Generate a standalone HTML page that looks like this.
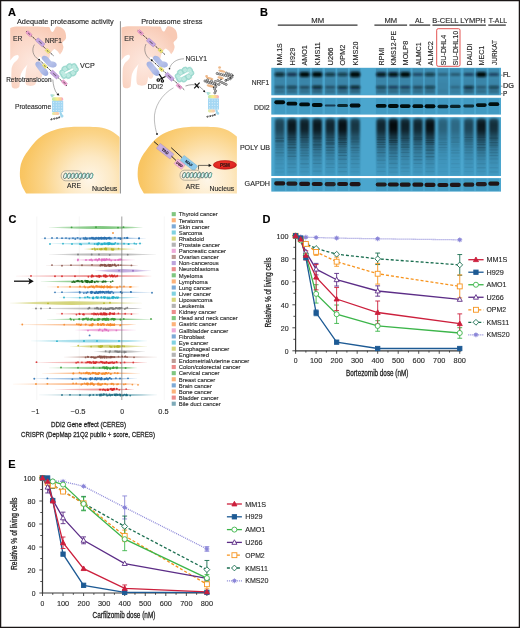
<!DOCTYPE html><html><head><meta charset="utf-8"><style>html,body{margin:0;padding:0;background:#fff;width:520px;height:628px;overflow:hidden}svg{display:block;will-change:transform}text{font-family:"Liberation Sans",sans-serif;stroke:#2a2a2a;stroke-width:0.14px}</style></head><body>
<svg width="520" height="628" viewBox="0 0 520 628">
<rect x="0" y="0" width="520" height="628" fill="#fff"/>
<defs><radialGradient id="erg" cx="0.4" cy="0.6" r="0.65"><stop offset="0" stop-color="#fde8df"/><stop offset="0.6" stop-color="#fbd9ca"/><stop offset="1" stop-color="#f8cab5"/></radialGradient><radialGradient id="nucgl" gradientUnits="userSpaceOnUse" cx="90" cy="180" r="78"><stop offset="0" stop-color="#fef6e8"/><stop offset="0.3" stop-color="#fde9c4"/><stop offset="0.6" stop-color="#fbd488"/><stop offset="0.85" stop-color="#f9c664"/><stop offset="1" stop-color="#f8c15a"/></radialGradient><radialGradient id="nucgr" gradientUnits="userSpaceOnUse" cx="207.8" cy="180" r="78"><stop offset="0" stop-color="#fef6e8"/><stop offset="0.3" stop-color="#fde9c4"/><stop offset="0.6" stop-color="#fbd488"/><stop offset="0.85" stop-color="#f9c664"/><stop offset="1" stop-color="#f8c15a"/></radialGradient><linearGradient id="beang" x1="0" y1="0" x2="1" y2="1"><stop offset="0" stop-color="#a3b2e2"/><stop offset="0.6" stop-color="#b7c2ea"/><stop offset="1" stop-color="#a2b0e0"/></linearGradient><linearGradient id="beang2" x1="0" y1="0" x2="1" y2="1"><stop offset="0" stop-color="#a0afe0"/><stop offset="0.5" stop-color="#b9c4ec"/><stop offset="1" stop-color="#96a6dc"/></linearGradient><linearGradient id="capg" x1="0" y1="0" x2="1" y2="0"><stop offset="0" stop-color="#b8e8a8"/><stop offset="0.45" stop-color="#fbf08a"/><stop offset="0.8" stop-color="#fbc8a0"/><stop offset="1" stop-color="#f6a0c8"/></linearGradient><linearGradient id="botg" x1="0" y1="0" x2="1" y2="0"><stop offset="0" stop-color="#d8f0a0"/><stop offset="0.5" stop-color="#fbd8a8"/><stop offset="1" stop-color="#f8c4b0"/></linearGradient><linearGradient id="flagg" x1="0" y1="0" x2="1" y2="0"><stop offset="0" stop-color="#9ad8f0"/><stop offset="1" stop-color="#c8ecb0"/></linearGradient><radialGradient id="psmg" cx="0.45" cy="0.4" r="0.7"><stop offset="0" stop-color="#ee3a2c"/><stop offset="0.7" stop-color="#de2420"/><stop offset="1" stop-color="#c01616"/></radialGradient><clipPath id="cl"><rect x="1" y="1" width="118.6" height="192.5"/></clipPath><clipPath id="cr"><rect x="121.2" y="1" width="115.7" height="192.5"/></clipPath></defs>
<g clip-path="url(#cl)"><path d="M27.2 195.5 C26.98 195.12 26.73 194.68 25.9 193.2 C25.07 191.72 23.15 188.92 22.2 186.6 C21.25 184.28 20.58 181.75 20.2 179.3 C19.82 176.85 19.8 174.35 19.9 171.9 C20 169.45 20.17 167.03 20.8 164.6 C21.43 162.17 22.37 159.77 23.7 157.3 C25.03 154.83 26.73 152.55 28.8 149.8 C30.87 147.05 33.33 143.47 36.1 140.8 C38.87 138.13 41.93 135.73 45.4 133.8 C48.87 131.87 53.07 130.3 56.9 129.2 C60.73 128.1 64.55 127.62 68.4 127.2 C72.25 126.78 75.43 126.72 80 126.7 C84.57 126.68 91.13 126.63 95.8 127.1 C100.47 127.57 104.13 127.93 108 129.5 C111.87 131.07 115.83 133.75 119 136.5 C122.17 139.25 125.67 144.42 127 146 L126 196Z" fill="url(#nucgl)"/></g>
<g clip-path="url(#cr)"><path d="M145 195.5 C144.78 195.12 144.53 194.68 143.7 193.2 C142.87 191.72 140.95 188.92 140 186.6 C139.05 184.28 138.38 181.75 138 179.3 C137.62 176.85 137.6 174.35 137.7 171.9 C137.8 169.45 137.97 167.03 138.6 164.6 C139.23 162.17 140.17 159.77 141.5 157.3 C142.83 154.83 144.53 152.55 146.6 149.8 C148.67 147.05 151.13 143.47 153.9 140.8 C156.67 138.13 159.73 135.73 163.2 133.8 C166.67 131.87 170.87 130.3 174.7 129.2 C178.53 128.1 182.35 127.62 186.2 127.2 C190.05 126.78 193.23 126.72 197.8 126.7 C202.37 126.68 208.93 126.63 213.6 127.1 C218.27 127.57 221.93 127.93 225.8 129.5 C229.67 131.07 233.63 133.75 236.8 136.5 C239.97 139.25 243.47 144.42 244.8 146 L245 196Z" fill="url(#nucgr)"/></g>
<path d="M121.4 27.6 C124 26.6 127 26.3 130 26.3 C138 26.2 146 26.2 152 26.4 C155 26.5 158 26.6 160.4 26.6 C161.6 28 161.8 31.5 163.6 31.6 C165.4 31.6 166 27.6 167.3 26.5 C169.5 25.6 172.8 27 175 29.2 C176.6 30.8 177.4 34 177.3 37.7 C177 39.6 174.5 40.6 173.5 42.5 C173.3 44 174.8 45.2 174.6 47.2 C174.3 50 172.6 52.5 171.2 54.2 C170 52.4 168.4 49.8 165.8 48.6 C164 49.2 162.4 51.6 161.5 53.8 L160.4 58.5 L156 61 L154.5 62 C153.5 65 153.2 68 153.4 71.3 C153.8 74.5 153.4 78 151.3 78.7 C149.6 79.2 148.6 77.8 148.2 76.5 C147.8 79 147.8 82 146.5 84 C144.5 86 140 86.3 137.5 84.5 C136.2 83 136.3 78 136.7 74 C137 70 137.8 66 138.7 64.1 C136.5 66.5 133.5 70 132 74 C131 78 131.3 84 130.5 86.5 C129.5 88.5 125 89 123.2 87 C122.4 84 122.4 75 122.8 68 C123.6 65 124.5 63.5 125.6 62.3 C127 60.8 129.6 59 129.9 57.2 C130.2 55.8 129.6 54.7 128.6 54.7 C126.8 54.8 125 56 123.8 57.2 C122.9 58.2 122 59.2 121.4 60.2 Z" fill="url(#erg)" transform="translate(-111.2 0.3)"/>
<path d="M121.4 27.6 C124 26.6 127 26.3 130 26.3 C138 26.2 146 26.2 152 26.4 C155 26.5 158 26.6 160.4 26.6 C161.6 28 161.8 31.5 163.6 31.6 C165.4 31.6 166 27.6 167.3 26.5 C169.5 25.6 172.8 27 175 29.2 C176.6 30.8 177.4 34 177.3 37.7 C177 39.6 174.5 40.6 173.5 42.5 C173.3 44 174.8 45.2 174.6 47.2 C174.3 50 172.6 52.5 171.2 54.2 C170 52.4 168.4 49.8 165.8 48.6 C164 49.2 162.4 51.6 161.5 53.8 L160.4 58.5 L156 61 L154.5 62 C153.5 65 153.2 68 153.4 71.3 C153.8 74.5 153.4 78 151.3 78.7 C149.6 79.2 148.6 77.8 148.2 76.5 C147.8 79 147.8 82 146.5 84 C144.5 86 140 86.3 137.5 84.5 C136.2 83 136.3 78 136.7 74 C137 70 137.8 66 138.7 64.1 C136.5 66.5 133.5 70 132 74 C131 78 131.3 84 130.5 86.5 C129.5 88.5 125 89 123.2 87 C122.4 84 122.4 75 122.8 68 C123.6 65 124.5 63.5 125.6 62.3 C127 60.8 129.6 59 129.9 57.2 C130.2 55.8 129.6 54.7 128.6 54.7 C126.8 54.8 125 56 123.8 57.2 C122.9 58.2 122 59.2 121.4 60.2 Z" fill="url(#erg)"/>
<line x1="120.4" y1="21.2" x2="120.4" y2="193.5" stroke="#8c8c8c" stroke-width="1"/>
<text x="16.9" y="23.5" font-size="7.9" fill="#2a2a2a" textLength="96.8" lengthAdjust="spacingAndGlyphs">Adequate proteasome activity</text>
<text x="141.2" y="23.5" font-size="7.9" fill="#2a2a2a" textLength="61.3" lengthAdjust="spacingAndGlyphs">Proteasome stress</text>
<text x="8.1" y="15.8" font-size="11" fill="#000" font-weight="bold" style="stroke:#000;stroke-width:0.15px">A</text>
<text x="13.1" y="40.6" font-size="7" fill="#3a3a3a" textLength="9.4" lengthAdjust="spacingAndGlyphs">ER</text>
<text x="124.3" y="41" font-size="7" fill="#3a3a3a" textLength="9.6" lengthAdjust="spacingAndGlyphs">ER</text>
<text x="45" y="42.5" font-size="7" fill="#2a2a2a" textLength="16.9" lengthAdjust="spacingAndGlyphs">NRF1</text>
<line x1="26.3" y1="31.3" x2="53.4" y2="55.6" stroke="#0a0a0a" stroke-width="0.85" stroke-dasharray="1.4 0.8"/>
<rect x="26.05" y="32.2" width="5.9" height="3" rx="0.6" fill="#f0a4d4" stroke="#c26aa6" stroke-width="0.35" transform="rotate(41.88 29 33.7)"/>
<rect x="27.6" y="33.25" width="2.8" height="0.9" fill="#4a4048" opacity="0.75" transform="rotate(41.88 29 33.7)"/>
<rect x="35.5" y="40.3" width="9.4" height="4" rx="0.6" fill="#c6a6e0" stroke="#9a78b8" stroke-width="0.35" transform="rotate(41.88 40.2 42.3)"/>
<rect x="38.2" y="41.85" width="4" height="0.9" fill="#4a4048" opacity="0.75" transform="rotate(41.88 40.2 42.3)"/>
<rect x="45.45" y="49.5" width="4.5" height="3" rx="0.6" fill="#f6f07c" stroke="#c8c040" stroke-width="0.35" transform="rotate(41.88 47.7 51)"/>
<rect x="46.7" y="50.55" width="2" height="0.9" fill="#4a4048" opacity="0.75" transform="rotate(41.88 47.7 51)"/>
<g transform="translate(-111.2 0)"><line x1="149.8" y1="57.8" x2="163.5" y2="71.8" stroke="#fff" stroke-width="3.4"/><path d="M154.2 56.0 C156 55.2 158 56 159.3 57.5 L162.3 61.2 C165 61.3 167.6 62.2 167.9 64.3 C168.1 66.6 166 67.9 163.4 67.6 C161.4 67.4 159.9 66.5 158.5 65.2 L153.5 59.6 C152.5 58.4 152.8 56.8 154.2 56.0 Z" fill="url(#beang)"/><path d="M147.5 62.0 C149 61 151 61.5 152 62.8 L156.8 68.5 C158.5 70.2 159.9 72 159.5 74 C159.1 75.8 157 76.4 155.2 75.5 C153.5 74.6 152.5 73.5 151.6 72.2 L147.2 66.2 C146.2 64.8 146.3 63 147.5 62.0 Z" fill="url(#beang2)"/></g>
<path d="M34.4 44.6 C31.2 50 33.2 56.2 38.2 59.2" fill="none" stroke="#555" stroke-width="0.5"/>
<line x1="39" y1="59.6" x2="67" y2="86" stroke="#0a0a0a" stroke-width="0.85" stroke-dasharray="1.4 0.8"/>
<rect x="42.55" y="64.5" width="4.5" height="3" rx="0.6" fill="#f6f07c" stroke="#c8c040" stroke-width="0.35" transform="rotate(43.32 44.8 66)"/>
<rect x="43.8" y="65.55" width="2" height="0.9" fill="#4a4048" opacity="0.75" transform="rotate(43.32 44.8 66)"/>
<rect x="49.9" y="72.6" width="9.4" height="4" rx="0.6" fill="#c6a6e0" stroke="#9a78b8" stroke-width="0.35" transform="rotate(43.32 54.6 74.6)"/>
<rect x="52.6" y="74.15" width="4" height="0.9" fill="#4a4048" opacity="0.75" transform="rotate(43.32 54.6 74.6)"/>
<rect x="61.45" y="81.2" width="5.9" height="3" rx="0.6" fill="#f0a4d4" stroke="#c26aa6" stroke-width="0.35" transform="rotate(43.32 64.4 82.7)"/>
<rect x="63" y="82.25" width="2.8" height="0.9" fill="#4a4048" opacity="0.75" transform="rotate(43.32 64.4 82.7)"/>
<circle cx="39" cy="59.6" r="0.9" fill="#111"/>
<g transform="translate(69 71) rotate(-28)">
<ellipse cx="0" cy="0" rx="6.4" ry="3.4" fill="#a4ddd3"/>
<circle cx="6.37" cy="1.49" r="3.2" fill="#a4ddd3" stroke="#88d1c4" stroke-width="0.35"/>
<circle cx="2.64" cy="3.6" r="3.2" fill="#a4ddd3" stroke="#88d1c4" stroke-width="0.35"/>
<circle cx="-2.64" cy="3.6" r="3.2" fill="#a4ddd3" stroke="#88d1c4" stroke-width="0.35"/>
<circle cx="-6.37" cy="1.49" r="3.2" fill="#a4ddd3" stroke="#88d1c4" stroke-width="0.35"/>
<circle cx="-6.37" cy="-1.49" r="3.2" fill="#a4ddd3" stroke="#88d1c4" stroke-width="0.35"/>
<circle cx="-2.64" cy="-3.6" r="3.2" fill="#a4ddd3" stroke="#88d1c4" stroke-width="0.35"/>
<circle cx="2.64" cy="-3.6" r="3.2" fill="#a4ddd3" stroke="#88d1c4" stroke-width="0.35"/>
<circle cx="6.37" cy="-1.49" r="3.2" fill="#a4ddd3" stroke="#88d1c4" stroke-width="0.35"/>
<circle cx="6.37" cy="1.49" r="1.5" fill="#b9e8df" stroke="#d6f3ed" stroke-width="0.4"/>
<circle cx="2.64" cy="3.6" r="1.5" fill="#b9e8df" stroke="#d6f3ed" stroke-width="0.4"/>
<circle cx="-2.64" cy="3.6" r="1.5" fill="#b9e8df" stroke="#d6f3ed" stroke-width="0.4"/>
<circle cx="-6.37" cy="1.49" r="1.5" fill="#b9e8df" stroke="#d6f3ed" stroke-width="0.4"/>
<circle cx="-6.37" cy="-1.49" r="1.5" fill="#b9e8df" stroke="#d6f3ed" stroke-width="0.4"/>
<circle cx="-2.64" cy="-3.6" r="1.5" fill="#b9e8df" stroke="#d6f3ed" stroke-width="0.4"/>
<circle cx="2.64" cy="-3.6" r="1.5" fill="#b9e8df" stroke="#d6f3ed" stroke-width="0.4"/>
<circle cx="6.37" cy="-1.49" r="1.5" fill="#b9e8df" stroke="#d6f3ed" stroke-width="0.4"/>
<circle cx="-3.3" cy="0.2" r="1.2" fill="#b9e8df" stroke="#d6f3ed" stroke-width="0.4"/>
<circle cx="3.3" cy="-0.2" r="1.2" fill="#b9e8df" stroke="#d6f3ed" stroke-width="0.4"/>
<ellipse cx="0" cy="0" rx="5.0" ry="0.9" fill="#fff"/>
</g>
<text x="80" y="68" font-size="7.2" fill="#2a2a2a" textLength="14.7" lengthAdjust="spacingAndGlyphs">VCP</text>
<text x="6.2" y="82.3" font-size="6.9" fill="#2a2a2a" textLength="45.3" lengthAdjust="spacingAndGlyphs">Retrotranslocon</text>
<path d="M52.8 79.5 C53.2 85 54.5 91 57.4 94" fill="none" stroke="#555" stroke-width="0.5"/>
<path d="M59.4 95.6 L56.6 94.9 L58.2 93.0Z" fill="#111"/>
<g transform="translate(52 100.7) scale(1)">
<path d="M-1.8 -6 C-0.5 -6.8 2 -6.6 3.2 -5.6 C2 -5 1.2 -4.4 1 -3.4 L-0.2 -3.2 C-0.6 -4.2 -1.4 -5 -1.8 -6Z" fill="url(#flagg)"/>
<rect x="0" y="-3.4" width="11.2" height="3.6" rx="1.6" fill="url(#capg)"/>
<rect x="0" y="0" width="11.2" height="11.4" fill="#a4d7f3"/>
<circle cx="1.6" cy="1.6" r="0.55" fill="#e4f4fc"/>
<circle cx="1.6" cy="4.35" r="0.55" fill="#e4f4fc"/>
<circle cx="1.6" cy="7.1" r="0.55" fill="#e4f4fc"/>
<circle cx="1.6" cy="9.85" r="0.55" fill="#e4f4fc"/>
<circle cx="4.3" cy="1.6" r="0.55" fill="#e4f4fc"/>
<circle cx="4.3" cy="4.35" r="0.55" fill="#e4f4fc"/>
<circle cx="4.3" cy="7.1" r="0.55" fill="#e4f4fc"/>
<circle cx="4.3" cy="9.85" r="0.55" fill="#e4f4fc"/>
<circle cx="7" cy="1.6" r="0.55" fill="#e4f4fc"/>
<circle cx="7" cy="4.35" r="0.55" fill="#e4f4fc"/>
<circle cx="7" cy="7.1" r="0.55" fill="#e4f4fc"/>
<circle cx="7" cy="9.85" r="0.55" fill="#e4f4fc"/>
<circle cx="9.7" cy="1.6" r="0.55" fill="#e4f4fc"/>
<circle cx="9.7" cy="4.35" r="0.55" fill="#e4f4fc"/>
<circle cx="9.7" cy="7.1" r="0.55" fill="#e4f4fc"/>
<circle cx="9.7" cy="9.85" r="0.55" fill="#e4f4fc"/>
<rect x="0" y="11.2" width="7.2" height="3.2" rx="1.5" fill="url(#botg)"/>
<path d="M7.6 11 C9.5 11 10.2 12 10 13.5 C11.4 14 12 15.5 11 16.5 C9.6 17.2 8.2 16.5 8.4 15 C7.8 14 7.4 12.5 7.6 11Z" fill="#9fd6ec"/>
<path d="M-1.4 18.9 l1.2 -1.3 M-1.1 19.3 l1.6 -0.7" stroke="#111" stroke-width="0.85" fill="none"/>
<path d="M1.4 18.3 l1.2 -1.3 M1.7 18.7 l1.6 -0.7" stroke="#111" stroke-width="0.85" fill="none"/>
<path d="M3.9 17.8 l1.2 -1.3 M4.2 18.2 l1.6 -0.7" stroke="#111" stroke-width="0.85" fill="none"/>
<path d="M6.2 17 l1.2 -1.3 M6.5 17.4 l1.6 -0.7" stroke="#111" stroke-width="0.85" fill="none"/>
</g>
<text x="14.9" y="108.9" font-size="7" fill="#2a2a2a" textLength="36.3" lengthAdjust="spacingAndGlyphs">Proteasome</text>
<rect x="61.2" y="170.8" width="21" height="10" rx="4.5" fill="#fcefd6" stroke="#8a8478" stroke-width="0.6"/>
<ellipse cx="65.2" cy="175.8" rx="1.5" ry="2.9" transform="rotate(18 65.2 175.8)" fill="#e6f6f2" stroke="#2c4644" stroke-width="0.6"/>
<path d="M65.9 178.2 C66.8 176.3 66.8 174.3 66.4 173.2" stroke="#6cc2b2" stroke-width="0.9" fill="none"/>
<ellipse cx="68.92" cy="175.8" rx="1.5" ry="2.9" transform="rotate(18 68.92 175.8)" fill="#e6f6f2" stroke="#2c4644" stroke-width="0.6"/>
<path d="M69.62 178.2 C70.52 176.3 70.52 174.3 70.12 173.2" stroke="#6cc2b2" stroke-width="0.9" fill="none"/>
<ellipse cx="72.64" cy="175.8" rx="1.5" ry="2.9" transform="rotate(18 72.64 175.8)" fill="#e6f6f2" stroke="#2c4644" stroke-width="0.6"/>
<path d="M73.34 178.2 C74.24 176.3 74.24 174.3 73.84 173.2" stroke="#6cc2b2" stroke-width="0.9" fill="none"/>
<ellipse cx="76.36" cy="175.8" rx="1.5" ry="2.9" transform="rotate(18 76.36 175.8)" fill="#e6f6f2" stroke="#2c4644" stroke-width="0.6"/>
<path d="M77.06 178.2 C77.96 176.3 77.96 174.3 77.56 173.2" stroke="#6cc2b2" stroke-width="0.9" fill="none"/>
<ellipse cx="80.08" cy="175.8" rx="1.5" ry="2.9" transform="rotate(18 80.08 175.8)" fill="#e6f6f2" stroke="#2c4644" stroke-width="0.6"/>
<path d="M80.78 178.2 C81.68 176.3 81.68 174.3 81.28 173.2" stroke="#6cc2b2" stroke-width="0.9" fill="none"/>
<ellipse cx="83.8" cy="175.8" rx="1.5" ry="2.9" transform="rotate(18 83.8 175.8)" fill="#e6f6f2" stroke="#2c4644" stroke-width="0.6"/>
<path d="M84.5 178.2 C85.4 176.3 85.4 174.3 85 173.2" stroke="#6cc2b2" stroke-width="0.9" fill="none"/>
<ellipse cx="87.52" cy="175.8" rx="1.5" ry="2.9" transform="rotate(18 87.52 175.8)" fill="#e6f6f2" stroke="#2c4644" stroke-width="0.6"/>
<path d="M88.22 178.2 C89.12 176.3 89.12 174.3 88.72 173.2" stroke="#6cc2b2" stroke-width="0.9" fill="none"/>
<ellipse cx="91.24" cy="175.8" rx="1.5" ry="2.9" transform="rotate(18 91.24 175.8)" fill="#e6f6f2" stroke="#2c4644" stroke-width="0.6"/>
<path d="M91.94 178.2 C92.84 176.3 92.84 174.3 92.44 173.2" stroke="#6cc2b2" stroke-width="0.9" fill="none"/>
<text x="67.1" y="187.9" font-size="7.2" fill="#2a2a2a" textLength="13.9" lengthAdjust="spacingAndGlyphs">ARE</text>
<text x="92" y="190.5" font-size="6.9" fill="#2a2a2a" textLength="25.3" lengthAdjust="spacingAndGlyphs">Nucleus</text>
<line x1="137.8" y1="30.5" x2="165" y2="54.6" stroke="#0a0a0a" stroke-width="0.85" stroke-dasharray="1.4 0.8"/>
<rect x="137.55" y="31" width="5.9" height="3" rx="0.6" fill="#f0a4d4" stroke="#c26aa6" stroke-width="0.35" transform="rotate(41.54 140.5 32.5)"/>
<rect x="139.1" y="32.05" width="2.8" height="0.9" fill="#4a4048" opacity="0.75" transform="rotate(41.54 140.5 32.5)"/>
<rect x="146.4" y="40.5" width="9.4" height="4" rx="0.6" fill="#c6a6e0" stroke="#9a78b8" stroke-width="0.35" transform="rotate(41.54 151.1 42.5)"/>
<rect x="149.1" y="42.05" width="4" height="0.9" fill="#4a4048" opacity="0.75" transform="rotate(41.54 151.1 42.5)"/>
<rect x="158.25" y="49.1" width="4.5" height="3" rx="0.6" fill="#f6f07c" stroke="#c8c040" stroke-width="0.35" transform="rotate(41.54 160.5 50.6)"/>
<rect x="159.5" y="50.15" width="2" height="0.9" fill="#4a4048" opacity="0.75" transform="rotate(41.54 160.5 50.6)"/>
<g transform="translate(0 0)"><line x1="149.8" y1="57.8" x2="163.5" y2="71.8" stroke="#fff" stroke-width="3.4"/><path d="M154.2 56.0 C156 55.2 158 56 159.3 57.5 L162.3 61.2 C165 61.3 167.6 62.2 167.9 64.3 C168.1 66.6 166 67.9 163.4 67.6 C161.4 67.4 159.9 66.5 158.5 65.2 L153.5 59.6 C152.5 58.4 152.8 56.8 154.2 56.0 Z" fill="url(#beang)"/><path d="M147.5 62.0 C149 61 151 61.5 152 62.8 L156.8 68.5 C158.5 70.2 159.9 72 159.5 74 C159.1 75.8 157 76.4 155.2 75.5 C153.5 74.6 152.5 73.5 151.6 72.2 L147.2 66.2 C146.2 64.8 146.3 63 147.5 62.0 Z" fill="url(#beang2)"/></g>
<path d="M146 44 C143.2 50 145.5 56.5 151 60" fill="none" stroke="#555" stroke-width="0.5"/>
<line x1="151.75" y1="60.25" x2="184.5" y2="90" stroke="#0a0a0a" stroke-width="0.85" stroke-dasharray="1.4 0.8"/>
<rect x="159.05" y="67.7" width="4.5" height="3" rx="0.6" fill="#f6f07c" stroke="#c8c040" stroke-width="0.35" transform="rotate(42.25 161.3 69.2)"/>
<rect x="160.3" y="68.75" width="2" height="0.9" fill="#4a4048" opacity="0.75" transform="rotate(42.25 161.3 69.2)"/>
<rect x="164.8" y="74.8" width="9.4" height="4" rx="0.6" fill="#c6a6e0" stroke="#9a78b8" stroke-width="0.35" transform="rotate(42.25 169.5 76.8)"/>
<rect x="167.5" y="76.35" width="4" height="0.9" fill="#4a4048" opacity="0.75" transform="rotate(42.25 169.5 76.8)"/>
<rect x="176.25" y="84.9" width="5.9" height="3" rx="0.6" fill="#f0a4d4" stroke="#c26aa6" stroke-width="0.35" transform="rotate(42.25 179.2 86.4)"/>
<rect x="177.8" y="85.95" width="2.8" height="0.9" fill="#4a4048" opacity="0.75" transform="rotate(42.25 179.2 86.4)"/>
<circle cx="151.75" cy="60.25" r="0.9" fill="#111"/>
<g stroke="#111" stroke-width="1.2" fill="none"><path d="M159.2 74.2 L162.6 79.4 M165.5 76.5 L159.9 79.3"/><circle cx="158.3" cy="80.0" r="1.25"/><circle cx="162.4" cy="80.9" r="1.15"/></g>
<text x="147.4" y="89.4" font-size="7.2" fill="#2a2a2a" textLength="15.6" lengthAdjust="spacingAndGlyphs">DDI2</text>
<g transform="translate(184.5 74.6) rotate(-28)">
<ellipse cx="0" cy="0" rx="6.4" ry="3.4" fill="#a4ddd3"/>
<circle cx="6.37" cy="1.49" r="3.2" fill="#a4ddd3" stroke="#88d1c4" stroke-width="0.35"/>
<circle cx="2.64" cy="3.6" r="3.2" fill="#a4ddd3" stroke="#88d1c4" stroke-width="0.35"/>
<circle cx="-2.64" cy="3.6" r="3.2" fill="#a4ddd3" stroke="#88d1c4" stroke-width="0.35"/>
<circle cx="-6.37" cy="1.49" r="3.2" fill="#a4ddd3" stroke="#88d1c4" stroke-width="0.35"/>
<circle cx="-6.37" cy="-1.49" r="3.2" fill="#a4ddd3" stroke="#88d1c4" stroke-width="0.35"/>
<circle cx="-2.64" cy="-3.6" r="3.2" fill="#a4ddd3" stroke="#88d1c4" stroke-width="0.35"/>
<circle cx="2.64" cy="-3.6" r="3.2" fill="#a4ddd3" stroke="#88d1c4" stroke-width="0.35"/>
<circle cx="6.37" cy="-1.49" r="3.2" fill="#a4ddd3" stroke="#88d1c4" stroke-width="0.35"/>
<circle cx="6.37" cy="1.49" r="1.5" fill="#b9e8df" stroke="#d6f3ed" stroke-width="0.4"/>
<circle cx="2.64" cy="3.6" r="1.5" fill="#b9e8df" stroke="#d6f3ed" stroke-width="0.4"/>
<circle cx="-2.64" cy="3.6" r="1.5" fill="#b9e8df" stroke="#d6f3ed" stroke-width="0.4"/>
<circle cx="-6.37" cy="1.49" r="1.5" fill="#b9e8df" stroke="#d6f3ed" stroke-width="0.4"/>
<circle cx="-6.37" cy="-1.49" r="1.5" fill="#b9e8df" stroke="#d6f3ed" stroke-width="0.4"/>
<circle cx="-2.64" cy="-3.6" r="1.5" fill="#b9e8df" stroke="#d6f3ed" stroke-width="0.4"/>
<circle cx="2.64" cy="-3.6" r="1.5" fill="#b9e8df" stroke="#d6f3ed" stroke-width="0.4"/>
<circle cx="6.37" cy="-1.49" r="1.5" fill="#b9e8df" stroke="#d6f3ed" stroke-width="0.4"/>
<circle cx="-3.3" cy="0.2" r="1.2" fill="#b9e8df" stroke="#d6f3ed" stroke-width="0.4"/>
<circle cx="3.3" cy="-0.2" r="1.2" fill="#b9e8df" stroke="#d6f3ed" stroke-width="0.4"/>
<ellipse cx="0" cy="0" rx="5.0" ry="0.9" fill="#fff"/>
</g>
<text x="185.5" y="61.1" font-size="7" fill="#2a2a2a" textLength="21.6" lengthAdjust="spacingAndGlyphs">NGLY1</text>
<path d="M184 58.8 C177 58.8 171.5 62.5 169.6 68" fill="none" stroke="#666" stroke-width="0.5"/>
<circle cx="169.5" cy="68.8" r="0.8" fill="#111"/>
<path d="M185.5 86 C190 84.4 194 84.2 197.5 85.5 C200 86.5 202.5 89 204.2 91.3" fill="none" stroke="#444" stroke-width="0.5"/>
<path d="M205.4 92.6 L202.9 91.6 L204.6 89.9Z" fill="#111"/>
<path d="M194.2 88.3 L199.6 82.6 M194.8 83.4 L198.8 88.0" stroke="#111" stroke-width="1.2" fill="none"/>
<ellipse cx="206.6" cy="76.2" rx="1.4" ry="1.1" transform="rotate(0 206.6 76.2)" fill="#eeb98a"/>
<ellipse cx="209.6" cy="78.3" rx="3.9" ry="1.2" transform="rotate(15 209.6 78.3)" fill="#eeb98a"/>
<ellipse cx="210.4" cy="85.9" rx="3.9" ry="1.3" transform="rotate(15 210.4 85.9)" fill="#eeb98a"/>
<circle cx="205" cy="81" r="1.1" fill="#d6d6d6" stroke="#3c3c3c" stroke-width="0.6"/>
<circle cx="206.9" cy="81.9" r="1.1" fill="#d6d6d6" stroke="#3c3c3c" stroke-width="0.6"/>
<circle cx="208.8" cy="82.4" r="1.1" fill="#d6d6d6" stroke="#3c3c3c" stroke-width="0.6"/>
<circle cx="210.7" cy="82.9" r="1.1" fill="#d6d6d6" stroke="#3c3c3c" stroke-width="0.6"/>
<circle cx="212.6" cy="83.4" r="1.1" fill="#d6d6d6" stroke="#3c3c3c" stroke-width="0.6"/>
<circle cx="214.5" cy="83.9" r="1.1" fill="#d6d6d6" stroke="#3c3c3c" stroke-width="0.6"/>
<circle cx="216.4" cy="84.3" r="1.1" fill="#d6d6d6" stroke="#3c3c3c" stroke-width="0.6"/>
<circle cx="207.5" cy="80" r="1.1" fill="#d6d6d6" stroke="#3c3c3c" stroke-width="0.6"/>
<circle cx="211.5" cy="81.2" r="1.1" fill="#d6d6d6" stroke="#3c3c3c" stroke-width="0.6"/>
<circle cx="215.2" cy="81.6" r="1.1" fill="#d6d6d6" stroke="#3c3c3c" stroke-width="0.6"/>
<circle cx="215.8" cy="86.8" r="1.05" fill="#d6d6d6" stroke="#3c3c3c" stroke-width="0.6"/>
<circle cx="214.6" cy="88.9" r="1.05" fill="#d6d6d6" stroke="#3c3c3c" stroke-width="0.6"/>
<circle cx="215.6" cy="90.9" r="1.05" fill="#d6d6d6" stroke="#3c3c3c" stroke-width="0.6"/>
<circle cx="214.8" cy="92.9" r="1.05" fill="#d6d6d6" stroke="#3c3c3c" stroke-width="0.6"/>
<ellipse cx="219.6" cy="67.5" rx="1.4" ry="1.3" transform="rotate(0 219.6 67.5)" fill="#eeb98a"/>
<ellipse cx="221.9" cy="71.1" rx="3.7" ry="1.2" transform="rotate(15 221.9 71.1)" fill="#eeb98a"/>
<ellipse cx="220.6" cy="77.8" rx="3.3" ry="1.3" transform="rotate(15 220.6 77.8)" fill="#eeb98a"/>
<circle cx="217.2" cy="73.5" r="1.1" fill="#d6d6d6" stroke="#3c3c3c" stroke-width="0.6"/>
<circle cx="219.3" cy="74" r="1.1" fill="#d6d6d6" stroke="#3c3c3c" stroke-width="0.6"/>
<circle cx="221.4" cy="74.5" r="1.1" fill="#d6d6d6" stroke="#3c3c3c" stroke-width="0.6"/>
<circle cx="223.5" cy="75" r="1.1" fill="#d6d6d6" stroke="#3c3c3c" stroke-width="0.6"/>
<circle cx="225.6" cy="75.5" r="1.1" fill="#d6d6d6" stroke="#3c3c3c" stroke-width="0.6"/>
<circle cx="227.7" cy="76" r="1.1" fill="#d6d6d6" stroke="#3c3c3c" stroke-width="0.6"/>
<circle cx="229.8" cy="76.5" r="1.1" fill="#d6d6d6" stroke="#3c3c3c" stroke-width="0.6"/>
<circle cx="231.9" cy="77.1" r="1.1" fill="#d6d6d6" stroke="#3c3c3c" stroke-width="0.6"/>
<circle cx="226.5" cy="73.2" r="1.1" fill="#d6d6d6" stroke="#3c3c3c" stroke-width="0.6"/>
<circle cx="229" cy="74" r="1.1" fill="#d6d6d6" stroke="#3c3c3c" stroke-width="0.6"/>
<circle cx="231.5" cy="74.8" r="1.1" fill="#d6d6d6" stroke="#3c3c3c" stroke-width="0.6"/>
<circle cx="217.8" cy="80.5" r="1.05" fill="#d6d6d6" stroke="#3c3c3c" stroke-width="0.6"/>
<circle cx="219.9" cy="81.5" r="1.05" fill="#d6d6d6" stroke="#3c3c3c" stroke-width="0.6"/>
<circle cx="222" cy="82.5" r="1.05" fill="#d6d6d6" stroke="#3c3c3c" stroke-width="0.6"/>
<circle cx="224.1" cy="83.5" r="1.05" fill="#d6d6d6" stroke="#3c3c3c" stroke-width="0.6"/>
<circle cx="226.2" cy="84.5" r="1.05" fill="#d6d6d6" stroke="#3c3c3c" stroke-width="0.6"/>
<circle cx="219" cy="84.5" r="1.05" fill="#d6d6d6" stroke="#3c3c3c" stroke-width="0.6"/>
<circle cx="225.8" cy="80.5" r="1.05" fill="#d6d6d6" stroke="#3c3c3c" stroke-width="0.6"/>
<circle cx="228" cy="79.5" r="1.05" fill="#d6d6d6" stroke="#3c3c3c" stroke-width="0.6"/>
<circle cx="230.3" cy="78.8" r="1.05" fill="#d6d6d6" stroke="#3c3c3c" stroke-width="0.6"/>
<circle cx="213.5" cy="87.2" r="0.7" fill="#222"/>
<circle cx="226.2" cy="80" r="0.7" fill="#222"/>
<circle cx="215.2" cy="85" r="0.7" fill="#222"/>
<circle cx="221" cy="79.4" r="0.7" fill="#222"/>
<circle cx="230.5" cy="78" r="0.7" fill="#222"/>
<circle cx="233" cy="75.5" r="0.7" fill="#222"/>
<g transform="translate(208 98.4) scale(0.98)">
<path d="M-1.8 -6 C-0.5 -6.8 2 -6.6 3.2 -5.6 C2 -5 1.2 -4.4 1 -3.4 L-0.2 -3.2 C-0.6 -4.2 -1.4 -5 -1.8 -6Z" fill="url(#flagg)"/>
<rect x="0" y="-3.4" width="11.2" height="3.6" rx="1.6" fill="url(#capg)"/>
<rect x="0" y="0" width="11.2" height="11.4" fill="#a4d7f3"/>
<circle cx="1.6" cy="1.6" r="0.55" fill="#e4f4fc"/>
<circle cx="1.6" cy="4.35" r="0.55" fill="#e4f4fc"/>
<circle cx="1.6" cy="7.1" r="0.55" fill="#e4f4fc"/>
<circle cx="1.6" cy="9.85" r="0.55" fill="#e4f4fc"/>
<circle cx="4.3" cy="1.6" r="0.55" fill="#e4f4fc"/>
<circle cx="4.3" cy="4.35" r="0.55" fill="#e4f4fc"/>
<circle cx="4.3" cy="7.1" r="0.55" fill="#e4f4fc"/>
<circle cx="4.3" cy="9.85" r="0.55" fill="#e4f4fc"/>
<circle cx="7" cy="1.6" r="0.55" fill="#e4f4fc"/>
<circle cx="7" cy="4.35" r="0.55" fill="#e4f4fc"/>
<circle cx="7" cy="7.1" r="0.55" fill="#e4f4fc"/>
<circle cx="7" cy="9.85" r="0.55" fill="#e4f4fc"/>
<circle cx="9.7" cy="1.6" r="0.55" fill="#e4f4fc"/>
<circle cx="9.7" cy="4.35" r="0.55" fill="#e4f4fc"/>
<circle cx="9.7" cy="7.1" r="0.55" fill="#e4f4fc"/>
<circle cx="9.7" cy="9.85" r="0.55" fill="#e4f4fc"/>
<rect x="0" y="11.2" width="7.2" height="3.2" rx="1.5" fill="url(#botg)"/>
<path d="M7.6 11 C9.5 11 10.2 12 10 13.5 C11.4 14 12 15.5 11 16.5 C9.6 17.2 8.2 16.5 8.4 15 C7.8 14 7.4 12.5 7.6 11Z" fill="#9fd6ec"/>
<path d="M-1.4 18.9 l1.2 -1.3 M-1.1 19.3 l1.6 -0.7" stroke="#111" stroke-width="0.85" fill="none"/>
<path d="M1.4 18.3 l1.2 -1.3 M1.7 18.7 l1.6 -0.7" stroke="#111" stroke-width="0.85" fill="none"/>
<path d="M3.9 17.8 l1.2 -1.3 M4.2 18.2 l1.6 -0.7" stroke="#111" stroke-width="0.85" fill="none"/>
<path d="M6.2 17 l1.2 -1.3 M6.5 17.4 l1.6 -0.7" stroke="#111" stroke-width="0.85" fill="none"/>
</g>
<path d="M173.5 87.8 C162 94 153.5 107 154.4 120 C154.8 126 155.8 130.5 156.8 133.4" fill="none" stroke="#7a7a7a" stroke-width="0.5"/>
<circle cx="157" cy="134" r="0.9" fill="#111"/>
<line x1="154" y1="141.6" x2="158.4" y2="145.4" stroke="#111" stroke-width="0.9"/>
<rect x="156.45" y="148.05" width="17.5" height="6.3" rx="0.6" fill="#c8aee0" stroke="#9c80bc" stroke-width="0.35" transform="rotate(38 165.2 151.2)"/>
<text x="165.2" y="152.6" font-size="3.9" fill="#2a1a3a" font-weight="bold" text-anchor="middle" transform="rotate(38 165.2 151.2)">TAD</text>
<line x1="171.5" y1="156.2" x2="176" y2="160.5" stroke="#111" stroke-width="0.9"/>
<rect x="174.85" y="161.2" width="9.5" height="6" rx="0.6" fill="#f4b4dc" stroke="#c884b2" stroke-width="0.35" transform="rotate(38 179.6 164.2)"/>
<text x="179.6" y="165.5" font-size="3.5" fill="#4a1838" font-weight="bold" text-anchor="middle" transform="rotate(38 179.6 164.2)">DBD</text>
<line x1="171.2" y1="147.7" x2="182" y2="157.6" stroke="#111" stroke-width="0.9"/>
<rect x="180.25" y="160.05" width="17.5" height="6.3" rx="0.6" fill="#8ecaec" stroke="#6aa8cc" stroke-width="0.35" transform="rotate(38 189 163.2)"/>
<text x="189" y="164.6" font-size="3.9" fill="#10283e" font-weight="bold" text-anchor="middle" transform="rotate(38 189 163.2)">MAF</text>
<rect x="180" y="170.2" width="21" height="10" rx="4.5" fill="#fcefd6" stroke="#8a8478" stroke-width="0.6"/>
<ellipse cx="184" cy="175.2" rx="1.5" ry="2.9" transform="rotate(18 184 175.2)" fill="#e6f6f2" stroke="#2c4644" stroke-width="0.6"/>
<path d="M184.7 177.6 C185.6 175.7 185.6 173.7 185.2 172.6" stroke="#6cc2b2" stroke-width="0.9" fill="none"/>
<ellipse cx="187.72" cy="175.2" rx="1.5" ry="2.9" transform="rotate(18 187.72 175.2)" fill="#e6f6f2" stroke="#2c4644" stroke-width="0.6"/>
<path d="M188.42 177.6 C189.32 175.7 189.32 173.7 188.92 172.6" stroke="#6cc2b2" stroke-width="0.9" fill="none"/>
<ellipse cx="191.44" cy="175.2" rx="1.5" ry="2.9" transform="rotate(18 191.44 175.2)" fill="#e6f6f2" stroke="#2c4644" stroke-width="0.6"/>
<path d="M192.14 177.6 C193.04 175.7 193.04 173.7 192.64 172.6" stroke="#6cc2b2" stroke-width="0.9" fill="none"/>
<ellipse cx="195.16" cy="175.2" rx="1.5" ry="2.9" transform="rotate(18 195.16 175.2)" fill="#e6f6f2" stroke="#2c4644" stroke-width="0.6"/>
<path d="M195.86 177.6 C196.76 175.7 196.76 173.7 196.36 172.6" stroke="#6cc2b2" stroke-width="0.9" fill="none"/>
<ellipse cx="198.88" cy="175.2" rx="1.5" ry="2.9" transform="rotate(18 198.88 175.2)" fill="#e6f6f2" stroke="#2c4644" stroke-width="0.6"/>
<path d="M199.58 177.6 C200.48 175.7 200.48 173.7 200.08 172.6" stroke="#6cc2b2" stroke-width="0.9" fill="none"/>
<ellipse cx="202.6" cy="175.2" rx="1.5" ry="2.9" transform="rotate(18 202.6 175.2)" fill="#e6f6f2" stroke="#2c4644" stroke-width="0.6"/>
<path d="M203.3 177.6 C204.2 175.7 204.2 173.7 203.8 172.6" stroke="#6cc2b2" stroke-width="0.9" fill="none"/>
<ellipse cx="206.32" cy="175.2" rx="1.5" ry="2.9" transform="rotate(18 206.32 175.2)" fill="#e6f6f2" stroke="#2c4644" stroke-width="0.6"/>
<path d="M207.02 177.6 C207.92 175.7 207.92 173.7 207.52 172.6" stroke="#6cc2b2" stroke-width="0.9" fill="none"/>
<ellipse cx="210.04" cy="175.2" rx="1.5" ry="2.9" transform="rotate(18 210.04 175.2)" fill="#e6f6f2" stroke="#2c4644" stroke-width="0.6"/>
<path d="M210.74 177.6 C211.64 175.7 211.64 173.7 211.24 172.6" stroke="#6cc2b2" stroke-width="0.9" fill="none"/>
<path d="M198.5 169.6 L198.5 165.4 L209.6 165.4" fill="none" stroke="#111" stroke-width="0.6"/>
<path d="M211.6 165.4 L208.6 163.8 L208.6 167.0Z" fill="#111"/>
<ellipse cx="224.9" cy="164.9" rx="11.6" ry="4.3" fill="url(#psmg)" stroke="#b01212" stroke-width="0.6"/>
<text x="224.9" y="166.6" font-size="4.6" fill="#3a0808" font-weight="bold" text-anchor="middle">PSM</text>
<text x="185.8" y="188.5" font-size="7.2" fill="#2a2a2a" textLength="13.9" lengthAdjust="spacingAndGlyphs">ARE</text>
<text x="209.6" y="190.8" font-size="6.9" fill="#2a2a2a" textLength="24.6" lengthAdjust="spacingAndGlyphs">Nucleus</text>
<defs><filter id="bb" x="-30%" y="-100%" width="160%" height="300%"><feGaussianBlur stdDeviation="0.8 0.55"/></filter><filter id="bb2" x="-30%" y="-100%" width="160%" height="300%"><feGaussianBlur stdDeviation="0.9 0.85"/></filter><filter id="bb3" x="-30%" y="-100%" width="160%" height="300%"><feGaussianBlur stdDeviation="0.6 0.4"/></filter><filter id="bs" x="-30%" y="-10%" width="160%" height="120%"><feGaussianBlur stdDeviation="1.1 0.9"/></filter><linearGradient id="ubg" x1="0" y1="0" x2="0" y2="1"><stop offset="0" stop-color="#010507" stop-opacity="0.6"/><stop offset="0.04" stop-color="#010507" stop-opacity="0.85"/><stop offset="0.1" stop-color="#010507" stop-opacity="0.97"/><stop offset="0.2" stop-color="#010507" stop-opacity="0.95"/><stop offset="0.28" stop-color="#010507" stop-opacity="0.78"/><stop offset="0.36" stop-color="#010507" stop-opacity="0.58"/><stop offset="0.46" stop-color="#010507" stop-opacity="0.42"/><stop offset="0.58" stop-color="#010507" stop-opacity="0.28"/><stop offset="0.72" stop-color="#010507" stop-opacity="0.16"/><stop offset="0.86" stop-color="#010507" stop-opacity="0.08"/><stop offset="1" stop-color="#010507" stop-opacity="0.04"/></linearGradient></defs>
<rect x="271.3" y="67.8" width="229.7" height="27.5" fill="#4ba6ce"/>
<rect x="274.4" y="68.4" width="10.6" height="26.3" fill="#3d8bb0"/>
<rect x="286.6" y="68.4" width="10.6" height="26.3" fill="#3d8bb0"/>
<rect x="299.3" y="68.4" width="10.6" height="26.3" fill="#3d8bb0"/>
<rect x="311.9" y="68.4" width="10.6" height="26.3" fill="#3d8bb0"/>
<rect x="324.9" y="68.4" width="10.6" height="26.3" fill="#3d8bb0"/>
<rect x="337.3" y="68.4" width="10.6" height="26.3" fill="#3d8bb0"/>
<rect x="349.8" y="68.4" width="10.6" height="26.3" fill="#3d8bb0"/>
<rect x="375.9" y="68.4" width="10.6" height="26.3" fill="#3d8bb0"/>
<rect x="388" y="68.4" width="10.6" height="26.3" fill="#3d8bb0"/>
<rect x="399.9" y="68.4" width="10.6" height="26.3" fill="#3d8bb0"/>
<rect x="412.6" y="68.4" width="10.6" height="26.3" fill="#3d8bb0"/>
<rect x="424.7" y="68.4" width="10.6" height="26.3" fill="#3d8bb0"/>
<rect x="437.6" y="68.4" width="10.6" height="26.3" fill="#3d8bb0"/>
<rect x="450" y="68.4" width="10.6" height="26.3" fill="#3d8bb0"/>
<rect x="463.5" y="68.4" width="10.6" height="26.3" fill="#3d8bb0"/>
<rect x="476" y="68.4" width="10.6" height="26.3" fill="#3d8bb0"/>
<rect x="488.5" y="68.4" width="10.6" height="26.3" fill="#3d8bb0"/>
<rect x="271.3" y="97.8" width="229.7" height="16.8" fill="#4ba6ce"/>
<rect x="274.4" y="98.4" width="10.6" height="15.6" fill="#419ac2"/>
<rect x="286.6" y="98.4" width="10.6" height="15.6" fill="#419ac2"/>
<rect x="299.3" y="98.4" width="10.6" height="15.6" fill="#419ac2"/>
<rect x="311.9" y="98.4" width="10.6" height="15.6" fill="#419ac2"/>
<rect x="324.9" y="98.4" width="10.6" height="15.6" fill="#419ac2"/>
<rect x="337.3" y="98.4" width="10.6" height="15.6" fill="#419ac2"/>
<rect x="349.8" y="98.4" width="10.6" height="15.6" fill="#419ac2"/>
<rect x="375.9" y="98.4" width="10.6" height="15.6" fill="#419ac2"/>
<rect x="388" y="98.4" width="10.6" height="15.6" fill="#419ac2"/>
<rect x="399.9" y="98.4" width="10.6" height="15.6" fill="#419ac2"/>
<rect x="412.6" y="98.4" width="10.6" height="15.6" fill="#419ac2"/>
<rect x="424.7" y="98.4" width="10.6" height="15.6" fill="#419ac2"/>
<rect x="437.6" y="98.4" width="10.6" height="15.6" fill="#419ac2"/>
<rect x="450" y="98.4" width="10.6" height="15.6" fill="#419ac2"/>
<rect x="463.5" y="98.4" width="10.6" height="15.6" fill="#419ac2"/>
<rect x="476" y="98.4" width="10.6" height="15.6" fill="#419ac2"/>
<rect x="488.5" y="98.4" width="10.6" height="15.6" fill="#419ac2"/>
<rect x="271.3" y="117.2" width="229.7" height="58.8" fill="#4ba6ce"/>
<rect x="274.4" y="117.8" width="10.6" height="57.6" fill="#439dc6"/>
<rect x="286.6" y="117.8" width="10.6" height="57.6" fill="#439dc6"/>
<rect x="299.3" y="117.8" width="10.6" height="57.6" fill="#439dc6"/>
<rect x="311.9" y="117.8" width="10.6" height="57.6" fill="#439dc6"/>
<rect x="324.9" y="117.8" width="10.6" height="57.6" fill="#439dc6"/>
<rect x="337.3" y="117.8" width="10.6" height="57.6" fill="#439dc6"/>
<rect x="349.8" y="117.8" width="10.6" height="57.6" fill="#439dc6"/>
<rect x="375.9" y="117.8" width="10.6" height="57.6" fill="#439dc6"/>
<rect x="388" y="117.8" width="10.6" height="57.6" fill="#439dc6"/>
<rect x="399.9" y="117.8" width="10.6" height="57.6" fill="#439dc6"/>
<rect x="412.6" y="117.8" width="10.6" height="57.6" fill="#439dc6"/>
<rect x="424.7" y="117.8" width="10.6" height="57.6" fill="#439dc6"/>
<rect x="437.6" y="117.8" width="10.6" height="57.6" fill="#439dc6"/>
<rect x="450" y="117.8" width="10.6" height="57.6" fill="#439dc6"/>
<rect x="463.5" y="117.8" width="10.6" height="57.6" fill="#439dc6"/>
<rect x="476" y="117.8" width="10.6" height="57.6" fill="#439dc6"/>
<rect x="488.5" y="117.8" width="10.6" height="57.6" fill="#439dc6"/>
<rect x="271.3" y="178.1" width="229.7" height="13.5" fill="#4ba6ce"/>
<rect x="274.4" y="178.7" width="10.6" height="12.3" fill="#419ac2"/>
<rect x="286.6" y="178.7" width="10.6" height="12.3" fill="#419ac2"/>
<rect x="299.3" y="178.7" width="10.6" height="12.3" fill="#419ac2"/>
<rect x="311.9" y="178.7" width="10.6" height="12.3" fill="#419ac2"/>
<rect x="324.9" y="178.7" width="10.6" height="12.3" fill="#419ac2"/>
<rect x="337.3" y="178.7" width="10.6" height="12.3" fill="#419ac2"/>
<rect x="349.8" y="178.7" width="10.6" height="12.3" fill="#419ac2"/>
<rect x="375.9" y="178.7" width="10.6" height="12.3" fill="#419ac2"/>
<rect x="388" y="178.7" width="10.6" height="12.3" fill="#419ac2"/>
<rect x="399.9" y="178.7" width="10.6" height="12.3" fill="#419ac2"/>
<rect x="412.6" y="178.7" width="10.6" height="12.3" fill="#419ac2"/>
<rect x="424.7" y="178.7" width="10.6" height="12.3" fill="#419ac2"/>
<rect x="437.6" y="178.7" width="10.6" height="12.3" fill="#419ac2"/>
<rect x="450" y="178.7" width="10.6" height="12.3" fill="#419ac2"/>
<rect x="463.5" y="178.7" width="10.6" height="12.3" fill="#419ac2"/>
<rect x="476" y="178.7" width="10.6" height="12.3" fill="#419ac2"/>
<rect x="488.5" y="178.7" width="10.6" height="12.3" fill="#419ac2"/>
<g filter="url(#bb2)">
<rect x="274.6" y="72.48" width="10.2" height="4.04" fill="#020a0e" rx="2" opacity="0.78"/>
<rect x="274.6" y="86.3" width="10.2" height="2" fill="#020a0e" rx="1" opacity="0.5"/>
<rect x="274.7" y="90.3" width="10" height="2.2" fill="#020a0e" rx="0.8" opacity="0.22"/>
<rect x="274.7" y="82" width="10" height="12" fill="#020a0e" opacity="0.05"/>
<rect x="274.7" y="79.5" width="10" height="1.2" fill="#020a0e" opacity="0.11"/>
</g>
<g filter="url(#bb2)">
<rect x="286.8" y="72.79" width="10.2" height="3.43" fill="#020a0e" rx="1.71" opacity="0.64"/>
<rect x="286.8" y="86.06" width="10.2" height="2.48" fill="#020a0e" rx="1.24" opacity="0.66"/>
<rect x="286.9" y="90.3" width="10" height="2.2" fill="#020a0e" rx="0.8" opacity="0.28"/>
<rect x="286.9" y="82" width="10" height="12" fill="#020a0e" opacity="0.05"/>
<rect x="286.9" y="79.5" width="10" height="1.2" fill="#020a0e" opacity="0.09"/>
</g>
<g filter="url(#bb2)">
<rect x="299.5" y="71.97" width="10.2" height="5.06" fill="#020a0e" rx="2" opacity="1"/>
<rect x="299.5" y="86.18" width="10.2" height="2.24" fill="#020a0e" rx="1.12" opacity="0.58"/>
<rect x="299.6" y="90.3" width="10" height="2.2" fill="#020a0e" rx="0.8" opacity="0.22"/>
<rect x="299.6" y="82" width="10" height="12" fill="#020a0e" opacity="0.05"/>
<rect x="299.6" y="79.5" width="10" height="1.2" fill="#020a0e" opacity="0.13"/>
</g>
<g filter="url(#bb2)">
<rect x="312.1" y="71.89" width="10.2" height="5.23" fill="#020a0e" rx="2" opacity="1"/>
<rect x="312.1" y="85.82" width="10.2" height="2.96" fill="#020a0e" rx="1.48" opacity="0.82"/>
<rect x="312.2" y="90.3" width="10" height="2.2" fill="#020a0e" rx="0.8" opacity="0.35"/>
<rect x="312.2" y="82" width="10" height="12" fill="#020a0e" opacity="0.05"/>
<rect x="312.2" y="79.5" width="10" height="1.2" fill="#020a0e" opacity="0.14"/>
</g>
<g filter="url(#bb2)">
<rect x="325.1" y="72.65" width="10.2" height="3.7" fill="#020a0e" rx="1.85" opacity="0.7"/>
<rect x="325.1" y="86.24" width="10.2" height="2.12" fill="#020a0e" rx="1.06" opacity="0.54"/>
<rect x="325.2" y="90.3" width="10" height="2.2" fill="#020a0e" rx="0.8" opacity="0.22"/>
<rect x="325.2" y="82" width="10" height="12" fill="#020a0e" opacity="0.05"/>
<rect x="325.2" y="79.5" width="10" height="1.2" fill="#020a0e" opacity="0.1"/>
</g>
<g filter="url(#bb2)">
<rect x="337.5" y="72.73" width="10.2" height="3.53" fill="#020a0e" rx="1.77" opacity="0.66"/>
<rect x="337.5" y="85.88" width="10.2" height="2.84" fill="#020a0e" rx="1.42" opacity="0.78"/>
<rect x="337.6" y="90.3" width="10" height="2.2" fill="#020a0e" rx="0.8" opacity="0.3"/>
<rect x="337.6" y="82" width="10" height="12" fill="#020a0e" opacity="0.05"/>
<rect x="337.6" y="79.5" width="10" height="1.2" fill="#020a0e" opacity="0.1"/>
</g>
<g filter="url(#bb2)">
<rect x="350" y="71.8" width="10.2" height="5.4" fill="#020a0e" rx="2" opacity="1"/>
<rect x="350" y="85.76" width="10.2" height="3.08" fill="#020a0e" rx="1.54" opacity="0.86"/>
<rect x="350.1" y="90.3" width="10" height="2.2" fill="#020a0e" rx="0.8" opacity="0.35"/>
<rect x="350.1" y="82" width="10" height="12" fill="#020a0e" opacity="0.05"/>
<rect x="350.1" y="79.5" width="10" height="1.2" fill="#020a0e" opacity="0.14"/>
</g>
<g filter="url(#bb2)">
<rect x="376.1" y="72.28" width="10.2" height="4.45" fill="#020a0e" rx="2" opacity="0.88"/>
<rect x="376.1" y="86.06" width="10.2" height="2.48" fill="#020a0e" rx="1.24" opacity="0.66"/>
<rect x="376.2" y="90.3" width="10" height="2.2" fill="#020a0e" rx="0.8" opacity="0.28"/>
<rect x="376.2" y="82" width="10" height="12" fill="#020a0e" opacity="0.05"/>
<rect x="376.2" y="79.5" width="10" height="1.2" fill="#020a0e" opacity="0.12"/>
</g>
<g filter="url(#bb2)">
<rect x="388.2" y="72.14" width="10.2" height="4.72" fill="#020a0e" rx="2" opacity="0.94"/>
<rect x="388.2" y="86.12" width="10.2" height="2.36" fill="#020a0e" rx="1.18" opacity="0.62"/>
<rect x="388.3" y="90.3" width="10" height="2.2" fill="#020a0e" rx="0.8" opacity="0.28"/>
<rect x="388.3" y="82" width="10" height="12" fill="#020a0e" opacity="0.05"/>
<rect x="388.3" y="79.5" width="10" height="1.2" fill="#020a0e" opacity="0.12"/>
</g>
<g filter="url(#bb2)">
<rect x="400.1" y="71.97" width="10.2" height="5.06" fill="#020a0e" rx="2" opacity="1"/>
<rect x="400.1" y="86.12" width="10.2" height="2.36" fill="#020a0e" rx="1.18" opacity="0.62"/>
<rect x="400.2" y="90.3" width="10" height="2.2" fill="#020a0e" rx="0.8" opacity="0.25"/>
<rect x="400.2" y="82" width="10" height="12" fill="#020a0e" opacity="0.05"/>
<rect x="400.2" y="79.5" width="10" height="1.2" fill="#020a0e" opacity="0.13"/>
</g>
<g filter="url(#bb2)">
<rect x="412.8" y="73.08" width="10.2" height="2.85" fill="#020a0e" rx="1.43" opacity="0.5"/>
<rect x="412.8" y="86.18" width="10.2" height="2.24" fill="#020a0e" rx="1.12" opacity="0.58"/>
<rect x="412.9" y="90.3" width="10" height="2.2" fill="#020a0e" rx="0.8" opacity="0.25"/>
<rect x="412.9" y="82" width="10" height="12" fill="#020a0e" opacity="0.05"/>
<rect x="412.9" y="79.5" width="10" height="1.2" fill="#020a0e" opacity="0.08"/>
</g>
<g filter="url(#bb2)">
<rect x="424.9" y="72.73" width="10.2" height="3.53" fill="#020a0e" rx="1.77" opacity="0.66"/>
<rect x="424.9" y="86.06" width="10.2" height="2.48" fill="#020a0e" rx="1.24" opacity="0.66"/>
<rect x="425" y="90.3" width="10" height="2.2" fill="#020a0e" rx="0.8" opacity="0.28"/>
<rect x="425" y="82" width="10" height="12" fill="#020a0e" opacity="0.05"/>
<rect x="425" y="79.5" width="10" height="1.2" fill="#020a0e" opacity="0.1"/>
</g>
<g filter="url(#bb2)">
<rect x="437.8" y="73.36" width="10.2" height="2.27" fill="#020a0e" rx="1.14" opacity="0.36"/>
<rect x="437.9" y="90.3" width="10" height="2.2" fill="#020a0e" rx="0.8" opacity="0.06"/>
<rect x="437.9" y="82" width="10" height="12" fill="#020a0e" opacity="0.05"/>
<rect x="437.9" y="79.5" width="10" height="1.2" fill="#020a0e" opacity="0.07"/>
</g>
<g filter="url(#bb2)">
<rect x="450.2" y="73.19" width="10.2" height="2.61" fill="#020a0e" rx="1.31" opacity="0.44"/>
<rect x="450.2" y="86.48" width="10.2" height="1.64" fill="#020a0e" rx="0.82" opacity="0.38"/>
<rect x="450.3" y="90.3" width="10" height="2.2" fill="#020a0e" rx="0.8" opacity="0.08"/>
<rect x="450.3" y="82" width="10" height="12" fill="#020a0e" opacity="0.05"/>
<rect x="450.3" y="79.5" width="10" height="1.2" fill="#020a0e" opacity="0.07"/>
</g>
<g filter="url(#bb2)">
<rect x="463.7" y="72.99" width="10.2" height="3.02" fill="#020a0e" rx="1.51" opacity="0.54"/>
<rect x="463.7" y="85.88" width="10.2" height="2.84" fill="#020a0e" rx="1.42" opacity="0.78"/>
<rect x="463.8" y="90.3" width="10" height="2.2" fill="#020a0e" rx="0.8" opacity="0.35"/>
<rect x="463.8" y="82" width="10" height="12" fill="#020a0e" opacity="0.05"/>
<rect x="463.8" y="79.5" width="10" height="1.2" fill="#020a0e" opacity="0.08"/>
</g>
<g filter="url(#bb2)">
<rect x="476.2" y="71.97" width="10.2" height="5.06" fill="#020a0e" rx="2" opacity="1"/>
<rect x="476.2" y="86.36" width="10.2" height="1.88" fill="#020a0e" rx="0.94" opacity="0.46"/>
<rect x="476.3" y="90.3" width="10" height="2.2" fill="#020a0e" rx="0.8" opacity="0.25"/>
<rect x="476.3" y="82" width="10" height="12" fill="#020a0e" opacity="0.05"/>
<rect x="476.3" y="79.5" width="10" height="1.2" fill="#020a0e" opacity="0.13"/>
</g>
<g filter="url(#bb2)">
<rect x="488.7" y="72.99" width="10.2" height="3.02" fill="#020a0e" rx="1.51" opacity="0.54"/>
<rect x="488.7" y="86.06" width="10.2" height="2.48" fill="#020a0e" rx="1.24" opacity="0.66"/>
<rect x="488.8" y="90.3" width="10" height="2.2" fill="#020a0e" rx="0.8" opacity="0.25"/>
<rect x="488.8" y="82" width="10" height="12" fill="#020a0e" opacity="0.05"/>
<rect x="488.8" y="79.5" width="10" height="1.2" fill="#020a0e" opacity="0.08"/>
</g>
<g filter="url(#bb3)">
<rect x="274.3" y="100.17" width="10.8" height="4.06" fill="#020a0e" rx="2.03" opacity="1"/>
</g>
<g filter="url(#bb3)">
<rect x="286.5" y="101.81" width="10.8" height="3.78" fill="#020a0e" rx="1.89" opacity="0.99"/>
</g>
<g filter="url(#bb3)">
<rect x="299.2" y="102.44" width="10.8" height="3.92" fill="#020a0e" rx="1.96" opacity="1"/>
</g>
<g filter="url(#bb3)">
<rect x="311.8" y="102.97" width="10.8" height="4.06" fill="#020a0e" rx="2.03" opacity="1"/>
</g>
<g filter="url(#bb3)">
<rect x="324.8" y="104.38" width="10.8" height="2.24" fill="#020a0e" rx="1.12" opacity="0.61"/>
</g>
<g filter="url(#bb3)">
<rect x="337.2" y="103.96" width="10.8" height="3.08" fill="#020a0e" rx="1.54" opacity="0.82"/>
</g>
<g filter="url(#bb3)">
<rect x="349.7" y="103.61" width="10.8" height="3.78" fill="#020a0e" rx="1.89" opacity="0.99"/>
</g>
<g filter="url(#bb3)">
<rect x="375.8" y="103.91" width="10.8" height="3.78" fill="#020a0e" rx="1.89" opacity="0.99"/>
</g>
<g filter="url(#bb3)">
<rect x="387.9" y="103.97" width="10.8" height="4.06" fill="#020a0e" rx="2.03" opacity="1"/>
</g>
<g filter="url(#bb3)">
<rect x="399.8" y="104.14" width="10.8" height="3.92" fill="#020a0e" rx="1.96" opacity="1"/>
</g>
<g filter="url(#bb3)">
<rect x="412.5" y="104.31" width="10.8" height="3.78" fill="#020a0e" rx="1.89" opacity="0.99"/>
</g>
<g filter="url(#bb3)">
<rect x="424.6" y="104.27" width="10.8" height="4.06" fill="#020a0e" rx="2.03" opacity="1"/>
</g>
<g filter="url(#bb3)">
<rect x="437.5" y="104.82" width="10.8" height="3.36" fill="#020a0e" rx="1.68" opacity="0.89"/>
</g>
<g filter="url(#bb3)">
<rect x="449.9" y="104.79" width="10.8" height="3.22" fill="#020a0e" rx="1.61" opacity="0.85"/>
</g>
<g filter="url(#bb3)">
<rect x="463.4" y="104.53" width="10.8" height="2.94" fill="#020a0e" rx="1.47" opacity="0.79"/>
</g>
<g filter="url(#bb3)">
<rect x="475.9" y="103.28" width="10.8" height="3.64" fill="#020a0e" rx="1.82" opacity="0.96"/>
</g>
<g filter="url(#bb3)">
<rect x="488.4" y="102.31" width="10.8" height="3.78" fill="#020a0e" rx="1.89" opacity="0.99"/>
</g>
<g filter="url(#bs)" opacity="0.58">
<rect x="275" y="118.2" width="9.4" height="57.4" rx="4" ry="2.5" fill="url(#ubg)"/>
</g>
<rect x="275.3" y="137.62" width="8.8" height="1.22" fill="#041014" opacity="0.2"/>
<rect x="275.3" y="140.04" width="8.8" height="1.22" fill="#041014" opacity="0.2"/>
<rect x="275.3" y="141.33" width="8.8" height="1.03" fill="#041014" opacity="0.19"/>
<rect x="275.3" y="144.35" width="8.8" height="1.33" fill="#041014" opacity="0.08"/>
<rect x="275.3" y="146.77" width="8.8" height="0.87" fill="#041014" opacity="0.12"/>
<rect x="275.3" y="149.57" width="8.8" height="0.71" fill="#041014" opacity="0.08"/>
<rect x="275.3" y="152.08" width="8.8" height="1.34" fill="#041014" opacity="0.11"/>
<rect x="275.3" y="155.16" width="8.8" height="1.26" fill="#041014" opacity="0.05"/>
<rect x="275.3" y="159.12" width="8.8" height="0.79" fill="#041014" opacity="0.04"/>
<rect x="275.3" y="163.37" width="8.8" height="0.85" fill="#041014" opacity="0.04"/>
<rect x="275.3" y="167.48" width="8.8" height="1.31" fill="#041014" opacity="0.04"/>
<rect x="275.3" y="171.46" width="8.8" height="1.08" fill="#041014" opacity="0.04"/>
<g filter="url(#bs)" opacity="0.87">
<rect x="287.2" y="118.2" width="9.4" height="57.4" rx="4" ry="2.5" fill="url(#ubg)"/>
</g>
<rect x="287.5" y="137.18" width="8.8" height="1.16" fill="#041014" opacity="0.2"/>
<rect x="287.5" y="139.3" width="8.8" height="1.04" fill="#041014" opacity="0.22"/>
<rect x="287.5" y="141.78" width="8.8" height="1.02" fill="#041014" opacity="0.16"/>
<rect x="287.5" y="143.95" width="8.8" height="1.18" fill="#041014" opacity="0.16"/>
<rect x="287.5" y="146.97" width="8.8" height="1.25" fill="#041014" opacity="0.22"/>
<rect x="287.5" y="149.94" width="8.8" height="0.86" fill="#041014" opacity="0.12"/>
<rect x="287.5" y="152.53" width="8.8" height="1.1" fill="#041014" opacity="0.1"/>
<rect x="287.5" y="155.68" width="8.8" height="1.31" fill="#041014" opacity="0.15"/>
<rect x="287.5" y="158.72" width="8.8" height="0.91" fill="#041014" opacity="0.06"/>
<rect x="287.5" y="163.48" width="8.8" height="0.85" fill="#041014" opacity="0.1"/>
<rect x="287.5" y="167.04" width="8.8" height="1.12" fill="#041014" opacity="0.07"/>
<rect x="287.5" y="171.33" width="8.8" height="1.12" fill="#041014" opacity="0.04"/>
<g filter="url(#bs)" opacity="0.82">
<rect x="299.9" y="118.2" width="9.4" height="57.4" rx="4" ry="2.5" fill="url(#ubg)"/>
</g>
<rect x="300.2" y="137.01" width="8.8" height="0.78" fill="#041014" opacity="0.2"/>
<rect x="300.2" y="139.78" width="8.8" height="0.8" fill="#041014" opacity="0.14"/>
<rect x="300.2" y="141.53" width="8.8" height="1.23" fill="#041014" opacity="0.13"/>
<rect x="300.2" y="144.44" width="8.8" height="1.16" fill="#041014" opacity="0.12"/>
<rect x="300.2" y="146.84" width="8.8" height="1.01" fill="#041014" opacity="0.15"/>
<rect x="300.2" y="150" width="8.8" height="0.77" fill="#041014" opacity="0.08"/>
<rect x="300.2" y="152.74" width="8.8" height="0.98" fill="#041014" opacity="0.1"/>
<rect x="300.2" y="155.33" width="8.8" height="0.96" fill="#041014" opacity="0.16"/>
<rect x="300.2" y="158.71" width="8.8" height="0.85" fill="#041014" opacity="0.1"/>
<rect x="300.2" y="163.05" width="8.8" height="1.37" fill="#041014" opacity="0.1"/>
<rect x="300.2" y="166.86" width="8.8" height="0.84" fill="#041014" opacity="0.08"/>
<rect x="300.2" y="171.49" width="8.8" height="0.72" fill="#041014" opacity="0.06"/>
<g filter="url(#bs)" opacity="0.87">
<rect x="312.5" y="118.2" width="9.4" height="57.4" rx="4" ry="2.5" fill="url(#ubg)"/>
</g>
<rect x="312.8" y="137.41" width="8.8" height="1.08" fill="#041014" opacity="0.31"/>
<rect x="312.8" y="139.28" width="8.8" height="0.86" fill="#041014" opacity="0.13"/>
<rect x="312.8" y="141.42" width="8.8" height="0.71" fill="#041014" opacity="0.14"/>
<rect x="312.8" y="144.21" width="8.8" height="1.39" fill="#041014" opacity="0.22"/>
<rect x="312.8" y="146.68" width="8.8" height="0.98" fill="#041014" opacity="0.2"/>
<rect x="312.8" y="149.33" width="8.8" height="0.75" fill="#041014" opacity="0.2"/>
<rect x="312.8" y="152.42" width="8.8" height="0.78" fill="#041014" opacity="0.09"/>
<rect x="312.8" y="155.09" width="8.8" height="1.37" fill="#041014" opacity="0.08"/>
<rect x="312.8" y="159.13" width="8.8" height="1.38" fill="#041014" opacity="0.06"/>
<rect x="312.8" y="162.89" width="8.8" height="1.03" fill="#041014" opacity="0.12"/>
<rect x="312.8" y="166.69" width="8.8" height="0.88" fill="#041014" opacity="0.05"/>
<rect x="312.8" y="170.55" width="8.8" height="1.17" fill="#041014" opacity="0.07"/>
<g filter="url(#bs)" opacity="0.78">
<rect x="325.5" y="118.2" width="9.4" height="57.4" rx="4" ry="2.5" fill="url(#ubg)"/>
</g>
<rect x="325.8" y="137.04" width="8.8" height="1.11" fill="#041014" opacity="0.12"/>
<rect x="325.8" y="139.61" width="8.8" height="1.38" fill="#041014" opacity="0.16"/>
<rect x="325.8" y="142.27" width="8.8" height="1.15" fill="#041014" opacity="0.24"/>
<rect x="325.8" y="143.72" width="8.8" height="1.21" fill="#041014" opacity="0.17"/>
<rect x="325.8" y="146.9" width="8.8" height="0.96" fill="#041014" opacity="0.21"/>
<rect x="325.8" y="149.66" width="8.8" height="1.21" fill="#041014" opacity="0.16"/>
<rect x="325.8" y="152.35" width="8.8" height="1.27" fill="#041014" opacity="0.13"/>
<rect x="325.8" y="155.57" width="8.8" height="0.8" fill="#041014" opacity="0.11"/>
<rect x="325.8" y="158.65" width="8.8" height="1.11" fill="#041014" opacity="0.09"/>
<rect x="325.8" y="163.26" width="8.8" height="1.11" fill="#041014" opacity="0.07"/>
<rect x="325.8" y="167.02" width="8.8" height="0.85" fill="#041014" opacity="0.09"/>
<rect x="325.8" y="171.36" width="8.8" height="0.98" fill="#041014" opacity="0.03"/>
<g filter="url(#bs)" opacity="0.92">
<rect x="337.9" y="118.2" width="9.4" height="57.4" rx="4" ry="2.5" fill="url(#ubg)"/>
</g>
<rect x="338.2" y="137.91" width="8.8" height="0.91" fill="#041014" opacity="0.24"/>
<rect x="338.2" y="139.24" width="8.8" height="1.4" fill="#041014" opacity="0.16"/>
<rect x="338.2" y="141.97" width="8.8" height="1.12" fill="#041014" opacity="0.26"/>
<rect x="338.2" y="144.11" width="8.8" height="0.97" fill="#041014" opacity="0.18"/>
<rect x="338.2" y="146.37" width="8.8" height="0.92" fill="#041014" opacity="0.14"/>
<rect x="338.2" y="149.78" width="8.8" height="1.01" fill="#041014" opacity="0.11"/>
<rect x="338.2" y="151.83" width="8.8" height="0.94" fill="#041014" opacity="0.2"/>
<rect x="338.2" y="155.03" width="8.8" height="1.02" fill="#041014" opacity="0.16"/>
<rect x="338.2" y="158.62" width="8.8" height="1.26" fill="#041014" opacity="0.14"/>
<rect x="338.2" y="163.33" width="8.8" height="0.79" fill="#041014" opacity="0.12"/>
<rect x="338.2" y="166.73" width="8.8" height="1.26" fill="#041014" opacity="0.09"/>
<rect x="338.2" y="171.02" width="8.8" height="1.23" fill="#041014" opacity="0.07"/>
<g filter="url(#bs)" opacity="0.68">
<rect x="350.4" y="118.2" width="9.4" height="57.4" rx="4" ry="2.5" fill="url(#ubg)"/>
</g>
<rect x="350.7" y="137.5" width="8.8" height="1.3" fill="#041014" opacity="0.12"/>
<rect x="350.7" y="139.48" width="8.8" height="0.73" fill="#041014" opacity="0.19"/>
<rect x="350.7" y="141.49" width="8.8" height="0.92" fill="#041014" opacity="0.2"/>
<rect x="350.7" y="143.75" width="8.8" height="0.81" fill="#041014" opacity="0.12"/>
<rect x="350.7" y="147.11" width="8.8" height="1.03" fill="#041014" opacity="0.15"/>
<rect x="350.7" y="149.9" width="8.8" height="0.86" fill="#041014" opacity="0.11"/>
<rect x="350.7" y="151.97" width="8.8" height="1.25" fill="#041014" opacity="0.06"/>
<rect x="350.7" y="155.76" width="8.8" height="0.94" fill="#041014" opacity="0.1"/>
<rect x="350.7" y="158.69" width="8.8" height="1.35" fill="#041014" opacity="0.07"/>
<rect x="350.7" y="162.95" width="8.8" height="1.36" fill="#041014" opacity="0.07"/>
<rect x="350.7" y="166.82" width="8.8" height="0.86" fill="#041014" opacity="0.07"/>
<rect x="350.7" y="171.22" width="8.8" height="1.14" fill="#041014" opacity="0.04"/>
<g filter="url(#bs)" opacity="0.78">
<rect x="376.5" y="118.2" width="9.4" height="57.4" rx="4" ry="2.5" fill="url(#ubg)"/>
</g>
<rect x="376.8" y="137.28" width="8.8" height="1.02" fill="#041014" opacity="0.22"/>
<rect x="376.8" y="139.2" width="8.8" height="1.05" fill="#041014" opacity="0.27"/>
<rect x="376.8" y="141.86" width="8.8" height="1.06" fill="#041014" opacity="0.23"/>
<rect x="376.8" y="144.15" width="8.8" height="0.89" fill="#041014" opacity="0.22"/>
<rect x="376.8" y="146.47" width="8.8" height="1.32" fill="#041014" opacity="0.2"/>
<rect x="376.8" y="149.55" width="8.8" height="1.06" fill="#041014" opacity="0.08"/>
<rect x="376.8" y="151.97" width="8.8" height="1.24" fill="#041014" opacity="0.15"/>
<rect x="376.8" y="155.62" width="8.8" height="0.8" fill="#041014" opacity="0.13"/>
<rect x="376.8" y="159.49" width="8.8" height="1.31" fill="#041014" opacity="0.1"/>
<rect x="376.8" y="162.95" width="8.8" height="1" fill="#041014" opacity="0.05"/>
<rect x="376.8" y="166.54" width="8.8" height="1.38" fill="#041014" opacity="0.06"/>
<rect x="376.8" y="170.89" width="8.8" height="1.04" fill="#041014" opacity="0.06"/>
<g filter="url(#bs)" opacity="0.97">
<rect x="388.6" y="118.2" width="9.4" height="57.4" rx="4" ry="2.5" fill="url(#ubg)"/>
</g>
<rect x="388.9" y="137.51" width="8.8" height="1.12" fill="#041014" opacity="0.22"/>
<rect x="388.9" y="140.03" width="8.8" height="1.21" fill="#041014" opacity="0.3"/>
<rect x="388.9" y="141.76" width="8.8" height="1.28" fill="#041014" opacity="0.27"/>
<rect x="388.9" y="144.29" width="8.8" height="0.77" fill="#041014" opacity="0.2"/>
<rect x="388.9" y="147.27" width="8.8" height="1.09" fill="#041014" opacity="0.17"/>
<rect x="388.9" y="149.63" width="8.8" height="0.8" fill="#041014" opacity="0.15"/>
<rect x="388.9" y="152.58" width="8.8" height="1.03" fill="#041014" opacity="0.14"/>
<rect x="388.9" y="155.97" width="8.8" height="1.07" fill="#041014" opacity="0.13"/>
<rect x="388.9" y="158.58" width="8.8" height="1.12" fill="#041014" opacity="0.11"/>
<rect x="388.9" y="162.78" width="8.8" height="1.35" fill="#041014" opacity="0.1"/>
<rect x="388.9" y="167.04" width="8.8" height="1.3" fill="#041014" opacity="0.07"/>
<rect x="388.9" y="171.48" width="8.8" height="1.18" fill="#041014" opacity="0.05"/>
<g filter="url(#bs)" opacity="0.82">
<rect x="400.5" y="118.2" width="9.4" height="57.4" rx="4" ry="2.5" fill="url(#ubg)"/>
</g>
<rect x="400.8" y="137.67" width="8.8" height="1.14" fill="#041014" opacity="0.24"/>
<rect x="400.8" y="139.59" width="8.8" height="1.27" fill="#041014" opacity="0.14"/>
<rect x="400.8" y="141.58" width="8.8" height="1.12" fill="#041014" opacity="0.13"/>
<rect x="400.8" y="144.34" width="8.8" height="0.95" fill="#041014" opacity="0.23"/>
<rect x="400.8" y="146.57" width="8.8" height="1.29" fill="#041014" opacity="0.22"/>
<rect x="400.8" y="149.28" width="8.8" height="0.88" fill="#041014" opacity="0.09"/>
<rect x="400.8" y="152.08" width="8.8" height="0.88" fill="#041014" opacity="0.13"/>
<rect x="400.8" y="155.98" width="8.8" height="0.91" fill="#041014" opacity="0.13"/>
<rect x="400.8" y="158.86" width="8.8" height="0.94" fill="#041014" opacity="0.07"/>
<rect x="400.8" y="163.34" width="8.8" height="1.38" fill="#041014" opacity="0.06"/>
<rect x="400.8" y="167.22" width="8.8" height="1.2" fill="#041014" opacity="0.08"/>
<rect x="400.8" y="170.89" width="8.8" height="0.78" fill="#041014" opacity="0.06"/>
<g filter="url(#bs)" opacity="0.78">
<rect x="413.2" y="118.2" width="9.4" height="57.4" rx="4" ry="2.5" fill="url(#ubg)"/>
</g>
<rect x="413.5" y="137.4" width="8.8" height="1.15" fill="#041014" opacity="0.3"/>
<rect x="413.5" y="139.14" width="8.8" height="1.18" fill="#041014" opacity="0.28"/>
<rect x="413.5" y="141.58" width="8.8" height="0.77" fill="#041014" opacity="0.18"/>
<rect x="413.5" y="143.78" width="8.8" height="0.88" fill="#041014" opacity="0.21"/>
<rect x="413.5" y="146.96" width="8.8" height="1.19" fill="#041014" opacity="0.14"/>
<rect x="413.5" y="149.41" width="8.8" height="0.71" fill="#041014" opacity="0.12"/>
<rect x="413.5" y="152.49" width="8.8" height="0.72" fill="#041014" opacity="0.15"/>
<rect x="413.5" y="155.95" width="8.8" height="1.11" fill="#041014" opacity="0.11"/>
<rect x="413.5" y="159.01" width="8.8" height="1.39" fill="#041014" opacity="0.13"/>
<rect x="413.5" y="162.93" width="8.8" height="1" fill="#041014" opacity="0.1"/>
<rect x="413.5" y="166.96" width="8.8" height="0.79" fill="#041014" opacity="0.06"/>
<rect x="413.5" y="171.38" width="8.8" height="1.08" fill="#041014" opacity="0.04"/>
<g filter="url(#bs)" opacity="0.92">
<rect x="425.3" y="118.2" width="9.4" height="57.4" rx="4" ry="2.5" fill="url(#ubg)"/>
</g>
<rect x="425.6" y="137.52" width="8.8" height="1.09" fill="#041014" opacity="0.19"/>
<rect x="425.6" y="140" width="8.8" height="1.15" fill="#041014" opacity="0.23"/>
<rect x="425.6" y="142.05" width="8.8" height="1.19" fill="#041014" opacity="0.29"/>
<rect x="425.6" y="144.19" width="8.8" height="0.73" fill="#041014" opacity="0.23"/>
<rect x="425.6" y="146.78" width="8.8" height="1.14" fill="#041014" opacity="0.11"/>
<rect x="425.6" y="149.47" width="8.8" height="1.25" fill="#041014" opacity="0.22"/>
<rect x="425.6" y="152.63" width="8.8" height="1.25" fill="#041014" opacity="0.15"/>
<rect x="425.6" y="155.99" width="8.8" height="1.34" fill="#041014" opacity="0.17"/>
<rect x="425.6" y="158.9" width="8.8" height="0.85" fill="#041014" opacity="0.09"/>
<rect x="425.6" y="163.2" width="8.8" height="1.07" fill="#041014" opacity="0.08"/>
<rect x="425.6" y="166.94" width="8.8" height="1.27" fill="#041014" opacity="0.05"/>
<rect x="425.6" y="170.88" width="8.8" height="1.24" fill="#041014" opacity="0.06"/>
<g filter="url(#bs)" opacity="0.39">
<rect x="438.2" y="118.2" width="9.4" height="57.4" rx="4" ry="2.5" fill="url(#ubg)"/>
</g>
<rect x="438.5" y="137.8" width="8.8" height="1.01" fill="#041014" opacity="0.06"/>
<rect x="438.5" y="139.46" width="8.8" height="0.86" fill="#041014" opacity="0.08"/>
<rect x="438.5" y="142.2" width="8.8" height="0.94" fill="#041014" opacity="0.1"/>
<rect x="438.5" y="144.07" width="8.8" height="1.1" fill="#041014" opacity="0.1"/>
<rect x="438.5" y="147" width="8.8" height="1.12" fill="#041014" opacity="0.09"/>
<rect x="438.5" y="149.67" width="8.8" height="0.71" fill="#041014" opacity="0.08"/>
<rect x="438.5" y="151.92" width="8.8" height="1.08" fill="#041014" opacity="0.04"/>
<rect x="438.5" y="155.44" width="8.8" height="0.89" fill="#041014" opacity="0.04"/>
<rect x="438.5" y="159.18" width="8.8" height="0.74" fill="#041014" opacity="0.05"/>
<rect x="438.5" y="163.32" width="8.8" height="0.73" fill="#041014" opacity="0.03"/>
<rect x="438.5" y="166.68" width="8.8" height="1.01" fill="#041014" opacity="0.02"/>
<rect x="438.5" y="171" width="8.8" height="0.73" fill="#041014" opacity="0.03"/>
<g filter="url(#bs)" opacity="0.34">
<rect x="450.6" y="118.2" width="9.4" height="57.4" rx="4" ry="2.5" fill="url(#ubg)"/>
</g>
<rect x="450.9" y="137.35" width="8.8" height="1.03" fill="#041014" opacity="0.1"/>
<rect x="450.9" y="139.68" width="8.8" height="0.72" fill="#041014" opacity="0.09"/>
<rect x="450.9" y="141.55" width="8.8" height="1.21" fill="#041014" opacity="0.11"/>
<rect x="450.9" y="144.46" width="8.8" height="0.82" fill="#041014" opacity="0.07"/>
<rect x="450.9" y="146.52" width="8.8" height="0.93" fill="#041014" opacity="0.05"/>
<rect x="450.9" y="149.86" width="8.8" height="1.21" fill="#041014" opacity="0.07"/>
<rect x="450.9" y="152.25" width="8.8" height="1.35" fill="#041014" opacity="0.07"/>
<rect x="450.9" y="155.67" width="8.8" height="1.06" fill="#041014" opacity="0.04"/>
<rect x="450.9" y="159.09" width="8.8" height="0.81" fill="#041014" opacity="0.05"/>
<rect x="450.9" y="163.14" width="8.8" height="1.2" fill="#041014" opacity="0.05"/>
<rect x="450.9" y="166.98" width="8.8" height="1.1" fill="#041014" opacity="0.04"/>
<rect x="450.9" y="170.87" width="8.8" height="1.13" fill="#041014" opacity="0.02"/>
<g filter="url(#bs)" opacity="0.58">
<rect x="464.1" y="118.2" width="9.4" height="57.4" rx="4" ry="2.5" fill="url(#ubg)"/>
</g>
<rect x="464.4" y="137.05" width="8.8" height="0.84" fill="#041014" opacity="0.19"/>
<rect x="464.4" y="139.24" width="8.8" height="1.3" fill="#041014" opacity="0.12"/>
<rect x="464.4" y="141.31" width="8.8" height="1.01" fill="#041014" opacity="0.1"/>
<rect x="464.4" y="143.72" width="8.8" height="0.89" fill="#041014" opacity="0.12"/>
<rect x="464.4" y="146.49" width="8.8" height="1.3" fill="#041014" opacity="0.09"/>
<rect x="464.4" y="149.7" width="8.8" height="0.95" fill="#041014" opacity="0.07"/>
<rect x="464.4" y="152.23" width="8.8" height="1.18" fill="#041014" opacity="0.09"/>
<rect x="464.4" y="155.64" width="8.8" height="0.79" fill="#041014" opacity="0.05"/>
<rect x="464.4" y="158.63" width="8.8" height="1.04" fill="#041014" opacity="0.09"/>
<rect x="464.4" y="162.88" width="8.8" height="1.27" fill="#041014" opacity="0.04"/>
<rect x="464.4" y="166.73" width="8.8" height="1.17" fill="#041014" opacity="0.06"/>
<rect x="464.4" y="171.29" width="8.8" height="0.8" fill="#041014" opacity="0.04"/>
<g filter="url(#bs)" opacity="0.87">
<rect x="476.6" y="118.2" width="9.4" height="57.4" rx="4" ry="2.5" fill="url(#ubg)"/>
</g>
<rect x="476.9" y="137.15" width="8.8" height="0.85" fill="#041014" opacity="0.14"/>
<rect x="476.9" y="139.52" width="8.8" height="1.06" fill="#041014" opacity="0.18"/>
<rect x="476.9" y="141.65" width="8.8" height="1.06" fill="#041014" opacity="0.15"/>
<rect x="476.9" y="144.04" width="8.8" height="1.09" fill="#041014" opacity="0.18"/>
<rect x="476.9" y="147.1" width="8.8" height="1.26" fill="#041014" opacity="0.2"/>
<rect x="476.9" y="149.58" width="8.8" height="0.91" fill="#041014" opacity="0.19"/>
<rect x="476.9" y="152.53" width="8.8" height="0.92" fill="#041014" opacity="0.1"/>
<rect x="476.9" y="155.45" width="8.8" height="0.94" fill="#041014" opacity="0.1"/>
<rect x="476.9" y="158.86" width="8.8" height="0.96" fill="#041014" opacity="0.06"/>
<rect x="476.9" y="163.02" width="8.8" height="1.35" fill="#041014" opacity="0.06"/>
<rect x="476.9" y="167.2" width="8.8" height="1.17" fill="#041014" opacity="0.1"/>
<rect x="476.9" y="170.76" width="8.8" height="1.13" fill="#041014" opacity="0.03"/>
<g filter="url(#bs)" opacity="0.73">
<rect x="489.1" y="118.2" width="9.4" height="57.4" rx="4" ry="2.5" fill="url(#ubg)"/>
</g>
<rect x="489.4" y="137.48" width="8.8" height="1.3" fill="#041014" opacity="0.21"/>
<rect x="489.4" y="139.69" width="8.8" height="0.74" fill="#041014" opacity="0.16"/>
<rect x="489.4" y="142.24" width="8.8" height="0.97" fill="#041014" opacity="0.24"/>
<rect x="489.4" y="144.52" width="8.8" height="1.36" fill="#041014" opacity="0.16"/>
<rect x="489.4" y="146.65" width="8.8" height="0.76" fill="#041014" opacity="0.12"/>
<rect x="489.4" y="149.53" width="8.8" height="0.82" fill="#041014" opacity="0.13"/>
<rect x="489.4" y="152.13" width="8.8" height="1.09" fill="#041014" opacity="0.11"/>
<rect x="489.4" y="155.14" width="8.8" height="0.98" fill="#041014" opacity="0.12"/>
<rect x="489.4" y="158.53" width="8.8" height="0.98" fill="#041014" opacity="0.09"/>
<rect x="489.4" y="162.51" width="8.8" height="0.97" fill="#041014" opacity="0.06"/>
<rect x="489.4" y="167.26" width="8.8" height="1.08" fill="#041014" opacity="0.08"/>
<rect x="489.4" y="171.3" width="8.8" height="1.3" fill="#041014" opacity="0.05"/>
<g filter="url(#bb3)">
<rect x="274.2" y="181.2" width="11" height="4.2" fill="#1c120b" rx="2" opacity="0.95"/>
</g>
<g filter="url(#bb3)">
<rect x="286.4" y="181.5" width="11" height="4.2" fill="#1c120b" rx="2" opacity="0.9"/>
</g>
<g filter="url(#bb3)">
<rect x="299.1" y="181.7" width="11" height="4.2" fill="#1c120b" rx="2" opacity="0.95"/>
</g>
<g filter="url(#bb3)">
<rect x="311.7" y="181.9" width="11" height="4.2" fill="#1c120b" rx="2" opacity="0.95"/>
</g>
<g filter="url(#bb3)">
<rect x="324.7" y="182.1" width="11" height="4.2" fill="#1c120b" rx="2" opacity="0.85"/>
</g>
<g filter="url(#bb3)">
<rect x="337.1" y="181.9" width="11" height="4.2" fill="#1c120b" rx="2" opacity="0.95"/>
</g>
<g filter="url(#bb3)">
<rect x="349.6" y="182.1" width="11" height="4.2" fill="#1c120b" rx="2" opacity="0.95"/>
</g>
<g filter="url(#bb3)">
<rect x="375.7" y="182.4" width="11" height="4.2" fill="#1c120b" rx="2" opacity="0.9"/>
</g>
<g filter="url(#bb3)">
<rect x="387.8" y="182.4" width="11" height="4.2" fill="#1c120b" rx="2" opacity="0.95"/>
</g>
<g filter="url(#bb3)">
<rect x="399.7" y="182.5" width="11" height="4.2" fill="#1c120b" rx="2" opacity="0.95"/>
</g>
<g filter="url(#bb3)">
<rect x="412.4" y="182.6" width="11" height="4.2" fill="#1c120b" rx="2" opacity="0.95"/>
</g>
<g filter="url(#bb3)">
<rect x="424.5" y="182.7" width="11" height="4.2" fill="#1c120b" rx="2" opacity="0.95"/>
</g>
<g filter="url(#bb3)">
<rect x="437.4" y="182.9" width="11" height="4.2" fill="#1c120b" rx="2" opacity="0.95"/>
</g>
<g filter="url(#bb3)">
<rect x="449.8" y="182.8" width="11" height="4.2" fill="#1c120b" rx="2" opacity="0.95"/>
</g>
<g filter="url(#bb3)">
<rect x="463.3" y="182.5" width="11" height="4.2" fill="#1c120b" rx="2" opacity="0.9"/>
</g>
<g filter="url(#bb3)">
<rect x="475.8" y="182.1" width="11" height="4.2" fill="#1c120b" rx="2" opacity="0.9"/>
</g>
<g filter="url(#bb3)">
<rect x="488.3" y="181.5" width="11" height="4.2" fill="#1c120b" rx="2" opacity="0.95"/>
</g>
<text x="282.45" y="65.4" font-size="7.5" fill="#2a2a2a" textLength="22.2" lengthAdjust="spacingAndGlyphs" transform="rotate(-90 282.45 65.4)">MM.1S</text>
<text x="294.65" y="65.4" font-size="7.5" fill="#2a2a2a" textLength="17.7" lengthAdjust="spacingAndGlyphs" transform="rotate(-90 294.65 65.4)">H929</text>
<text x="307.35" y="65.4" font-size="7.5" fill="#2a2a2a" textLength="20.2" lengthAdjust="spacingAndGlyphs" transform="rotate(-90 307.35 65.4)">AMO1</text>
<text x="319.95" y="65.4" font-size="7.5" fill="#2a2a2a" textLength="23.1" lengthAdjust="spacingAndGlyphs" transform="rotate(-90 319.95 65.4)">KMS11</text>
<text x="332.95" y="65.4" font-size="7.5" fill="#2a2a2a" textLength="17.9" lengthAdjust="spacingAndGlyphs" transform="rotate(-90 332.95 65.4)">U266</text>
<text x="345.35" y="65.4" font-size="7.5" fill="#2a2a2a" textLength="20.8" lengthAdjust="spacingAndGlyphs" transform="rotate(-90 345.35 65.4)">OPM2</text>
<text x="357.85" y="65.4" font-size="7.5" fill="#2a2a2a" textLength="23.9" lengthAdjust="spacingAndGlyphs" transform="rotate(-90 357.85 65.4)">KMS20</text>
<text x="383.95" y="65.4" font-size="7.5" fill="#2a2a2a" textLength="17.7" lengthAdjust="spacingAndGlyphs" transform="rotate(-90 383.95 65.4)">RPMI</text>
<text x="396.05" y="65.4" font-size="7.5" fill="#2a2a2a" textLength="34.6" lengthAdjust="spacingAndGlyphs" transform="rotate(-90 396.05 65.4)">KMS12-PE</text>
<text x="407.95" y="65.4" font-size="7.5" fill="#2a2a2a" textLength="24.6" lengthAdjust="spacingAndGlyphs" transform="rotate(-90 407.95 65.4)">MOLP8</text>
<text x="420.65" y="65.4" font-size="7.5" fill="#2a2a2a" textLength="23.1" lengthAdjust="spacingAndGlyphs" transform="rotate(-90 420.65 65.4)">ALMC1</text>
<text x="432.75" y="65.4" font-size="7.5" fill="#2a2a2a" textLength="24.2" lengthAdjust="spacingAndGlyphs" transform="rotate(-90 432.75 65.4)">ALMC2</text>
<text x="445.65" y="65.4" font-size="7.5" fill="#2a2a2a" textLength="30.6" lengthAdjust="spacingAndGlyphs" transform="rotate(-90 445.65 65.4)">SU-DHL4</text>
<text x="458.05" y="65.4" font-size="7.5" fill="#2a2a2a" textLength="34.6" lengthAdjust="spacingAndGlyphs" transform="rotate(-90 458.05 65.4)">SU-DHL10</text>
<text x="471.55" y="65.4" font-size="7.5" fill="#2a2a2a" textLength="21.9" lengthAdjust="spacingAndGlyphs" transform="rotate(-90 471.55 65.4)">DAUDI</text>
<text x="484.05" y="65.4" font-size="7.5" fill="#2a2a2a" textLength="19.6" lengthAdjust="spacingAndGlyphs" transform="rotate(-90 484.05 65.4)">MEC1</text>
<text x="496.55" y="64.9" font-size="7.5" fill="#2a2a2a" textLength="25" lengthAdjust="spacingAndGlyphs" transform="rotate(-90 496.55 64.9)">JURKAT</text>
<text x="311.3" y="22.9" font-size="7.5" fill="#2a2a2a" textLength="12.9" lengthAdjust="spacingAndGlyphs">MM</text>
<line x1="277.8" y1="25.1" x2="357.5" y2="25.1" stroke="#333" stroke-width="1.3"/>
<text x="384.4" y="22.9" font-size="7.5" fill="#2a2a2a" textLength="12.7" lengthAdjust="spacingAndGlyphs">MM</text>
<line x1="374.4" y1="25.1" x2="407.1" y2="25.1" stroke="#333" stroke-width="1.3"/>
<text x="415" y="22.9" font-size="7.5" fill="#2a2a2a" textLength="8.6" lengthAdjust="spacingAndGlyphs">AL</text>
<line x1="409.4" y1="25.1" x2="430.2" y2="25.1" stroke="#333" stroke-width="1.3"/>
<text x="432.2" y="22.9" font-size="7.5" fill="#2a2a2a" textLength="53.5" lengthAdjust="spacingAndGlyphs">B-CELL LYMPH</text>
<line x1="432.5" y1="25.1" x2="485.9" y2="25.1" stroke="#333" stroke-width="1.3"/>
<text x="488.8" y="22.9" font-size="7.5" fill="#2a2a2a" textLength="18.2" lengthAdjust="spacingAndGlyphs">T-ALL</text>
<line x1="488.3" y1="25.1" x2="505.8" y2="25.1" stroke="#333" stroke-width="1.3"/>
<rect x="436.7" y="28.7" width="23.3" height="37.6" rx="1.5" fill="none" stroke="#e0413f" stroke-width="0.9"/>
<text x="251.7" y="85.4" font-size="7" fill="#2a2a2a" textLength="17.5" lengthAdjust="spacingAndGlyphs">NRF1</text>
<text x="254" y="109.6" font-size="7" fill="#2a2a2a" textLength="15.7" lengthAdjust="spacingAndGlyphs">DDI2</text>
<text x="239.9" y="150" font-size="7" fill="#2a2a2a" textLength="30.1" lengthAdjust="spacingAndGlyphs">POLY UB</text>
<text x="244.6" y="186.2" font-size="7" fill="#2a2a2a" textLength="25.4" lengthAdjust="spacingAndGlyphs">GAPDH</text>
<line x1="501" y1="75.2" x2="502.6" y2="75.2" stroke="#555" stroke-width="0.6"/>
<text x="502.9" y="77.1" font-size="7" fill="#2a2a2a" textLength="7.6" lengthAdjust="spacingAndGlyphs" style="stroke:#2a2a2a;stroke-width:0.22px">FL</text>
<line x1="501" y1="86.2" x2="502.6" y2="86.2" stroke="#555" stroke-width="0.6"/>
<text x="502.9" y="87.8" font-size="7" fill="#2a2a2a" textLength="11" lengthAdjust="spacingAndGlyphs" style="stroke:#2a2a2a;stroke-width:0.22px">DG</text>
<line x1="501" y1="93.6" x2="502.6" y2="93.6" stroke="#555" stroke-width="0.6"/>
<text x="502.9" y="95.8" font-size="7" fill="#2a2a2a" textLength="4.3" lengthAdjust="spacingAndGlyphs" style="stroke:#2a2a2a;stroke-width:0.22px">P</text>
<text x="260" y="15.8" font-size="11" fill="#000" font-weight="bold" style="stroke:#000;stroke-width:0.15px">B</text>
<text x="8.5" y="223" font-size="11" fill="#000" font-weight="bold" style="stroke:#000;stroke-width:0.15px">C</text>
<line x1="36.8" y1="216.5" x2="36.8" y2="400" stroke="#ececec" stroke-width="0.5"/>
<line x1="79.3" y1="216.5" x2="79.3" y2="400" stroke="#ececec" stroke-width="0.5"/>
<line x1="164.3" y1="216.5" x2="164.3" y2="400" stroke="#ececec" stroke-width="0.5"/>
<defs><linearGradient id="cg0" x1="0" y1="0" x2="1" y2="0"><stop offset="0" stop-color="#7cc67c" stop-opacity="0.15"/><stop offset="0.33" stop-color="#7cc67c" stop-opacity="0.7"/><stop offset="0.58" stop-color="#7cc67c" stop-opacity="0.95"/><stop offset="0.83" stop-color="#7cc67c" stop-opacity="0.7"/><stop offset="1" stop-color="#7cc67c" stop-opacity="0.15"/></linearGradient></defs>
<path d="M48.9 227.5 Q103 224.5 142.5 227.5 Q103 230.5 48.9 227.5Z" fill="url(#cg0)"/>
<rect x="48.9" y="227.2" width="93.6" height="0.6" fill="url(#cg0)"/>
<circle cx="71.6" cy="227.36" r="0.95" fill="#3a9e3a" opacity="0.9"/>
<circle cx="96" cy="227.22" r="0.95" fill="#3a9e3a" opacity="0.9"/>
<circle cx="118" cy="227.62" r="0.95" fill="#3a9e3a" opacity="0.9"/>
<circle cx="123.5" cy="227.16" r="0.95" fill="#3a9e3a" opacity="0.9"/>
<circle cx="113" cy="232.93" r="0.95" fill="#f5892a" opacity="0.9"/>
<defs><linearGradient id="cg2" x1="0" y1="0" x2="1" y2="0"><stop offset="0" stop-color="#8ab4de" stop-opacity="0.15"/><stop offset="0.32" stop-color="#8ab4de" stop-opacity="0.7"/><stop offset="0.57" stop-color="#8ab4de" stop-opacity="0.95"/><stop offset="0.82" stop-color="#8ab4de" stop-opacity="0.7"/><stop offset="1" stop-color="#8ab4de" stop-opacity="0.15"/></linearGradient></defs>
<path d="M40.8 238.3 Q101 235.7 145.9 238.3 Q101 240.9 40.8 238.3Z" fill="url(#cg2)"/>
<rect x="40.8" y="238" width="105.1" height="0.6" fill="url(#cg2)"/>
<circle cx="97.78" cy="238.31" r="0.9" fill="#2c72b0" opacity="0.85"/>
<circle cx="104.62" cy="237.56" r="0.9" fill="#2c72b0" opacity="0.85"/>
<circle cx="96.13" cy="237.65" r="0.9" fill="#2c72b0" opacity="0.85"/>
<circle cx="103.16" cy="238.18" r="0.9" fill="#2c72b0" opacity="0.85"/>
<circle cx="104.34" cy="237.86" r="0.9" fill="#2c72b0" opacity="0.85"/>
<circle cx="94.63" cy="238.5" r="0.9" fill="#2c72b0" opacity="0.85"/>
<circle cx="118.39" cy="238.13" r="0.9" fill="#2c72b0" opacity="0.85"/>
<circle cx="95.07" cy="239.06" r="0.9" fill="#2c72b0" opacity="0.85"/>
<circle cx="127.51" cy="237.96" r="0.9" fill="#2c72b0" opacity="0.85"/>
<circle cx="108.99" cy="237.73" r="0.9" fill="#2c72b0" opacity="0.85"/>
<circle cx="109.88" cy="238.81" r="0.9" fill="#2c72b0" opacity="0.85"/>
<circle cx="109.11" cy="237.79" r="0.9" fill="#2c72b0" opacity="0.85"/>
<circle cx="83.59" cy="238.1" r="0.9" fill="#2c72b0" opacity="0.85"/>
<circle cx="91.2" cy="238.38" r="0.9" fill="#2c72b0" opacity="0.85"/>
<circle cx="105.53" cy="237.83" r="0.9" fill="#2c72b0" opacity="0.85"/>
<circle cx="102.89" cy="238.59" r="0.9" fill="#2c72b0" opacity="0.85"/>
<circle cx="90.08" cy="238.44" r="0.9" fill="#2c72b0" opacity="0.85"/>
<circle cx="106.34" cy="238.23" r="0.9" fill="#2c72b0" opacity="0.85"/>
<circle cx="93.34" cy="238.62" r="0.9" fill="#2c72b0" opacity="0.85"/>
<circle cx="124.69" cy="237.89" r="0.9" fill="#2c72b0" opacity="0.85"/>
<circle cx="85.75" cy="238.9" r="0.9" fill="#2c72b0" opacity="0.85"/>
<circle cx="93.3" cy="238.67" r="0.9" fill="#2c72b0" opacity="0.85"/>
<circle cx="91.74" cy="237.69" r="0.9" fill="#2c72b0" opacity="0.85"/>
<circle cx="139.1" cy="238.17" r="0.9" fill="#2c72b0" opacity="0.85"/>
<circle cx="101.36" cy="238.28" r="0.9" fill="#2c72b0" opacity="0.85"/>
<circle cx="92.97" cy="237.56" r="0.9" fill="#2c72b0" opacity="0.85"/>
<circle cx="89.3" cy="238.42" r="0.9" fill="#2c72b0" opacity="0.85"/>
<circle cx="80.26" cy="238.9" r="0.9" fill="#2c72b0" opacity="0.85"/>
<circle cx="92.58" cy="238.45" r="0.9" fill="#2c72b0" opacity="0.85"/>
<circle cx="120.88" cy="238.43" r="0.9" fill="#2c72b0" opacity="0.85"/>
<circle cx="75.21" cy="239.01" r="0.9" fill="#2c72b0" opacity="0.85"/>
<circle cx="108.28" cy="238.26" r="0.9" fill="#2c72b0" opacity="0.85"/>
<circle cx="98.46" cy="238.62" r="0.9" fill="#2c72b0" opacity="0.85"/>
<circle cx="96.75" cy="238.54" r="0.9" fill="#2c72b0" opacity="0.85"/>
<circle cx="126.98" cy="237.96" r="0.9" fill="#2c72b0" opacity="0.85"/>
<circle cx="99.87" cy="238.12" r="0.9" fill="#2c72b0" opacity="0.85"/>
<circle cx="99.54" cy="238.24" r="0.9" fill="#2c72b0" opacity="0.85"/>
<circle cx="98.39" cy="237.77" r="0.9" fill="#2c72b0" opacity="0.85"/>
<circle cx="104.62" cy="238.73" r="0.9" fill="#2c72b0" opacity="0.85"/>
<circle cx="104.28" cy="237.71" r="0.9" fill="#2c72b0" opacity="0.85"/>
<circle cx="101.21" cy="238.89" r="0.9" fill="#2c72b0" opacity="0.85"/>
<circle cx="114.94" cy="237.63" r="0.9" fill="#2c72b0" opacity="0.85"/>
<circle cx="84.21" cy="238.91" r="0.9" fill="#2c72b0" opacity="0.85"/>
<circle cx="106.55" cy="238.81" r="0.9" fill="#2c72b0" opacity="0.85"/>
<circle cx="108.43" cy="238.16" r="0.9" fill="#2c72b0" opacity="0.85"/>
<circle cx="92.47" cy="238.07" r="0.9" fill="#2c72b0" opacity="0.85"/>
<circle cx="127.3" cy="237.74" r="0.9" fill="#2c72b0" opacity="0.85"/>
<circle cx="77.58" cy="237.78" r="0.9" fill="#2c72b0" opacity="0.85"/>
<circle cx="102.15" cy="238.28" r="0.9" fill="#2c72b0" opacity="0.85"/>
<circle cx="111.14" cy="238.44" r="0.9" fill="#2c72b0" opacity="0.85"/>
<circle cx="100.9" cy="238.17" r="0.9" fill="#2c72b0" opacity="0.85"/>
<circle cx="102.26" cy="238.09" r="0.9" fill="#2c72b0" opacity="0.85"/>
<circle cx="69.33" cy="238.6" r="0.9" fill="#2c72b0" opacity="0.85"/>
<circle cx="86.98" cy="238.32" r="0.9" fill="#2c72b0" opacity="0.85"/>
<circle cx="85.46" cy="237.59" r="0.9" fill="#2c72b0" opacity="0.85"/>
<circle cx="86.84" cy="238.94" r="0.9" fill="#2c72b0" opacity="0.85"/>
<circle cx="106.34" cy="238.78" r="0.9" fill="#2c72b0" opacity="0.85"/>
<circle cx="72.98" cy="238.13" r="0.9" fill="#2c72b0" opacity="0.85"/>
<circle cx="95.73" cy="238.51" r="0.9" fill="#2c72b0" opacity="0.85"/>
<circle cx="104.88" cy="237.6" r="0.9" fill="#2c72b0" opacity="0.85"/>
<circle cx="109.74" cy="237.76" r="0.9" fill="#2c72b0" opacity="0.85"/>
<circle cx="104.93" cy="238.04" r="0.9" fill="#2c72b0" opacity="0.85"/>
<circle cx="101.29" cy="237.74" r="0.9" fill="#2c72b0" opacity="0.85"/>
<circle cx="101.1" cy="237.66" r="0.9" fill="#2c72b0" opacity="0.85"/>
<circle cx="98.92" cy="238.9" r="0.9" fill="#2c72b0" opacity="0.85"/>
<circle cx="103.41" cy="238.48" r="0.9" fill="#2c72b0" opacity="0.85"/>
<circle cx="107.35" cy="238.06" r="0.9" fill="#2c72b0" opacity="0.85"/>
<circle cx="109.58" cy="238.08" r="0.9" fill="#2c72b0" opacity="0.85"/>
<circle cx="120.51" cy="239.09" r="0.9" fill="#2c72b0" opacity="0.85"/>
<circle cx="119.98" cy="238.25" r="0.9" fill="#2c72b0" opacity="0.85"/>
<circle cx="45" cy="238.29" r="0.95" fill="#2c72b0" opacity="0.9"/>
<circle cx="52" cy="237.97" r="0.95" fill="#2c72b0" opacity="0.9"/>
<circle cx="57" cy="237.98" r="0.95" fill="#2c72b0" opacity="0.9"/>
<circle cx="62" cy="238.17" r="0.95" fill="#2c72b0" opacity="0.9"/>
<circle cx="66" cy="238.11" r="0.95" fill="#2c72b0" opacity="0.9"/>
<circle cx="139" cy="238.56" r="0.95" fill="#2c72b0" opacity="0.9"/>
<defs><linearGradient id="cg3" x1="0" y1="0" x2="1" y2="0"><stop offset="0" stop-color="#8ed6e6" stop-opacity="0.15"/><stop offset="0.37" stop-color="#8ed6e6" stop-opacity="0.7"/><stop offset="0.62" stop-color="#8ed6e6" stop-opacity="0.95"/><stop offset="0.87" stop-color="#8ed6e6" stop-opacity="0.7"/><stop offset="1" stop-color="#8ed6e6" stop-opacity="0.15"/></linearGradient></defs>
<path d="M49 243.7 Q107 241.3 143 243.7 Q107 246.1 49 243.7Z" fill="url(#cg3)"/>
<rect x="49" y="243.4" width="94" height="0.6" fill="url(#cg3)"/>
<circle cx="108.26" cy="244.42" r="0.9" fill="#22aec8" opacity="0.85"/>
<circle cx="109.02" cy="243.75" r="0.9" fill="#22aec8" opacity="0.85"/>
<circle cx="115.33" cy="242.94" r="0.9" fill="#22aec8" opacity="0.85"/>
<circle cx="117.96" cy="243.74" r="0.9" fill="#22aec8" opacity="0.85"/>
<circle cx="128.75" cy="244.01" r="0.9" fill="#22aec8" opacity="0.85"/>
<circle cx="104.04" cy="243.32" r="0.9" fill="#22aec8" opacity="0.85"/>
<circle cx="102.55" cy="244.14" r="0.9" fill="#22aec8" opacity="0.85"/>
<circle cx="111.94" cy="243.75" r="0.9" fill="#22aec8" opacity="0.85"/>
<circle cx="108.79" cy="243.26" r="0.9" fill="#22aec8" opacity="0.85"/>
<circle cx="97.33" cy="244.2" r="0.9" fill="#22aec8" opacity="0.85"/>
<circle cx="128.43" cy="244.19" r="0.9" fill="#22aec8" opacity="0.85"/>
<circle cx="104.96" cy="244.21" r="0.9" fill="#22aec8" opacity="0.85"/>
<circle cx="106.5" cy="243.73" r="0.9" fill="#22aec8" opacity="0.85"/>
<circle cx="99.13" cy="243.47" r="0.9" fill="#22aec8" opacity="0.85"/>
<circle cx="109.58" cy="243.35" r="0.9" fill="#22aec8" opacity="0.85"/>
<circle cx="107.47" cy="243.31" r="0.9" fill="#22aec8" opacity="0.85"/>
<circle cx="97.27" cy="243.62" r="0.9" fill="#22aec8" opacity="0.85"/>
<circle cx="81.23" cy="244.4" r="0.9" fill="#22aec8" opacity="0.85"/>
<circle cx="134.32" cy="243.48" r="0.9" fill="#22aec8" opacity="0.85"/>
<circle cx="104.94" cy="243.25" r="0.9" fill="#22aec8" opacity="0.85"/>
<circle cx="108.06" cy="243.23" r="0.9" fill="#22aec8" opacity="0.85"/>
<circle cx="114.2" cy="243.9" r="0.9" fill="#22aec8" opacity="0.85"/>
<circle cx="124.07" cy="243.67" r="0.9" fill="#22aec8" opacity="0.85"/>
<circle cx="94.65" cy="243.94" r="0.9" fill="#22aec8" opacity="0.85"/>
<circle cx="108.42" cy="243.96" r="0.9" fill="#22aec8" opacity="0.85"/>
<circle cx="102.59" cy="244.36" r="0.9" fill="#22aec8" opacity="0.85"/>
<circle cx="110.69" cy="243.66" r="0.9" fill="#22aec8" opacity="0.85"/>
<circle cx="89.06" cy="243.19" r="0.9" fill="#22aec8" opacity="0.85"/>
<circle cx="109.41" cy="244.18" r="0.9" fill="#22aec8" opacity="0.85"/>
<circle cx="97.41" cy="244.45" r="0.9" fill="#22aec8" opacity="0.85"/>
<circle cx="98.16" cy="244.41" r="0.9" fill="#22aec8" opacity="0.85"/>
<circle cx="113.78" cy="244.06" r="0.9" fill="#22aec8" opacity="0.85"/>
<circle cx="109.76" cy="243.14" r="0.9" fill="#22aec8" opacity="0.85"/>
<circle cx="112.02" cy="244.35" r="0.9" fill="#22aec8" opacity="0.85"/>
<circle cx="109.15" cy="244.22" r="0.9" fill="#22aec8" opacity="0.85"/>
<circle cx="101.2" cy="244.47" r="0.9" fill="#22aec8" opacity="0.85"/>
<circle cx="101.38" cy="243.78" r="0.9" fill="#22aec8" opacity="0.85"/>
<circle cx="98.47" cy="243.11" r="0.9" fill="#22aec8" opacity="0.85"/>
<circle cx="136.14" cy="243.94" r="0.9" fill="#22aec8" opacity="0.85"/>
<circle cx="109.61" cy="243.74" r="0.9" fill="#22aec8" opacity="0.85"/>
<circle cx="50" cy="244.05" r="0.95" fill="#22aec8" opacity="0.9"/>
<circle cx="63" cy="243.65" r="0.95" fill="#22aec8" opacity="0.9"/>
<circle cx="72" cy="244" r="0.95" fill="#22aec8" opacity="0.9"/>
<circle cx="80" cy="243.96" r="0.95" fill="#22aec8" opacity="0.9"/>
<circle cx="140" cy="243.47" r="0.95" fill="#22aec8" opacity="0.9"/>
<defs><linearGradient id="cg4" x1="0" y1="0" x2="1" y2="0"><stop offset="0" stop-color="#d2d274" stop-opacity="0.15"/><stop offset="0.18" stop-color="#d2d274" stop-opacity="0.7"/><stop offset="0.43" stop-color="#d2d274" stop-opacity="0.95"/><stop offset="0.68" stop-color="#d2d274" stop-opacity="0.7"/><stop offset="1" stop-color="#d2d274" stop-opacity="0.15"/></linearGradient></defs>
<path d="M84 249.1 Q106 246.1 135 249.1 Q106 252.1 84 249.1Z" fill="url(#cg4)"/>
<rect x="84" y="248.8" width="51" height="0.6" fill="url(#cg4)"/>
<circle cx="105.93" cy="248.68" r="0.9" fill="#b5b52a" opacity="0.85"/>
<circle cx="111.83" cy="249.24" r="0.9" fill="#b5b52a" opacity="0.85"/>
<circle cx="105.57" cy="248.51" r="0.9" fill="#b5b52a" opacity="0.85"/>
<circle cx="113.28" cy="249.76" r="0.9" fill="#b5b52a" opacity="0.85"/>
<circle cx="101.3" cy="249.23" r="0.9" fill="#b5b52a" opacity="0.85"/>
<circle cx="112.16" cy="249.75" r="0.9" fill="#b5b52a" opacity="0.85"/>
<circle cx="92.26" cy="249.1" r="0.9" fill="#b5b52a" opacity="0.85"/>
<circle cx="113.48" cy="249.15" r="0.9" fill="#b5b52a" opacity="0.85"/>
<circle cx="104.65" cy="249" r="0.9" fill="#b5b52a" opacity="0.85"/>
<circle cx="105.8" cy="248.59" r="0.9" fill="#b5b52a" opacity="0.85"/>
<circle cx="118.54" cy="248.58" r="0.9" fill="#b5b52a" opacity="0.85"/>
<circle cx="106.31" cy="249.06" r="0.9" fill="#b5b52a" opacity="0.85"/>
<circle cx="104.61" cy="248.82" r="0.9" fill="#b5b52a" opacity="0.85"/>
<circle cx="97.18" cy="249.13" r="0.9" fill="#b5b52a" opacity="0.85"/>
<circle cx="94.48" cy="248.47" r="0.9" fill="#b5b52a" opacity="0.85"/>
<circle cx="101.82" cy="249.2" r="0.9" fill="#b5b52a" opacity="0.85"/>
<circle cx="106.05" cy="249.54" r="0.9" fill="#b5b52a" opacity="0.85"/>
<circle cx="111.64" cy="249.11" r="0.9" fill="#b5b52a" opacity="0.85"/>
<circle cx="95.05" cy="249.76" r="0.9" fill="#b5b52a" opacity="0.85"/>
<circle cx="101.53" cy="249.01" r="0.9" fill="#b5b52a" opacity="0.85"/>
<circle cx="99.68" cy="249.12" r="0.9" fill="#b5b52a" opacity="0.85"/>
<circle cx="100.6" cy="249.41" r="0.9" fill="#b5b52a" opacity="0.85"/>
<defs><linearGradient id="cg5" x1="0" y1="0" x2="1" y2="0"><stop offset="0" stop-color="#b4b4b4" stop-opacity="0.15"/><stop offset="0.27" stop-color="#b4b4b4" stop-opacity="0.7"/><stop offset="0.52" stop-color="#b4b4b4" stop-opacity="0.95"/><stop offset="0.77" stop-color="#b4b4b4" stop-opacity="0.7"/><stop offset="1" stop-color="#b4b4b4" stop-opacity="0.15"/></linearGradient></defs>
<path d="M49 254.5 Q105 252.1 156 254.5 Q105 256.9 49 254.5Z" fill="url(#cg5)"/>
<rect x="49" y="254.2" width="107" height="0.6" fill="url(#cg5)"/>
<circle cx="78" cy="254.46" r="0.95" fill="#7a7a7a" opacity="0.9"/>
<circle cx="91.7" cy="254.53" r="0.95" fill="#7a7a7a" opacity="0.9"/>
<circle cx="99" cy="254.48" r="0.95" fill="#7a7a7a" opacity="0.9"/>
<circle cx="109.7" cy="254.85" r="0.95" fill="#7a7a7a" opacity="0.9"/>
<circle cx="127.7" cy="254.66" r="0.95" fill="#7a7a7a" opacity="0.9"/>
<defs><linearGradient id="cg6" x1="0" y1="0" x2="1" y2="0"><stop offset="0" stop-color="#eea8d8" stop-opacity="0.15"/><stop offset="0.27" stop-color="#eea8d8" stop-opacity="0.7"/><stop offset="0.52" stop-color="#eea8d8" stop-opacity="0.95"/><stop offset="0.77" stop-color="#eea8d8" stop-opacity="0.7"/><stop offset="1" stop-color="#eea8d8" stop-opacity="0.15"/></linearGradient></defs>
<path d="M73 259.9 Q105 257.5 135 259.9 Q105 262.3 73 259.9Z" fill="url(#cg6)"/>
<rect x="73" y="259.6" width="62" height="0.6" fill="url(#cg6)"/>
<circle cx="120.34" cy="259.52" r="0.9" fill="#df6cbf" opacity="0.85"/>
<circle cx="89.95" cy="260" r="0.9" fill="#df6cbf" opacity="0.85"/>
<circle cx="121.15" cy="259.32" r="0.9" fill="#df6cbf" opacity="0.85"/>
<circle cx="98.99" cy="259.29" r="0.9" fill="#df6cbf" opacity="0.85"/>
<circle cx="101.74" cy="259.49" r="0.9" fill="#df6cbf" opacity="0.85"/>
<circle cx="106.24" cy="259.22" r="0.9" fill="#df6cbf" opacity="0.85"/>
<circle cx="97.36" cy="260.54" r="0.9" fill="#df6cbf" opacity="0.85"/>
<circle cx="91.22" cy="259.35" r="0.9" fill="#df6cbf" opacity="0.85"/>
<circle cx="102.21" cy="259.33" r="0.9" fill="#df6cbf" opacity="0.85"/>
<circle cx="92.07" cy="260.51" r="0.9" fill="#df6cbf" opacity="0.85"/>
<circle cx="111.21" cy="260.62" r="0.9" fill="#df6cbf" opacity="0.85"/>
<circle cx="103.72" cy="259.74" r="0.9" fill="#df6cbf" opacity="0.85"/>
<circle cx="77.81" cy="260.43" r="0.9" fill="#df6cbf" opacity="0.85"/>
<circle cx="107.18" cy="259.36" r="0.9" fill="#df6cbf" opacity="0.85"/>
<circle cx="95.15" cy="259.64" r="0.9" fill="#df6cbf" opacity="0.85"/>
<circle cx="109.52" cy="259.41" r="0.9" fill="#df6cbf" opacity="0.85"/>
<circle cx="98.99" cy="259.13" r="0.9" fill="#df6cbf" opacity="0.85"/>
<circle cx="118.09" cy="259.99" r="0.9" fill="#df6cbf" opacity="0.85"/>
<circle cx="103.4" cy="259.63" r="0.9" fill="#df6cbf" opacity="0.85"/>
<circle cx="105.63" cy="260.1" r="0.9" fill="#df6cbf" opacity="0.85"/>
<circle cx="101.73" cy="260.68" r="0.9" fill="#df6cbf" opacity="0.85"/>
<circle cx="104.75" cy="260.36" r="0.9" fill="#df6cbf" opacity="0.85"/>
<circle cx="109.17" cy="259.52" r="0.9" fill="#df6cbf" opacity="0.85"/>
<circle cx="104.25" cy="259.16" r="0.9" fill="#df6cbf" opacity="0.85"/>
<circle cx="106.29" cy="259.31" r="0.9" fill="#df6cbf" opacity="0.85"/>
<circle cx="97.97" cy="259.78" r="0.9" fill="#df6cbf" opacity="0.85"/>
<circle cx="119.13" cy="259.51" r="0.9" fill="#df6cbf" opacity="0.85"/>
<circle cx="96.21" cy="259.34" r="0.9" fill="#df6cbf" opacity="0.85"/>
<circle cx="115.23" cy="260.22" r="0.9" fill="#df6cbf" opacity="0.85"/>
<circle cx="99.31" cy="259.24" r="0.9" fill="#df6cbf" opacity="0.85"/>
<circle cx="78" cy="259.55" r="0.95" fill="#df6cbf" opacity="0.9"/>
<circle cx="86" cy="260.05" r="0.95" fill="#df6cbf" opacity="0.9"/>
<defs><linearGradient id="cg7" x1="0" y1="0" x2="1" y2="0"><stop offset="0" stop-color="#be968e" stop-opacity="0.15"/><stop offset="0.42" stop-color="#be968e" stop-opacity="0.7"/><stop offset="0.67" stop-color="#be968e" stop-opacity="0.95"/><stop offset="0.92" stop-color="#be968e" stop-opacity="0.7"/><stop offset="1" stop-color="#be968e" stop-opacity="0.15"/></linearGradient></defs>
<path d="M46 265.3 Q108 263.1 138 265.3 Q108 267.5 46 265.3Z" fill="url(#cg7)"/>
<rect x="46" y="265" width="92" height="0.6" fill="url(#cg7)"/>
<circle cx="104.89" cy="266" r="0.9" fill="#8a5248" opacity="0.85"/>
<circle cx="109.58" cy="265.52" r="0.9" fill="#8a5248" opacity="0.85"/>
<circle cx="109.2" cy="265.87" r="0.9" fill="#8a5248" opacity="0.85"/>
<circle cx="104.43" cy="264.61" r="0.9" fill="#8a5248" opacity="0.85"/>
<circle cx="114.44" cy="265.04" r="0.9" fill="#8a5248" opacity="0.85"/>
<circle cx="100.48" cy="265.38" r="0.9" fill="#8a5248" opacity="0.85"/>
<circle cx="114.37" cy="264.71" r="0.9" fill="#8a5248" opacity="0.85"/>
<circle cx="104.84" cy="265.34" r="0.9" fill="#8a5248" opacity="0.85"/>
<circle cx="108.31" cy="264.76" r="0.9" fill="#8a5248" opacity="0.85"/>
<circle cx="112.32" cy="264.58" r="0.9" fill="#8a5248" opacity="0.85"/>
<circle cx="110.32" cy="264.99" r="0.9" fill="#8a5248" opacity="0.85"/>
<circle cx="115.43" cy="265.72" r="0.9" fill="#8a5248" opacity="0.85"/>
<circle cx="105.37" cy="264.78" r="0.9" fill="#8a5248" opacity="0.85"/>
<circle cx="118.27" cy="265.06" r="0.9" fill="#8a5248" opacity="0.85"/>
<circle cx="114.79" cy="264.52" r="0.9" fill="#8a5248" opacity="0.85"/>
<circle cx="108.78" cy="265.67" r="0.9" fill="#8a5248" opacity="0.85"/>
<circle cx="102.46" cy="265.26" r="0.9" fill="#8a5248" opacity="0.85"/>
<circle cx="106.16" cy="266" r="0.9" fill="#8a5248" opacity="0.85"/>
<circle cx="121.06" cy="265.19" r="0.9" fill="#8a5248" opacity="0.85"/>
<circle cx="118.3" cy="265.29" r="0.9" fill="#8a5248" opacity="0.85"/>
<circle cx="112.56" cy="265.31" r="0.9" fill="#8a5248" opacity="0.85"/>
<circle cx="100.25" cy="265.6" r="0.9" fill="#8a5248" opacity="0.85"/>
<circle cx="116.19" cy="265.83" r="0.9" fill="#8a5248" opacity="0.85"/>
<circle cx="107.09" cy="265.63" r="0.9" fill="#8a5248" opacity="0.85"/>
<circle cx="101.98" cy="265.06" r="0.9" fill="#8a5248" opacity="0.85"/>
<circle cx="101.09" cy="264.59" r="0.9" fill="#8a5248" opacity="0.85"/>
<circle cx="110.36" cy="265.69" r="0.9" fill="#8a5248" opacity="0.85"/>
<circle cx="110.51" cy="264.91" r="0.9" fill="#8a5248" opacity="0.85"/>
<circle cx="109.96" cy="265.85" r="0.9" fill="#8a5248" opacity="0.85"/>
<circle cx="111.23" cy="265.89" r="0.9" fill="#8a5248" opacity="0.85"/>
<circle cx="104.49" cy="264.89" r="0.9" fill="#8a5248" opacity="0.85"/>
<circle cx="101.57" cy="264.97" r="0.9" fill="#8a5248" opacity="0.85"/>
<circle cx="102.9" cy="265.21" r="0.9" fill="#8a5248" opacity="0.85"/>
<circle cx="109.33" cy="264.92" r="0.9" fill="#8a5248" opacity="0.85"/>
<circle cx="131.45" cy="265.38" r="0.9" fill="#8a5248" opacity="0.85"/>
<circle cx="52" cy="265.1" r="0.95" fill="#8a5248" opacity="0.9"/>
<circle cx="62" cy="265.67" r="0.95" fill="#8a5248" opacity="0.9"/>
<circle cx="71" cy="265.15" r="0.95" fill="#8a5248" opacity="0.9"/>
<circle cx="82" cy="265.19" r="0.95" fill="#8a5248" opacity="0.9"/>
<circle cx="92" cy="264.9" r="0.95" fill="#8a5248" opacity="0.9"/>
<defs><linearGradient id="cg8" x1="0" y1="0" x2="1" y2="0"><stop offset="0" stop-color="#bca4dc" stop-opacity="0.15"/><stop offset="0.23" stop-color="#bca4dc" stop-opacity="0.7"/><stop offset="0.48" stop-color="#bca4dc" stop-opacity="0.95"/><stop offset="0.73" stop-color="#bca4dc" stop-opacity="0.7"/><stop offset="1" stop-color="#bca4dc" stop-opacity="0.15"/></linearGradient></defs>
<path d="M95 270.7 Q122 267.1 151 270.7 Q122 274.3 95 270.7Z" fill="url(#cg8)"/>
<rect x="95" y="270.4" width="56" height="0.6" fill="url(#cg8)"/>
<circle cx="119" cy="270.61" r="0.95" fill="#9467bd" opacity="0.9"/>
<circle cx="133" cy="270.68" r="0.95" fill="#9467bd" opacity="0.9"/>
<defs><linearGradient id="cg9" x1="0" y1="0" x2="1" y2="0"><stop offset="0" stop-color="#ee9090" stop-opacity="0.15"/><stop offset="0.41" stop-color="#ee9090" stop-opacity="0.7"/><stop offset="0.66" stop-color="#ee9090" stop-opacity="0.95"/><stop offset="0.91" stop-color="#ee9090" stop-opacity="0.7"/><stop offset="1" stop-color="#ee9090" stop-opacity="0.15"/></linearGradient></defs>
<path d="M16 276.1 Q106 274.1 151.5 276.1 Q106 278.1 16 276.1Z" fill="url(#cg9)"/>
<rect x="16" y="275.8" width="135.5" height="0.6" fill="url(#cg9)"/>
<circle cx="99.62" cy="276.1" r="0.9" fill="#d62a2a" opacity="0.85"/>
<circle cx="109.59" cy="275.31" r="0.9" fill="#d62a2a" opacity="0.85"/>
<circle cx="117.3" cy="275.72" r="0.9" fill="#d62a2a" opacity="0.85"/>
<circle cx="114.54" cy="275.37" r="0.9" fill="#d62a2a" opacity="0.85"/>
<circle cx="111.4" cy="275.34" r="0.9" fill="#d62a2a" opacity="0.85"/>
<circle cx="103.57" cy="276.24" r="0.9" fill="#d62a2a" opacity="0.85"/>
<circle cx="112.86" cy="276.15" r="0.9" fill="#d62a2a" opacity="0.85"/>
<circle cx="106.05" cy="276.45" r="0.9" fill="#d62a2a" opacity="0.85"/>
<circle cx="91.36" cy="276.71" r="0.9" fill="#d62a2a" opacity="0.85"/>
<circle cx="99.17" cy="276.88" r="0.9" fill="#d62a2a" opacity="0.85"/>
<circle cx="111.68" cy="275.54" r="0.9" fill="#d62a2a" opacity="0.85"/>
<circle cx="103.68" cy="275.37" r="0.9" fill="#d62a2a" opacity="0.85"/>
<circle cx="91.83" cy="276.64" r="0.9" fill="#d62a2a" opacity="0.85"/>
<circle cx="116.93" cy="276.47" r="0.9" fill="#d62a2a" opacity="0.85"/>
<circle cx="97.18" cy="276.6" r="0.9" fill="#d62a2a" opacity="0.85"/>
<circle cx="113.8" cy="276.11" r="0.9" fill="#d62a2a" opacity="0.85"/>
<circle cx="115.35" cy="276.64" r="0.9" fill="#d62a2a" opacity="0.85"/>
<circle cx="112.3" cy="276.23" r="0.9" fill="#d62a2a" opacity="0.85"/>
<circle cx="88.38" cy="276.73" r="0.9" fill="#d62a2a" opacity="0.85"/>
<circle cx="99.71" cy="275.67" r="0.9" fill="#d62a2a" opacity="0.85"/>
<circle cx="91.97" cy="275.35" r="0.9" fill="#d62a2a" opacity="0.85"/>
<circle cx="112.34" cy="275.47" r="0.9" fill="#d62a2a" opacity="0.85"/>
<circle cx="113.02" cy="276.64" r="0.9" fill="#d62a2a" opacity="0.85"/>
<circle cx="92.88" cy="276.3" r="0.9" fill="#d62a2a" opacity="0.85"/>
<circle cx="100.95" cy="276.39" r="0.9" fill="#d62a2a" opacity="0.85"/>
<circle cx="105.19" cy="276.58" r="0.9" fill="#d62a2a" opacity="0.85"/>
<circle cx="106.05" cy="276.5" r="0.9" fill="#d62a2a" opacity="0.85"/>
<circle cx="93.62" cy="276.35" r="0.9" fill="#d62a2a" opacity="0.85"/>
<circle cx="105.77" cy="275.41" r="0.9" fill="#d62a2a" opacity="0.85"/>
<circle cx="105.37" cy="275.42" r="0.9" fill="#d62a2a" opacity="0.85"/>
<circle cx="98.4" cy="275.72" r="0.9" fill="#d62a2a" opacity="0.85"/>
<circle cx="105.12" cy="276.48" r="0.9" fill="#d62a2a" opacity="0.85"/>
<circle cx="99.28" cy="276.86" r="0.9" fill="#d62a2a" opacity="0.85"/>
<circle cx="96.19" cy="276.07" r="0.9" fill="#d62a2a" opacity="0.85"/>
<circle cx="106.37" cy="276.39" r="0.9" fill="#d62a2a" opacity="0.85"/>
<circle cx="107.47" cy="276.33" r="0.9" fill="#d62a2a" opacity="0.85"/>
<circle cx="92.22" cy="275.42" r="0.9" fill="#d62a2a" opacity="0.85"/>
<circle cx="110.6" cy="276.49" r="0.9" fill="#d62a2a" opacity="0.85"/>
<circle cx="112.12" cy="275.79" r="0.9" fill="#d62a2a" opacity="0.85"/>
<circle cx="104.56" cy="275.4" r="0.9" fill="#d62a2a" opacity="0.85"/>
<circle cx="31" cy="275.92" r="0.95" fill="#d62a2a" opacity="0.9"/>
<circle cx="55" cy="276.24" r="0.95" fill="#d62a2a" opacity="0.9"/>
<circle cx="62" cy="276.25" r="0.95" fill="#d62a2a" opacity="0.9"/>
<circle cx="75" cy="276.24" r="0.95" fill="#d62a2a" opacity="0.9"/>
<defs><linearGradient id="cg10" x1="0" y1="0" x2="1" y2="0"><stop offset="0" stop-color="#7cc67c" stop-opacity="0.15"/><stop offset="0.39" stop-color="#7cc67c" stop-opacity="0.7"/><stop offset="0.64" stop-color="#7cc67c" stop-opacity="0.95"/><stop offset="0.89" stop-color="#7cc67c" stop-opacity="0.7"/><stop offset="1" stop-color="#7cc67c" stop-opacity="0.15"/></linearGradient></defs>
<path d="M40.8 281.5 Q88 279.7 114.6 281.5 Q88 283.3 40.8 281.5Z" fill="url(#cg10)"/>
<rect x="40.8" y="281.2" width="73.8" height="0.6" fill="url(#cg10)"/>
<circle cx="87.15" cy="281.17" r="0.9" fill="#1f6a1f" opacity="0.85"/>
<circle cx="73.55" cy="281.45" r="0.9" fill="#1f6a1f" opacity="0.85"/>
<circle cx="86.49" cy="280.89" r="0.9" fill="#1f6a1f" opacity="0.85"/>
<circle cx="94.8" cy="282.27" r="0.9" fill="#1f6a1f" opacity="0.85"/>
<circle cx="82.63" cy="282.2" r="0.9" fill="#1f6a1f" opacity="0.85"/>
<circle cx="102.32" cy="282.01" r="0.9" fill="#1f6a1f" opacity="0.85"/>
<circle cx="89.58" cy="282.25" r="0.9" fill="#1f6a1f" opacity="0.85"/>
<circle cx="78.23" cy="281.04" r="0.9" fill="#1f6a1f" opacity="0.85"/>
<circle cx="91.21" cy="282.21" r="0.9" fill="#1f6a1f" opacity="0.85"/>
<circle cx="92.19" cy="280.93" r="0.9" fill="#1f6a1f" opacity="0.85"/>
<circle cx="104.64" cy="281.54" r="0.9" fill="#1f6a1f" opacity="0.85"/>
<circle cx="94.63" cy="282.01" r="0.9" fill="#1f6a1f" opacity="0.85"/>
<circle cx="85.97" cy="281.51" r="0.9" fill="#1f6a1f" opacity="0.85"/>
<circle cx="103.36" cy="281.07" r="0.9" fill="#1f6a1f" opacity="0.85"/>
<circle cx="74.78" cy="282.14" r="0.9" fill="#1f6a1f" opacity="0.85"/>
<circle cx="85.1" cy="280.71" r="0.9" fill="#1f6a1f" opacity="0.85"/>
<circle cx="88.25" cy="281.49" r="0.9" fill="#1f6a1f" opacity="0.85"/>
<circle cx="77.5" cy="280.93" r="0.9" fill="#1f6a1f" opacity="0.85"/>
<circle cx="91.36" cy="281.25" r="0.9" fill="#1f6a1f" opacity="0.85"/>
<circle cx="77.96" cy="280.7" r="0.9" fill="#1f6a1f" opacity="0.85"/>
<circle cx="110.78" cy="281.9" r="0.9" fill="#1f6a1f" opacity="0.85"/>
<circle cx="91.49" cy="282.18" r="0.9" fill="#1f6a1f" opacity="0.85"/>
<circle cx="82.43" cy="281.84" r="0.9" fill="#1f6a1f" opacity="0.85"/>
<circle cx="96.76" cy="281.3" r="0.9" fill="#1f6a1f" opacity="0.85"/>
<circle cx="81.76" cy="281.33" r="0.9" fill="#1f6a1f" opacity="0.85"/>
<circle cx="105.34" cy="281.28" r="0.9" fill="#1f6a1f" opacity="0.85"/>
<circle cx="87.87" cy="281.38" r="0.9" fill="#1f6a1f" opacity="0.85"/>
<circle cx="87.36" cy="280.86" r="0.9" fill="#1f6a1f" opacity="0.85"/>
<circle cx="92.04" cy="282.04" r="0.9" fill="#1f6a1f" opacity="0.85"/>
<circle cx="81.24" cy="281.1" r="0.9" fill="#1f6a1f" opacity="0.85"/>
<circle cx="112.6" cy="281.13" r="0.9" fill="#1f6a1f" opacity="0.85"/>
<circle cx="79.58" cy="281.3" r="0.9" fill="#1f6a1f" opacity="0.85"/>
<circle cx="87.42" cy="282.23" r="0.9" fill="#1f6a1f" opacity="0.85"/>
<circle cx="105.75" cy="281.71" r="0.9" fill="#1f6a1f" opacity="0.85"/>
<circle cx="72.2" cy="282.16" r="0.9" fill="#1f6a1f" opacity="0.85"/>
<circle cx="103.28" cy="281.85" r="0.9" fill="#1f6a1f" opacity="0.85"/>
<circle cx="82.03" cy="280.78" r="0.9" fill="#1f6a1f" opacity="0.85"/>
<circle cx="86.42" cy="281.9" r="0.9" fill="#1f6a1f" opacity="0.85"/>
<circle cx="73.85" cy="281.73" r="0.9" fill="#1f6a1f" opacity="0.85"/>
<circle cx="87.07" cy="282.18" r="0.9" fill="#1f6a1f" opacity="0.85"/>
<circle cx="92.01" cy="280.9" r="0.9" fill="#1f6a1f" opacity="0.85"/>
<circle cx="76.25" cy="281.18" r="0.9" fill="#1f6a1f" opacity="0.85"/>
<circle cx="90.07" cy="281.88" r="0.9" fill="#1f6a1f" opacity="0.85"/>
<circle cx="97.98" cy="281.75" r="0.9" fill="#1f6a1f" opacity="0.85"/>
<circle cx="86.5" cy="281.18" r="0.9" fill="#1f6a1f" opacity="0.85"/>
<defs><linearGradient id="cg11" x1="0" y1="0" x2="1" y2="0"><stop offset="0" stop-color="#fbb27a" stop-opacity="0.15"/><stop offset="0.36" stop-color="#fbb27a" stop-opacity="0.7"/><stop offset="0.61" stop-color="#fbb27a" stop-opacity="0.95"/><stop offset="0.86" stop-color="#fbb27a" stop-opacity="0.7"/><stop offset="1" stop-color="#fbb27a" stop-opacity="0.15"/></linearGradient></defs>
<path d="M47 286.9 Q103 284.9 139 286.9 Q103 288.9 47 286.9Z" fill="url(#cg11)"/>
<rect x="47" y="286.6" width="92" height="0.6" fill="url(#cg11)"/>
<circle cx="93.63" cy="286.37" r="0.9" fill="#f5892a" opacity="0.85"/>
<circle cx="99.47" cy="286.36" r="0.9" fill="#f5892a" opacity="0.85"/>
<circle cx="108.69" cy="286.9" r="0.9" fill="#f5892a" opacity="0.85"/>
<circle cx="123.99" cy="286.45" r="0.9" fill="#f5892a" opacity="0.85"/>
<circle cx="130.95" cy="286.82" r="0.9" fill="#f5892a" opacity="0.85"/>
<circle cx="84.33" cy="286.32" r="0.9" fill="#f5892a" opacity="0.85"/>
<circle cx="104.54" cy="286.65" r="0.9" fill="#f5892a" opacity="0.85"/>
<circle cx="107.08" cy="286.25" r="0.9" fill="#f5892a" opacity="0.85"/>
<circle cx="103.53" cy="287.01" r="0.9" fill="#f5892a" opacity="0.85"/>
<circle cx="110.71" cy="287.52" r="0.9" fill="#f5892a" opacity="0.85"/>
<circle cx="102.98" cy="286.76" r="0.9" fill="#f5892a" opacity="0.85"/>
<circle cx="92.68" cy="286.94" r="0.9" fill="#f5892a" opacity="0.85"/>
<circle cx="96.5" cy="286.2" r="0.9" fill="#f5892a" opacity="0.85"/>
<circle cx="109.35" cy="286.54" r="0.9" fill="#f5892a" opacity="0.85"/>
<circle cx="108.08" cy="286.91" r="0.9" fill="#f5892a" opacity="0.85"/>
<circle cx="101.95" cy="287.11" r="0.9" fill="#f5892a" opacity="0.85"/>
<circle cx="107.54" cy="286.53" r="0.9" fill="#f5892a" opacity="0.85"/>
<circle cx="97.71" cy="286.5" r="0.9" fill="#f5892a" opacity="0.85"/>
<circle cx="94.22" cy="287.63" r="0.9" fill="#f5892a" opacity="0.85"/>
<circle cx="109.4" cy="287.46" r="0.9" fill="#f5892a" opacity="0.85"/>
<circle cx="104.47" cy="286.15" r="0.9" fill="#f5892a" opacity="0.85"/>
<circle cx="101.5" cy="287.24" r="0.9" fill="#f5892a" opacity="0.85"/>
<circle cx="111.98" cy="287.04" r="0.9" fill="#f5892a" opacity="0.85"/>
<circle cx="96.1" cy="286.1" r="0.9" fill="#f5892a" opacity="0.85"/>
<circle cx="85.24" cy="287.42" r="0.9" fill="#f5892a" opacity="0.85"/>
<circle cx="117.41" cy="287.47" r="0.9" fill="#f5892a" opacity="0.85"/>
<circle cx="110.44" cy="286.27" r="0.9" fill="#f5892a" opacity="0.85"/>
<circle cx="101.69" cy="286.35" r="0.9" fill="#f5892a" opacity="0.85"/>
<circle cx="88.01" cy="287.61" r="0.9" fill="#f5892a" opacity="0.85"/>
<circle cx="100.88" cy="287.25" r="0.9" fill="#f5892a" opacity="0.85"/>
<circle cx="92.77" cy="286.83" r="0.9" fill="#f5892a" opacity="0.85"/>
<circle cx="89.4" cy="286.98" r="0.9" fill="#f5892a" opacity="0.85"/>
<circle cx="119.93" cy="286.47" r="0.9" fill="#f5892a" opacity="0.85"/>
<circle cx="107.29" cy="287.57" r="0.9" fill="#f5892a" opacity="0.85"/>
<circle cx="97.81" cy="286.3" r="0.9" fill="#f5892a" opacity="0.85"/>
<circle cx="96.26" cy="286.5" r="0.9" fill="#f5892a" opacity="0.85"/>
<circle cx="92.85" cy="286.28" r="0.9" fill="#f5892a" opacity="0.85"/>
<circle cx="91.3" cy="286.21" r="0.9" fill="#f5892a" opacity="0.85"/>
<circle cx="89.93" cy="286.72" r="0.9" fill="#f5892a" opacity="0.85"/>
<circle cx="100.98" cy="286.46" r="0.9" fill="#f5892a" opacity="0.85"/>
<circle cx="101.83" cy="286.58" r="0.9" fill="#f5892a" opacity="0.85"/>
<circle cx="102.14" cy="286.84" r="0.9" fill="#f5892a" opacity="0.85"/>
<circle cx="116.91" cy="287.51" r="0.9" fill="#f5892a" opacity="0.85"/>
<circle cx="99.33" cy="286.86" r="0.9" fill="#f5892a" opacity="0.85"/>
<circle cx="103.72" cy="287.64" r="0.9" fill="#f5892a" opacity="0.85"/>
<circle cx="58" cy="287.06" r="0.95" fill="#f5892a" opacity="0.9"/>
<circle cx="70" cy="286.75" r="0.95" fill="#f5892a" opacity="0.9"/>
<circle cx="80" cy="286.52" r="0.95" fill="#f5892a" opacity="0.9"/>
<circle cx="130" cy="286.9" r="0.95" fill="#f5892a" opacity="0.9"/>
<defs><linearGradient id="cg12" x1="0" y1="0" x2="1" y2="0"><stop offset="0" stop-color="#8ab4de" stop-opacity="0.15"/><stop offset="0.22" stop-color="#8ab4de" stop-opacity="0.7"/><stop offset="0.47" stop-color="#8ab4de" stop-opacity="0.95"/><stop offset="0.72" stop-color="#8ab4de" stop-opacity="0.7"/><stop offset="1" stop-color="#8ab4de" stop-opacity="0.15"/></linearGradient></defs>
<path d="M53 292.3 Q100 290.1 153 292.3 Q100 294.5 53 292.3Z" fill="url(#cg12)"/>
<rect x="53" y="292" width="100" height="0.6" fill="url(#cg12)"/>
<circle cx="109.75" cy="292.58" r="0.9" fill="#2c72b0" opacity="0.85"/>
<circle cx="91.21" cy="292.57" r="0.9" fill="#2c72b0" opacity="0.85"/>
<circle cx="104.83" cy="292.98" r="0.9" fill="#2c72b0" opacity="0.85"/>
<circle cx="100.5" cy="292.04" r="0.9" fill="#2c72b0" opacity="0.85"/>
<circle cx="103.39" cy="292.17" r="0.9" fill="#2c72b0" opacity="0.85"/>
<circle cx="96.45" cy="292.78" r="0.9" fill="#2c72b0" opacity="0.85"/>
<circle cx="92.13" cy="292.68" r="0.9" fill="#2c72b0" opacity="0.85"/>
<circle cx="91.19" cy="293.05" r="0.9" fill="#2c72b0" opacity="0.85"/>
<circle cx="99.73" cy="292" r="0.9" fill="#2c72b0" opacity="0.85"/>
<circle cx="104.01" cy="291.85" r="0.9" fill="#2c72b0" opacity="0.85"/>
<circle cx="91.48" cy="292.72" r="0.9" fill="#2c72b0" opacity="0.85"/>
<circle cx="91.08" cy="292.29" r="0.9" fill="#2c72b0" opacity="0.85"/>
<circle cx="130.76" cy="291.8" r="0.9" fill="#2c72b0" opacity="0.85"/>
<circle cx="102.25" cy="292.56" r="0.9" fill="#2c72b0" opacity="0.85"/>
<circle cx="113.32" cy="293.02" r="0.9" fill="#2c72b0" opacity="0.85"/>
<circle cx="107.88" cy="291.84" r="0.9" fill="#2c72b0" opacity="0.85"/>
<circle cx="110.34" cy="293.06" r="0.9" fill="#2c72b0" opacity="0.85"/>
<circle cx="102.66" cy="291.6" r="0.9" fill="#2c72b0" opacity="0.85"/>
<circle cx="103.3" cy="292.13" r="0.9" fill="#2c72b0" opacity="0.85"/>
<circle cx="121.63" cy="292.67" r="0.9" fill="#2c72b0" opacity="0.85"/>
<circle cx="83.9" cy="293.1" r="0.9" fill="#2c72b0" opacity="0.85"/>
<circle cx="110.56" cy="291.8" r="0.9" fill="#2c72b0" opacity="0.85"/>
<circle cx="95.16" cy="293" r="0.9" fill="#2c72b0" opacity="0.85"/>
<circle cx="99.92" cy="292.56" r="0.9" fill="#2c72b0" opacity="0.85"/>
<circle cx="96.69" cy="292.11" r="0.9" fill="#2c72b0" opacity="0.85"/>
<circle cx="91.81" cy="291.77" r="0.9" fill="#2c72b0" opacity="0.85"/>
<circle cx="108.31" cy="291.5" r="0.9" fill="#2c72b0" opacity="0.85"/>
<circle cx="97.75" cy="293.03" r="0.9" fill="#2c72b0" opacity="0.85"/>
<circle cx="111.89" cy="291.7" r="0.9" fill="#2c72b0" opacity="0.85"/>
<circle cx="108.64" cy="292.07" r="0.9" fill="#2c72b0" opacity="0.85"/>
<circle cx="98.03" cy="292.81" r="0.9" fill="#2c72b0" opacity="0.85"/>
<circle cx="106.05" cy="291.58" r="0.9" fill="#2c72b0" opacity="0.85"/>
<circle cx="87.56" cy="292.26" r="0.9" fill="#2c72b0" opacity="0.85"/>
<circle cx="79.66" cy="291.81" r="0.9" fill="#2c72b0" opacity="0.85"/>
<circle cx="120.93" cy="292.08" r="0.9" fill="#2c72b0" opacity="0.85"/>
<circle cx="102.57" cy="292.16" r="0.9" fill="#2c72b0" opacity="0.85"/>
<circle cx="98.06" cy="292.8" r="0.9" fill="#2c72b0" opacity="0.85"/>
<circle cx="100.39" cy="291.56" r="0.9" fill="#2c72b0" opacity="0.85"/>
<circle cx="96.28" cy="291.6" r="0.9" fill="#2c72b0" opacity="0.85"/>
<circle cx="108.78" cy="292.7" r="0.9" fill="#2c72b0" opacity="0.85"/>
<circle cx="95.18" cy="292.94" r="0.9" fill="#2c72b0" opacity="0.85"/>
<circle cx="94.5" cy="293.03" r="0.9" fill="#2c72b0" opacity="0.85"/>
<circle cx="108.78" cy="292.49" r="0.9" fill="#2c72b0" opacity="0.85"/>
<circle cx="98.42" cy="292.01" r="0.9" fill="#2c72b0" opacity="0.85"/>
<circle cx="120.58" cy="291.94" r="0.9" fill="#2c72b0" opacity="0.85"/>
<circle cx="121.82" cy="292.97" r="0.9" fill="#2c72b0" opacity="0.85"/>
<circle cx="100.52" cy="292.51" r="0.9" fill="#2c72b0" opacity="0.85"/>
<circle cx="102.7" cy="291.87" r="0.9" fill="#2c72b0" opacity="0.85"/>
<circle cx="98.99" cy="292.26" r="0.9" fill="#2c72b0" opacity="0.85"/>
<circle cx="131.07" cy="292.12" r="0.9" fill="#2c72b0" opacity="0.85"/>
<circle cx="91.35" cy="291.9" r="0.9" fill="#2c72b0" opacity="0.85"/>
<circle cx="86.28" cy="292.98" r="0.9" fill="#2c72b0" opacity="0.85"/>
<circle cx="106.46" cy="291.79" r="0.9" fill="#2c72b0" opacity="0.85"/>
<circle cx="106.91" cy="292.82" r="0.9" fill="#2c72b0" opacity="0.85"/>
<circle cx="79.86" cy="292.74" r="0.9" fill="#2c72b0" opacity="0.85"/>
<circle cx="90.95" cy="292.01" r="0.9" fill="#2c72b0" opacity="0.85"/>
<circle cx="92.77" cy="292.08" r="0.9" fill="#2c72b0" opacity="0.85"/>
<circle cx="101.06" cy="291.82" r="0.9" fill="#2c72b0" opacity="0.85"/>
<circle cx="94.83" cy="292.7" r="0.9" fill="#2c72b0" opacity="0.85"/>
<circle cx="100.08" cy="291.55" r="0.9" fill="#2c72b0" opacity="0.85"/>
<circle cx="55" cy="292.34" r="0.95" fill="#2c72b0" opacity="0.9"/>
<circle cx="62" cy="292.16" r="0.95" fill="#2c72b0" opacity="0.9"/>
<circle cx="152" cy="292.68" r="0.95" fill="#2c72b0" opacity="0.9"/>
<defs><linearGradient id="cg13" x1="0" y1="0" x2="1" y2="0"><stop offset="0" stop-color="#8ed6e6" stop-opacity="0.15"/><stop offset="0.32" stop-color="#8ed6e6" stop-opacity="0.7"/><stop offset="0.57" stop-color="#8ed6e6" stop-opacity="0.95"/><stop offset="0.82" stop-color="#8ed6e6" stop-opacity="0.7"/><stop offset="1" stop-color="#8ed6e6" stop-opacity="0.15"/></linearGradient></defs>
<path d="M59 297.7 Q105 295.7 139 297.7 Q105 299.7 59 297.7Z" fill="url(#cg13)"/>
<rect x="59" y="297.4" width="80" height="0.6" fill="url(#cg13)"/>
<circle cx="108.66" cy="298.31" r="0.9" fill="#22aec8" opacity="0.85"/>
<circle cx="112.82" cy="297.03" r="0.9" fill="#22aec8" opacity="0.85"/>
<circle cx="104.4" cy="297.05" r="0.9" fill="#22aec8" opacity="0.85"/>
<circle cx="89.27" cy="297.62" r="0.9" fill="#22aec8" opacity="0.85"/>
<circle cx="105.15" cy="297.27" r="0.9" fill="#22aec8" opacity="0.85"/>
<circle cx="92.94" cy="297.98" r="0.9" fill="#22aec8" opacity="0.85"/>
<circle cx="111.95" cy="298.1" r="0.9" fill="#22aec8" opacity="0.85"/>
<circle cx="113.46" cy="297.09" r="0.9" fill="#22aec8" opacity="0.85"/>
<circle cx="92.88" cy="298.25" r="0.9" fill="#22aec8" opacity="0.85"/>
<circle cx="101.49" cy="297.5" r="0.9" fill="#22aec8" opacity="0.85"/>
<circle cx="117.45" cy="298.08" r="0.9" fill="#22aec8" opacity="0.85"/>
<circle cx="107.37" cy="297.29" r="0.9" fill="#22aec8" opacity="0.85"/>
<circle cx="112.16" cy="297.15" r="0.9" fill="#22aec8" opacity="0.85"/>
<circle cx="114.81" cy="297.42" r="0.9" fill="#22aec8" opacity="0.85"/>
<circle cx="96.26" cy="297.53" r="0.9" fill="#22aec8" opacity="0.85"/>
<circle cx="116.89" cy="297.27" r="0.9" fill="#22aec8" opacity="0.85"/>
<circle cx="104.44" cy="298.19" r="0.9" fill="#22aec8" opacity="0.85"/>
<circle cx="87.49" cy="297.06" r="0.9" fill="#22aec8" opacity="0.85"/>
<circle cx="79.81" cy="297.66" r="0.9" fill="#22aec8" opacity="0.85"/>
<circle cx="113.06" cy="298.36" r="0.9" fill="#22aec8" opacity="0.85"/>
<circle cx="87.62" cy="296.96" r="0.9" fill="#22aec8" opacity="0.85"/>
<circle cx="103.63" cy="297.2" r="0.9" fill="#22aec8" opacity="0.85"/>
<circle cx="109.85" cy="298.46" r="0.9" fill="#22aec8" opacity="0.85"/>
<circle cx="85.01" cy="297.5" r="0.9" fill="#22aec8" opacity="0.85"/>
<circle cx="93.48" cy="298.29" r="0.9" fill="#22aec8" opacity="0.85"/>
<circle cx="97.63" cy="298.14" r="0.9" fill="#22aec8" opacity="0.85"/>
<circle cx="107.44" cy="298.41" r="0.9" fill="#22aec8" opacity="0.85"/>
<circle cx="115.6" cy="297.89" r="0.9" fill="#22aec8" opacity="0.85"/>
<circle cx="113.31" cy="297.25" r="0.9" fill="#22aec8" opacity="0.85"/>
<circle cx="101.25" cy="297.23" r="0.9" fill="#22aec8" opacity="0.85"/>
<circle cx="109.06" cy="297.31" r="0.9" fill="#22aec8" opacity="0.85"/>
<circle cx="93.22" cy="297.23" r="0.9" fill="#22aec8" opacity="0.85"/>
<circle cx="96.51" cy="296.92" r="0.9" fill="#22aec8" opacity="0.85"/>
<circle cx="97.97" cy="297.2" r="0.9" fill="#22aec8" opacity="0.85"/>
<circle cx="118.32" cy="297.4" r="0.9" fill="#22aec8" opacity="0.85"/>
<circle cx="64" cy="297.46" r="0.95" fill="#22aec8" opacity="0.9"/>
<defs><linearGradient id="cg14" x1="0" y1="0" x2="1" y2="0"><stop offset="0" stop-color="#d2d274" stop-opacity="0.15"/><stop offset="0.2" stop-color="#d2d274" stop-opacity="0.7"/><stop offset="0.45" stop-color="#d2d274" stop-opacity="0.95"/><stop offset="0.7" stop-color="#d2d274" stop-opacity="0.7"/><stop offset="1" stop-color="#d2d274" stop-opacity="0.15"/></linearGradient></defs>
<path d="M10 303.1 Q70 299.5 142 303.1 Q70 306.7 10 303.1Z" fill="url(#cg14)"/>
<rect x="10" y="302.8" width="132" height="0.6" fill="url(#cg14)"/>
<circle cx="48" cy="303.34" r="0.95" fill="#b5b52a" opacity="0.9"/>
<circle cx="104" cy="303.14" r="0.95" fill="#b5b52a" opacity="0.9"/>
<circle cx="110" cy="302.75" r="0.95" fill="#b5b52a" opacity="0.9"/>
<defs><linearGradient id="cg15" x1="0" y1="0" x2="1" y2="0"><stop offset="0" stop-color="#b4b4b4" stop-opacity="0.15"/><stop offset="0.44" stop-color="#b4b4b4" stop-opacity="0.7"/><stop offset="0.69" stop-color="#b4b4b4" stop-opacity="0.95"/><stop offset="0.94" stop-color="#b4b4b4" stop-opacity="0.7"/><stop offset="1" stop-color="#b4b4b4" stop-opacity="0.15"/></linearGradient></defs>
<path d="M31.5 308.5 Q108 306.5 142 308.5 Q108 310.5 31.5 308.5Z" fill="url(#cg15)"/>
<rect x="31.5" y="308.2" width="110.5" height="0.6" fill="url(#cg15)"/>
<circle cx="117.68" cy="308.58" r="0.9" fill="#7a7a7a" opacity="0.85"/>
<circle cx="115.16" cy="308.72" r="0.9" fill="#7a7a7a" opacity="0.85"/>
<circle cx="114.03" cy="308.81" r="0.9" fill="#7a7a7a" opacity="0.85"/>
<circle cx="111.89" cy="308.36" r="0.9" fill="#7a7a7a" opacity="0.85"/>
<circle cx="105.86" cy="309.23" r="0.9" fill="#7a7a7a" opacity="0.85"/>
<circle cx="118.06" cy="308.2" r="0.9" fill="#7a7a7a" opacity="0.85"/>
<circle cx="97.69" cy="308.37" r="0.9" fill="#7a7a7a" opacity="0.85"/>
<circle cx="103.42" cy="309.08" r="0.9" fill="#7a7a7a" opacity="0.85"/>
<circle cx="119.41" cy="308.02" r="0.9" fill="#7a7a7a" opacity="0.85"/>
<circle cx="107.76" cy="308.86" r="0.9" fill="#7a7a7a" opacity="0.85"/>
<circle cx="108.37" cy="309.14" r="0.9" fill="#7a7a7a" opacity="0.85"/>
<circle cx="109.25" cy="308.38" r="0.9" fill="#7a7a7a" opacity="0.85"/>
<circle cx="113.24" cy="309.11" r="0.9" fill="#7a7a7a" opacity="0.85"/>
<circle cx="96.93" cy="308.44" r="0.9" fill="#7a7a7a" opacity="0.85"/>
<circle cx="109.08" cy="308.58" r="0.9" fill="#7a7a7a" opacity="0.85"/>
<circle cx="109.77" cy="308.73" r="0.9" fill="#7a7a7a" opacity="0.85"/>
<circle cx="112.37" cy="308.7" r="0.9" fill="#7a7a7a" opacity="0.85"/>
<circle cx="105.22" cy="308.29" r="0.9" fill="#7a7a7a" opacity="0.85"/>
<circle cx="101.26" cy="308.15" r="0.9" fill="#7a7a7a" opacity="0.85"/>
<circle cx="107.81" cy="308.53" r="0.9" fill="#7a7a7a" opacity="0.85"/>
<circle cx="113.14" cy="308.48" r="0.9" fill="#7a7a7a" opacity="0.85"/>
<circle cx="105.4" cy="308.99" r="0.9" fill="#7a7a7a" opacity="0.85"/>
<circle cx="115.79" cy="307.9" r="0.9" fill="#7a7a7a" opacity="0.85"/>
<circle cx="106.36" cy="309.21" r="0.9" fill="#7a7a7a" opacity="0.85"/>
<circle cx="121.62" cy="307.79" r="0.9" fill="#7a7a7a" opacity="0.85"/>
<circle cx="105.89" cy="309.18" r="0.9" fill="#7a7a7a" opacity="0.85"/>
<circle cx="88.19" cy="308.69" r="0.9" fill="#7a7a7a" opacity="0.85"/>
<circle cx="124.83" cy="309.02" r="0.9" fill="#7a7a7a" opacity="0.85"/>
<circle cx="119.26" cy="308.06" r="0.9" fill="#7a7a7a" opacity="0.85"/>
<circle cx="125.81" cy="308.35" r="0.9" fill="#7a7a7a" opacity="0.85"/>
<circle cx="120.84" cy="307.99" r="0.9" fill="#7a7a7a" opacity="0.85"/>
<circle cx="89.45" cy="308.05" r="0.9" fill="#7a7a7a" opacity="0.85"/>
<circle cx="96.29" cy="308.31" r="0.9" fill="#7a7a7a" opacity="0.85"/>
<circle cx="116.54" cy="307.9" r="0.9" fill="#7a7a7a" opacity="0.85"/>
<circle cx="108.36" cy="309.14" r="0.9" fill="#7a7a7a" opacity="0.85"/>
<circle cx="127.28" cy="307.77" r="0.9" fill="#7a7a7a" opacity="0.85"/>
<circle cx="89.33" cy="307.76" r="0.9" fill="#7a7a7a" opacity="0.85"/>
<circle cx="100.29" cy="309.04" r="0.9" fill="#7a7a7a" opacity="0.85"/>
<circle cx="119.99" cy="308.58" r="0.9" fill="#7a7a7a" opacity="0.85"/>
<circle cx="118.94" cy="308.7" r="0.9" fill="#7a7a7a" opacity="0.85"/>
<circle cx="103.67" cy="308.63" r="0.9" fill="#7a7a7a" opacity="0.85"/>
<circle cx="119.75" cy="308.38" r="0.9" fill="#7a7a7a" opacity="0.85"/>
<circle cx="100.92" cy="308.4" r="0.9" fill="#7a7a7a" opacity="0.85"/>
<circle cx="97.03" cy="307.74" r="0.9" fill="#7a7a7a" opacity="0.85"/>
<circle cx="97.79" cy="308.08" r="0.9" fill="#7a7a7a" opacity="0.85"/>
<circle cx="98.55" cy="308.92" r="0.9" fill="#7a7a7a" opacity="0.85"/>
<circle cx="110.49" cy="307.99" r="0.9" fill="#7a7a7a" opacity="0.85"/>
<circle cx="94.95" cy="308.46" r="0.9" fill="#7a7a7a" opacity="0.85"/>
<circle cx="112.92" cy="308.39" r="0.9" fill="#7a7a7a" opacity="0.85"/>
<circle cx="111.92" cy="307.85" r="0.9" fill="#7a7a7a" opacity="0.85"/>
<circle cx="36" cy="308.45" r="0.95" fill="#7a7a7a" opacity="0.9"/>
<circle cx="41" cy="308.51" r="0.95" fill="#7a7a7a" opacity="0.9"/>
<circle cx="50" cy="308.13" r="0.95" fill="#7a7a7a" opacity="0.9"/>
<defs><linearGradient id="cg16" x1="0" y1="0" x2="1" y2="0"><stop offset="0" stop-color="#ee9090" stop-opacity="0.15"/><stop offset="0.33" stop-color="#ee9090" stop-opacity="0.7"/><stop offset="0.58" stop-color="#ee9090" stop-opacity="0.95"/><stop offset="0.83" stop-color="#ee9090" stop-opacity="0.7"/><stop offset="1" stop-color="#ee9090" stop-opacity="0.15"/></linearGradient></defs>
<path d="M56 313.9 Q104 311.7 139 313.9 Q104 316.1 56 313.9Z" fill="url(#cg16)"/>
<rect x="56" y="313.6" width="83" height="0.6" fill="url(#cg16)"/>
<circle cx="101.02" cy="314.27" r="0.9" fill="#d62a2a" opacity="0.85"/>
<circle cx="100.55" cy="314.34" r="0.9" fill="#d62a2a" opacity="0.85"/>
<circle cx="100.34" cy="313.91" r="0.9" fill="#d62a2a" opacity="0.85"/>
<circle cx="103.74" cy="313.7" r="0.9" fill="#d62a2a" opacity="0.85"/>
<circle cx="109.67" cy="314.47" r="0.9" fill="#d62a2a" opacity="0.85"/>
<circle cx="102.19" cy="314.69" r="0.9" fill="#d62a2a" opacity="0.85"/>
<circle cx="101.73" cy="313.41" r="0.9" fill="#d62a2a" opacity="0.85"/>
<circle cx="83.92" cy="314.67" r="0.9" fill="#d62a2a" opacity="0.85"/>
<circle cx="76.48" cy="314.57" r="0.9" fill="#d62a2a" opacity="0.85"/>
<circle cx="105.41" cy="313.36" r="0.9" fill="#d62a2a" opacity="0.85"/>
<circle cx="110.07" cy="313.2" r="0.9" fill="#d62a2a" opacity="0.85"/>
<circle cx="79.33" cy="313.66" r="0.9" fill="#d62a2a" opacity="0.85"/>
<circle cx="104.25" cy="314.53" r="0.9" fill="#d62a2a" opacity="0.85"/>
<circle cx="97.54" cy="313.54" r="0.9" fill="#d62a2a" opacity="0.85"/>
<circle cx="106.45" cy="313.9" r="0.9" fill="#d62a2a" opacity="0.85"/>
<circle cx="98.39" cy="314.57" r="0.9" fill="#d62a2a" opacity="0.85"/>
<circle cx="106.22" cy="313.91" r="0.9" fill="#d62a2a" opacity="0.85"/>
<circle cx="112.3" cy="313.61" r="0.9" fill="#d62a2a" opacity="0.85"/>
<circle cx="110.79" cy="313.36" r="0.9" fill="#d62a2a" opacity="0.85"/>
<circle cx="105.6" cy="314.6" r="0.9" fill="#d62a2a" opacity="0.85"/>
<circle cx="94.01" cy="313.37" r="0.9" fill="#d62a2a" opacity="0.85"/>
<circle cx="82.87" cy="314.36" r="0.9" fill="#d62a2a" opacity="0.85"/>
<circle cx="114.15" cy="314.12" r="0.9" fill="#d62a2a" opacity="0.85"/>
<circle cx="112.95" cy="313.68" r="0.9" fill="#d62a2a" opacity="0.85"/>
<circle cx="113.77" cy="314.03" r="0.9" fill="#d62a2a" opacity="0.85"/>
<circle cx="93.97" cy="314.51" r="0.9" fill="#d62a2a" opacity="0.85"/>
<circle cx="131.41" cy="314.11" r="0.9" fill="#d62a2a" opacity="0.85"/>
<circle cx="125.16" cy="313.73" r="0.9" fill="#d62a2a" opacity="0.85"/>
<circle cx="106.55" cy="314.68" r="0.9" fill="#d62a2a" opacity="0.85"/>
<circle cx="95.76" cy="314.02" r="0.9" fill="#d62a2a" opacity="0.85"/>
<circle cx="92.05" cy="313.81" r="0.9" fill="#d62a2a" opacity="0.85"/>
<circle cx="118.4" cy="313.38" r="0.9" fill="#d62a2a" opacity="0.85"/>
<circle cx="103.86" cy="314.41" r="0.9" fill="#d62a2a" opacity="0.85"/>
<circle cx="100.54" cy="313.51" r="0.9" fill="#d62a2a" opacity="0.85"/>
<circle cx="83.71" cy="314.04" r="0.9" fill="#d62a2a" opacity="0.85"/>
<circle cx="79.71" cy="314.16" r="0.9" fill="#d62a2a" opacity="0.85"/>
<circle cx="103.75" cy="313.15" r="0.9" fill="#d62a2a" opacity="0.85"/>
<circle cx="104.61" cy="313.34" r="0.9" fill="#d62a2a" opacity="0.85"/>
<circle cx="95.27" cy="313.92" r="0.9" fill="#d62a2a" opacity="0.85"/>
<circle cx="96.2" cy="314.53" r="0.9" fill="#d62a2a" opacity="0.85"/>
<circle cx="109.33" cy="314.14" r="0.9" fill="#d62a2a" opacity="0.85"/>
<circle cx="109.83" cy="313.14" r="0.9" fill="#d62a2a" opacity="0.85"/>
<circle cx="114.3" cy="313.27" r="0.9" fill="#d62a2a" opacity="0.85"/>
<circle cx="104.17" cy="313.67" r="0.9" fill="#d62a2a" opacity="0.85"/>
<circle cx="106.34" cy="314.04" r="0.9" fill="#d62a2a" opacity="0.85"/>
<circle cx="62" cy="313.66" r="0.95" fill="#d62a2a" opacity="0.9"/>
<defs><linearGradient id="cg17" x1="0" y1="0" x2="1" y2="0"><stop offset="0" stop-color="#7cc67c" stop-opacity="0.15"/><stop offset="0.27" stop-color="#7cc67c" stop-opacity="0.7"/><stop offset="0.52" stop-color="#7cc67c" stop-opacity="0.95"/><stop offset="0.77" stop-color="#7cc67c" stop-opacity="0.7"/><stop offset="1" stop-color="#7cc67c" stop-opacity="0.15"/></linearGradient></defs>
<path d="M47 319.3 Q102 317.3 153 319.3 Q102 321.3 47 319.3Z" fill="url(#cg17)"/>
<rect x="47" y="319" width="106" height="0.6" fill="url(#cg17)"/>
<circle cx="120.29" cy="319.5" r="0.9" fill="#3a9e3a" opacity="0.85"/>
<circle cx="94.56" cy="320" r="0.9" fill="#3a9e3a" opacity="0.85"/>
<circle cx="103.18" cy="318.89" r="0.9" fill="#3a9e3a" opacity="0.85"/>
<circle cx="105.72" cy="319.52" r="0.9" fill="#3a9e3a" opacity="0.85"/>
<circle cx="107.07" cy="319.89" r="0.9" fill="#3a9e3a" opacity="0.85"/>
<circle cx="104.85" cy="318.92" r="0.9" fill="#3a9e3a" opacity="0.85"/>
<circle cx="88.09" cy="318.52" r="0.9" fill="#3a9e3a" opacity="0.85"/>
<circle cx="90.96" cy="319.06" r="0.9" fill="#3a9e3a" opacity="0.85"/>
<circle cx="87.78" cy="319.53" r="0.9" fill="#3a9e3a" opacity="0.85"/>
<circle cx="71.1" cy="319.67" r="0.9" fill="#3a9e3a" opacity="0.85"/>
<circle cx="113.4" cy="318.9" r="0.9" fill="#3a9e3a" opacity="0.85"/>
<circle cx="105.45" cy="319.35" r="0.9" fill="#3a9e3a" opacity="0.85"/>
<circle cx="99.61" cy="319.15" r="0.9" fill="#3a9e3a" opacity="0.85"/>
<circle cx="102.38" cy="319.75" r="0.9" fill="#3a9e3a" opacity="0.85"/>
<circle cx="106.84" cy="318.52" r="0.9" fill="#3a9e3a" opacity="0.85"/>
<circle cx="70.39" cy="318.73" r="0.9" fill="#3a9e3a" opacity="0.85"/>
<circle cx="91.53" cy="318.82" r="0.9" fill="#3a9e3a" opacity="0.85"/>
<circle cx="89.04" cy="319.53" r="0.9" fill="#3a9e3a" opacity="0.85"/>
<circle cx="91.54" cy="319.8" r="0.9" fill="#3a9e3a" opacity="0.85"/>
<circle cx="107.49" cy="318.98" r="0.9" fill="#3a9e3a" opacity="0.85"/>
<circle cx="112.72" cy="318.58" r="0.9" fill="#3a9e3a" opacity="0.85"/>
<circle cx="120.79" cy="319.64" r="0.9" fill="#3a9e3a" opacity="0.85"/>
<circle cx="86.32" cy="318.51" r="0.9" fill="#3a9e3a" opacity="0.85"/>
<circle cx="114.94" cy="319.24" r="0.9" fill="#3a9e3a" opacity="0.85"/>
<circle cx="82.81" cy="319.69" r="0.9" fill="#3a9e3a" opacity="0.85"/>
<circle cx="92.42" cy="318.67" r="0.9" fill="#3a9e3a" opacity="0.85"/>
<circle cx="104.95" cy="318.87" r="0.9" fill="#3a9e3a" opacity="0.85"/>
<circle cx="114.28" cy="319.7" r="0.9" fill="#3a9e3a" opacity="0.85"/>
<circle cx="105.06" cy="319.61" r="0.9" fill="#3a9e3a" opacity="0.85"/>
<circle cx="114.45" cy="318.93" r="0.9" fill="#3a9e3a" opacity="0.85"/>
<circle cx="83.76" cy="319.39" r="0.9" fill="#3a9e3a" opacity="0.85"/>
<circle cx="79.29" cy="319.34" r="0.9" fill="#3a9e3a" opacity="0.85"/>
<circle cx="111.65" cy="318.92" r="0.9" fill="#3a9e3a" opacity="0.85"/>
<circle cx="79.23" cy="318.85" r="0.9" fill="#3a9e3a" opacity="0.85"/>
<circle cx="73.76" cy="319.91" r="0.9" fill="#3a9e3a" opacity="0.85"/>
<circle cx="112.82" cy="318.88" r="0.9" fill="#3a9e3a" opacity="0.85"/>
<circle cx="103.04" cy="319.69" r="0.9" fill="#3a9e3a" opacity="0.85"/>
<circle cx="123.8" cy="319.02" r="0.9" fill="#3a9e3a" opacity="0.85"/>
<circle cx="94.11" cy="319.91" r="0.9" fill="#3a9e3a" opacity="0.85"/>
<circle cx="97.1" cy="319.95" r="0.9" fill="#3a9e3a" opacity="0.85"/>
<circle cx="111.12" cy="319.51" r="0.9" fill="#3a9e3a" opacity="0.85"/>
<circle cx="94.72" cy="320.07" r="0.9" fill="#3a9e3a" opacity="0.85"/>
<circle cx="82.61" cy="319.25" r="0.9" fill="#3a9e3a" opacity="0.85"/>
<circle cx="113.57" cy="319.87" r="0.9" fill="#3a9e3a" opacity="0.85"/>
<circle cx="83.7" cy="319.2" r="0.9" fill="#3a9e3a" opacity="0.85"/>
<circle cx="99.11" cy="318.99" r="0.9" fill="#3a9e3a" opacity="0.85"/>
<circle cx="84.03" cy="318.84" r="0.9" fill="#3a9e3a" opacity="0.85"/>
<circle cx="97.96" cy="319.96" r="0.9" fill="#3a9e3a" opacity="0.85"/>
<circle cx="98.08" cy="318.73" r="0.9" fill="#3a9e3a" opacity="0.85"/>
<circle cx="108.56" cy="319.99" r="0.9" fill="#3a9e3a" opacity="0.85"/>
<circle cx="103.12" cy="319.05" r="0.9" fill="#3a9e3a" opacity="0.85"/>
<circle cx="104.12" cy="318.57" r="0.9" fill="#3a9e3a" opacity="0.85"/>
<circle cx="104.63" cy="319.61" r="0.9" fill="#3a9e3a" opacity="0.85"/>
<circle cx="87.58" cy="319.68" r="0.9" fill="#3a9e3a" opacity="0.85"/>
<circle cx="85.87" cy="318.61" r="0.9" fill="#3a9e3a" opacity="0.85"/>
<circle cx="90.79" cy="319.81" r="0.9" fill="#3a9e3a" opacity="0.85"/>
<circle cx="94.84" cy="319.81" r="0.9" fill="#3a9e3a" opacity="0.85"/>
<circle cx="106.01" cy="319.89" r="0.9" fill="#3a9e3a" opacity="0.85"/>
<circle cx="98.74" cy="319.96" r="0.9" fill="#3a9e3a" opacity="0.85"/>
<circle cx="108.26" cy="318.83" r="0.9" fill="#3a9e3a" opacity="0.85"/>
<circle cx="151" cy="318.99" r="0.95" fill="#3a9e3a" opacity="0.9"/>
<defs><linearGradient id="cg18" x1="0" y1="0" x2="1" y2="0"><stop offset="0" stop-color="#fbb27a" stop-opacity="0.15"/><stop offset="0.44" stop-color="#fbb27a" stop-opacity="0.7"/><stop offset="0.69" stop-color="#fbb27a" stop-opacity="0.95"/><stop offset="0.94" stop-color="#fbb27a" stop-opacity="0.7"/><stop offset="1" stop-color="#fbb27a" stop-opacity="0.15"/></linearGradient></defs>
<path d="M19 324.7 Q100 322.7 136 324.7 Q100 326.7 19 324.7Z" fill="url(#cg18)"/>
<rect x="19" y="324.4" width="117" height="0.6" fill="url(#cg18)"/>
<circle cx="97.88" cy="323.96" r="0.9" fill="#f5892a" opacity="0.85"/>
<circle cx="113.69" cy="324.91" r="0.9" fill="#f5892a" opacity="0.85"/>
<circle cx="80.57" cy="325.22" r="0.9" fill="#f5892a" opacity="0.85"/>
<circle cx="92.75" cy="324.06" r="0.9" fill="#f5892a" opacity="0.85"/>
<circle cx="92.13" cy="324.06" r="0.9" fill="#f5892a" opacity="0.85"/>
<circle cx="100.41" cy="324.41" r="0.9" fill="#f5892a" opacity="0.85"/>
<circle cx="91.2" cy="324.58" r="0.9" fill="#f5892a" opacity="0.85"/>
<circle cx="109.93" cy="324.35" r="0.9" fill="#f5892a" opacity="0.85"/>
<circle cx="101.31" cy="325.05" r="0.9" fill="#f5892a" opacity="0.85"/>
<circle cx="92.28" cy="325.44" r="0.9" fill="#f5892a" opacity="0.85"/>
<circle cx="108.43" cy="324.71" r="0.9" fill="#f5892a" opacity="0.85"/>
<circle cx="110.73" cy="323.95" r="0.9" fill="#f5892a" opacity="0.85"/>
<circle cx="85.5" cy="324.56" r="0.9" fill="#f5892a" opacity="0.85"/>
<circle cx="79.37" cy="324.45" r="0.9" fill="#f5892a" opacity="0.85"/>
<circle cx="108.7" cy="325.03" r="0.9" fill="#f5892a" opacity="0.85"/>
<circle cx="91.17" cy="325.28" r="0.9" fill="#f5892a" opacity="0.85"/>
<circle cx="97.86" cy="324.05" r="0.9" fill="#f5892a" opacity="0.85"/>
<circle cx="103.37" cy="323.9" r="0.9" fill="#f5892a" opacity="0.85"/>
<circle cx="92.81" cy="324.22" r="0.9" fill="#f5892a" opacity="0.85"/>
<circle cx="102.74" cy="323.91" r="0.9" fill="#f5892a" opacity="0.85"/>
<circle cx="64.22" cy="324.69" r="0.9" fill="#f5892a" opacity="0.85"/>
<circle cx="76.83" cy="324.2" r="0.9" fill="#f5892a" opacity="0.85"/>
<circle cx="101.24" cy="324.69" r="0.9" fill="#f5892a" opacity="0.85"/>
<circle cx="85.92" cy="324.32" r="0.9" fill="#f5892a" opacity="0.85"/>
<circle cx="120.11" cy="325.41" r="0.9" fill="#f5892a" opacity="0.85"/>
<circle cx="98.1" cy="325.02" r="0.9" fill="#f5892a" opacity="0.85"/>
<circle cx="108.84" cy="324.7" r="0.9" fill="#f5892a" opacity="0.85"/>
<circle cx="114.26" cy="324.03" r="0.9" fill="#f5892a" opacity="0.85"/>
<circle cx="111.78" cy="325.16" r="0.9" fill="#f5892a" opacity="0.85"/>
<circle cx="92.55" cy="324.9" r="0.9" fill="#f5892a" opacity="0.85"/>
<circle cx="78.39" cy="324.47" r="0.9" fill="#f5892a" opacity="0.85"/>
<circle cx="89.4" cy="325.32" r="0.9" fill="#f5892a" opacity="0.85"/>
<circle cx="107.57" cy="324.04" r="0.9" fill="#f5892a" opacity="0.85"/>
<circle cx="102.24" cy="324.23" r="0.9" fill="#f5892a" opacity="0.85"/>
<circle cx="98.11" cy="324.32" r="0.9" fill="#f5892a" opacity="0.85"/>
<circle cx="112.47" cy="324.51" r="0.9" fill="#f5892a" opacity="0.85"/>
<circle cx="91.08" cy="325.31" r="0.9" fill="#f5892a" opacity="0.85"/>
<circle cx="101.49" cy="324.75" r="0.9" fill="#f5892a" opacity="0.85"/>
<circle cx="114.37" cy="325.11" r="0.9" fill="#f5892a" opacity="0.85"/>
<circle cx="100.35" cy="324.46" r="0.9" fill="#f5892a" opacity="0.85"/>
<circle cx="81.26" cy="324.42" r="0.9" fill="#f5892a" opacity="0.85"/>
<circle cx="114.02" cy="324.96" r="0.9" fill="#f5892a" opacity="0.85"/>
<circle cx="120.72" cy="325.09" r="0.9" fill="#f5892a" opacity="0.85"/>
<circle cx="106.77" cy="325.14" r="0.9" fill="#f5892a" opacity="0.85"/>
<circle cx="112.23" cy="324.83" r="0.9" fill="#f5892a" opacity="0.85"/>
<circle cx="110.17" cy="325.32" r="0.9" fill="#f5892a" opacity="0.85"/>
<circle cx="110.3" cy="324.28" r="0.9" fill="#f5892a" opacity="0.85"/>
<circle cx="103.95" cy="325.03" r="0.9" fill="#f5892a" opacity="0.85"/>
<circle cx="110.28" cy="325.25" r="0.9" fill="#f5892a" opacity="0.85"/>
<circle cx="104.27" cy="324.3" r="0.9" fill="#f5892a" opacity="0.85"/>
<circle cx="22.3" cy="324.56" r="0.95" fill="#f5892a" opacity="0.9"/>
<defs><linearGradient id="cg19" x1="0" y1="0" x2="1" y2="0"><stop offset="0" stop-color="#eea8d8" stop-opacity="0.15"/><stop offset="0.21" stop-color="#eea8d8" stop-opacity="0.7"/><stop offset="0.46" stop-color="#eea8d8" stop-opacity="0.95"/><stop offset="0.71" stop-color="#eea8d8" stop-opacity="0.7"/><stop offset="1" stop-color="#eea8d8" stop-opacity="0.15"/></linearGradient></defs>
<path d="M75 330.1 Q103 327.3 136 330.1 Q103 332.9 75 330.1Z" fill="url(#cg19)"/>
<rect x="75" y="329.8" width="61" height="0.6" fill="url(#cg19)"/>
<circle cx="106.37" cy="330.14" r="0.9" fill="#df6cbf" opacity="0.85"/>
<circle cx="106.31" cy="329.6" r="0.9" fill="#df6cbf" opacity="0.85"/>
<circle cx="108.29" cy="330.86" r="0.9" fill="#df6cbf" opacity="0.85"/>
<circle cx="102.57" cy="330.84" r="0.9" fill="#df6cbf" opacity="0.85"/>
<circle cx="99.79" cy="329.46" r="0.9" fill="#df6cbf" opacity="0.85"/>
<circle cx="87.98" cy="330.57" r="0.9" fill="#df6cbf" opacity="0.85"/>
<circle cx="116.37" cy="330.47" r="0.9" fill="#df6cbf" opacity="0.85"/>
<circle cx="98.76" cy="330.32" r="0.9" fill="#df6cbf" opacity="0.85"/>
<circle cx="104.84" cy="329.47" r="0.9" fill="#df6cbf" opacity="0.85"/>
<circle cx="104.88" cy="329.35" r="0.9" fill="#df6cbf" opacity="0.85"/>
<circle cx="89.6" cy="335.42" r="0.95" fill="#2c72b0" opacity="0.9"/>
<defs><linearGradient id="cg21" x1="0" y1="0" x2="1" y2="0"><stop offset="0" stop-color="#8ed6e6" stop-opacity="0.15"/><stop offset="0.34" stop-color="#8ed6e6" stop-opacity="0.7"/><stop offset="0.59" stop-color="#8ed6e6" stop-opacity="0.95"/><stop offset="0.84" stop-color="#8ed6e6" stop-opacity="0.7"/><stop offset="1" stop-color="#8ed6e6" stop-opacity="0.15"/></linearGradient></defs>
<path d="M31 340.9 Q100 337.9 147 340.9 Q100 343.9 31 340.9Z" fill="url(#cg21)"/>
<rect x="31" y="340.6" width="116" height="0.6" fill="url(#cg21)"/>
<circle cx="57" cy="341.13" r="0.95" fill="#22aec8" opacity="0.9"/>
<circle cx="84" cy="341.05" r="0.95" fill="#22aec8" opacity="0.9"/>
<circle cx="97" cy="340.9" r="0.95" fill="#22aec8" opacity="0.9"/>
<circle cx="119" cy="341.01" r="0.95" fill="#22aec8" opacity="0.9"/>
<defs><linearGradient id="cg22" x1="0" y1="0" x2="1" y2="0"><stop offset="0" stop-color="#d2d274" stop-opacity="0.15"/><stop offset="0.24" stop-color="#d2d274" stop-opacity="0.7"/><stop offset="0.49" stop-color="#d2d274" stop-opacity="0.95"/><stop offset="0.74" stop-color="#d2d274" stop-opacity="0.7"/><stop offset="1" stop-color="#d2d274" stop-opacity="0.15"/></linearGradient></defs>
<path d="M70 346.3 Q108 343.3 147 346.3 Q108 349.3 70 346.3Z" fill="url(#cg22)"/>
<rect x="70" y="346" width="77" height="0.6" fill="url(#cg22)"/>
<circle cx="118.5" cy="346.24" r="0.9" fill="#b5b52a" opacity="0.85"/>
<circle cx="117.41" cy="346.15" r="0.9" fill="#b5b52a" opacity="0.85"/>
<circle cx="119.64" cy="346.69" r="0.9" fill="#b5b52a" opacity="0.85"/>
<circle cx="117.77" cy="346.42" r="0.9" fill="#b5b52a" opacity="0.85"/>
<circle cx="101.63" cy="346.7" r="0.9" fill="#b5b52a" opacity="0.85"/>
<circle cx="101.03" cy="346.66" r="0.9" fill="#b5b52a" opacity="0.85"/>
<circle cx="111.77" cy="346.91" r="0.9" fill="#b5b52a" opacity="0.85"/>
<circle cx="110.57" cy="346.86" r="0.9" fill="#b5b52a" opacity="0.85"/>
<circle cx="91.12" cy="346.59" r="0.9" fill="#b5b52a" opacity="0.85"/>
<circle cx="100.38" cy="346" r="0.9" fill="#b5b52a" opacity="0.85"/>
<circle cx="98.6" cy="346.51" r="0.9" fill="#b5b52a" opacity="0.85"/>
<circle cx="117.37" cy="346.75" r="0.9" fill="#b5b52a" opacity="0.85"/>
<circle cx="114.62" cy="346.64" r="0.9" fill="#b5b52a" opacity="0.85"/>
<circle cx="102.27" cy="346.18" r="0.9" fill="#b5b52a" opacity="0.85"/>
<circle cx="101.93" cy="346.23" r="0.9" fill="#b5b52a" opacity="0.85"/>
<circle cx="99.85" cy="346.58" r="0.9" fill="#b5b52a" opacity="0.85"/>
<circle cx="100.19" cy="346.99" r="0.9" fill="#b5b52a" opacity="0.85"/>
<circle cx="114.55" cy="346.75" r="0.9" fill="#b5b52a" opacity="0.85"/>
<circle cx="122.64" cy="346.12" r="0.9" fill="#b5b52a" opacity="0.85"/>
<circle cx="78.24" cy="345.56" r="0.9" fill="#b5b52a" opacity="0.85"/>
<circle cx="109.9" cy="346.37" r="0.9" fill="#b5b52a" opacity="0.85"/>
<circle cx="118.2" cy="347" r="0.9" fill="#b5b52a" opacity="0.85"/>
<circle cx="124.26" cy="346.33" r="0.9" fill="#b5b52a" opacity="0.85"/>
<circle cx="119.58" cy="346.37" r="0.9" fill="#b5b52a" opacity="0.85"/>
<circle cx="116.53" cy="346.65" r="0.9" fill="#b5b52a" opacity="0.85"/>
<defs><linearGradient id="cg23" x1="0" y1="0" x2="1" y2="0"><stop offset="0" stop-color="#b4b4b4" stop-opacity="0.15"/><stop offset="0.22" stop-color="#b4b4b4" stop-opacity="0.7"/><stop offset="0.47" stop-color="#b4b4b4" stop-opacity="0.95"/><stop offset="0.72" stop-color="#b4b4b4" stop-opacity="0.7"/><stop offset="1" stop-color="#b4b4b4" stop-opacity="0.15"/></linearGradient></defs>
<path d="M94 351.7 Q118 348.9 145 351.7 Q118 354.5 94 351.7Z" fill="url(#cg23)"/>
<rect x="94" y="351.4" width="51" height="0.6" fill="url(#cg23)"/>
<circle cx="109.46" cy="352.23" r="0.9" fill="#7a7a7a" opacity="0.85"/>
<circle cx="117.34" cy="351.73" r="0.9" fill="#7a7a7a" opacity="0.85"/>
<circle cx="105.67" cy="351.24" r="0.9" fill="#7a7a7a" opacity="0.85"/>
<circle cx="125.79" cy="351.99" r="0.9" fill="#7a7a7a" opacity="0.85"/>
<circle cx="110.06" cy="351.1" r="0.9" fill="#7a7a7a" opacity="0.85"/>
<circle cx="124.36" cy="352.48" r="0.9" fill="#7a7a7a" opacity="0.85"/>
<circle cx="116.74" cy="351.34" r="0.9" fill="#7a7a7a" opacity="0.85"/>
<circle cx="119.61" cy="351.54" r="0.9" fill="#7a7a7a" opacity="0.85"/>
<circle cx="124.23" cy="351.57" r="0.9" fill="#7a7a7a" opacity="0.85"/>
<circle cx="118.52" cy="352.02" r="0.9" fill="#7a7a7a" opacity="0.85"/>
<circle cx="115.18" cy="351.26" r="0.9" fill="#7a7a7a" opacity="0.85"/>
<circle cx="121.77" cy="352.09" r="0.9" fill="#7a7a7a" opacity="0.85"/>
<defs><linearGradient id="cg24" x1="0" y1="0" x2="1" y2="0"><stop offset="0" stop-color="#be968e" stop-opacity="0.15"/><stop offset="0.2" stop-color="#be968e" stop-opacity="0.7"/><stop offset="0.45" stop-color="#be968e" stop-opacity="0.95"/><stop offset="0.7" stop-color="#be968e" stop-opacity="0.7"/><stop offset="1" stop-color="#be968e" stop-opacity="0.15"/></linearGradient></defs>
<path d="M64 357.1 Q106 354.9 157 357.1 Q106 359.3 64 357.1Z" fill="url(#cg24)"/>
<rect x="64" y="356.8" width="93" height="0.6" fill="url(#cg24)"/>
<circle cx="118.51" cy="356.65" r="0.9" fill="#8a5248" opacity="0.85"/>
<circle cx="101.04" cy="357.58" r="0.9" fill="#8a5248" opacity="0.85"/>
<circle cx="100.09" cy="356.51" r="0.9" fill="#8a5248" opacity="0.85"/>
<circle cx="110.77" cy="357.54" r="0.9" fill="#8a5248" opacity="0.85"/>
<circle cx="111.7" cy="357.05" r="0.9" fill="#8a5248" opacity="0.85"/>
<circle cx="91.48" cy="357.2" r="0.9" fill="#8a5248" opacity="0.85"/>
<circle cx="110.26" cy="356.87" r="0.9" fill="#8a5248" opacity="0.85"/>
<circle cx="134.02" cy="357.32" r="0.9" fill="#8a5248" opacity="0.85"/>
<circle cx="114.47" cy="357.05" r="0.9" fill="#8a5248" opacity="0.85"/>
<circle cx="87.61" cy="356.77" r="0.9" fill="#8a5248" opacity="0.85"/>
<circle cx="100.57" cy="357.63" r="0.9" fill="#8a5248" opacity="0.85"/>
<circle cx="104.3" cy="356.87" r="0.9" fill="#8a5248" opacity="0.85"/>
<circle cx="111.13" cy="356.9" r="0.9" fill="#8a5248" opacity="0.85"/>
<circle cx="99" cy="356.71" r="0.9" fill="#8a5248" opacity="0.85"/>
<circle cx="99.69" cy="356.3" r="0.9" fill="#8a5248" opacity="0.85"/>
<circle cx="109.16" cy="357.45" r="0.9" fill="#8a5248" opacity="0.85"/>
<circle cx="104.39" cy="356.78" r="0.9" fill="#8a5248" opacity="0.85"/>
<circle cx="114.09" cy="357.07" r="0.9" fill="#8a5248" opacity="0.85"/>
<circle cx="91.89" cy="357.35" r="0.9" fill="#8a5248" opacity="0.85"/>
<circle cx="112.8" cy="356.88" r="0.9" fill="#8a5248" opacity="0.85"/>
<circle cx="125.47" cy="356.39" r="0.9" fill="#8a5248" opacity="0.85"/>
<circle cx="96.65" cy="357.62" r="0.9" fill="#8a5248" opacity="0.85"/>
<circle cx="121.98" cy="356.52" r="0.9" fill="#8a5248" opacity="0.85"/>
<circle cx="95.26" cy="357.63" r="0.9" fill="#8a5248" opacity="0.85"/>
<circle cx="104.72" cy="356.32" r="0.9" fill="#8a5248" opacity="0.85"/>
<circle cx="104.58" cy="357.82" r="0.9" fill="#8a5248" opacity="0.85"/>
<circle cx="101.35" cy="356.46" r="0.9" fill="#8a5248" opacity="0.85"/>
<circle cx="99.07" cy="356.53" r="0.9" fill="#8a5248" opacity="0.85"/>
<circle cx="107.95" cy="356.85" r="0.9" fill="#8a5248" opacity="0.85"/>
<circle cx="124.94" cy="356.54" r="0.9" fill="#8a5248" opacity="0.85"/>
<circle cx="122.05" cy="356.57" r="0.9" fill="#8a5248" opacity="0.85"/>
<circle cx="94.96" cy="357.73" r="0.9" fill="#8a5248" opacity="0.85"/>
<circle cx="91.1" cy="357.37" r="0.9" fill="#8a5248" opacity="0.85"/>
<circle cx="93.93" cy="357.73" r="0.9" fill="#8a5248" opacity="0.85"/>
<circle cx="110.98" cy="356.62" r="0.9" fill="#8a5248" opacity="0.85"/>
<circle cx="85.58" cy="357.41" r="0.9" fill="#8a5248" opacity="0.85"/>
<circle cx="88.23" cy="357" r="0.9" fill="#8a5248" opacity="0.85"/>
<circle cx="102.52" cy="357.71" r="0.9" fill="#8a5248" opacity="0.85"/>
<circle cx="97.89" cy="356.67" r="0.9" fill="#8a5248" opacity="0.85"/>
<circle cx="103.08" cy="356.52" r="0.9" fill="#8a5248" opacity="0.85"/>
<circle cx="102.19" cy="357.05" r="0.9" fill="#8a5248" opacity="0.85"/>
<circle cx="106.17" cy="356.53" r="0.9" fill="#8a5248" opacity="0.85"/>
<circle cx="93.1" cy="357.16" r="0.9" fill="#8a5248" opacity="0.85"/>
<circle cx="106.7" cy="357.68" r="0.9" fill="#8a5248" opacity="0.85"/>
<circle cx="127.07" cy="357.05" r="0.9" fill="#8a5248" opacity="0.85"/>
<defs><linearGradient id="cg25" x1="0" y1="0" x2="1" y2="0"><stop offset="0" stop-color="#ee9090" stop-opacity="0.15"/><stop offset="0.38" stop-color="#ee9090" stop-opacity="0.7"/><stop offset="0.63" stop-color="#ee9090" stop-opacity="0.95"/><stop offset="0.88" stop-color="#ee9090" stop-opacity="0.7"/><stop offset="1" stop-color="#ee9090" stop-opacity="0.15"/></linearGradient></defs>
<path d="M36 362.5 Q106 360.5 147 362.5 Q106 364.5 36 362.5Z" fill="url(#cg25)"/>
<rect x="36" y="362.2" width="111" height="0.6" fill="url(#cg25)"/>
<circle cx="106.88" cy="362.6" r="0.9" fill="#d62a2a" opacity="0.85"/>
<circle cx="95.3" cy="362.3" r="0.9" fill="#d62a2a" opacity="0.85"/>
<circle cx="87.84" cy="362.37" r="0.9" fill="#d62a2a" opacity="0.85"/>
<circle cx="110.22" cy="362.72" r="0.9" fill="#d62a2a" opacity="0.85"/>
<circle cx="104.93" cy="362.72" r="0.9" fill="#d62a2a" opacity="0.85"/>
<circle cx="120.85" cy="362.79" r="0.9" fill="#d62a2a" opacity="0.85"/>
<circle cx="108.69" cy="363.19" r="0.9" fill="#d62a2a" opacity="0.85"/>
<circle cx="90.93" cy="362.52" r="0.9" fill="#d62a2a" opacity="0.85"/>
<circle cx="133.23" cy="362.48" r="0.9" fill="#d62a2a" opacity="0.85"/>
<circle cx="108.31" cy="362.85" r="0.9" fill="#d62a2a" opacity="0.85"/>
<circle cx="104.27" cy="362.7" r="0.9" fill="#d62a2a" opacity="0.85"/>
<circle cx="94.44" cy="362.29" r="0.9" fill="#d62a2a" opacity="0.85"/>
<circle cx="124.58" cy="362.46" r="0.9" fill="#d62a2a" opacity="0.85"/>
<circle cx="87.37" cy="362.04" r="0.9" fill="#d62a2a" opacity="0.85"/>
<circle cx="102.98" cy="362.4" r="0.9" fill="#d62a2a" opacity="0.85"/>
<circle cx="93.65" cy="363.02" r="0.9" fill="#d62a2a" opacity="0.85"/>
<circle cx="112.55" cy="362.17" r="0.9" fill="#d62a2a" opacity="0.85"/>
<circle cx="111.25" cy="362.51" r="0.9" fill="#d62a2a" opacity="0.85"/>
<circle cx="96.12" cy="362.13" r="0.9" fill="#d62a2a" opacity="0.85"/>
<circle cx="76.15" cy="362.75" r="0.9" fill="#d62a2a" opacity="0.85"/>
<circle cx="104.79" cy="362.97" r="0.9" fill="#d62a2a" opacity="0.85"/>
<circle cx="101.32" cy="362.18" r="0.9" fill="#d62a2a" opacity="0.85"/>
<circle cx="114.39" cy="362.64" r="0.9" fill="#d62a2a" opacity="0.85"/>
<circle cx="93.24" cy="361.76" r="0.9" fill="#d62a2a" opacity="0.85"/>
<circle cx="91.56" cy="362.86" r="0.9" fill="#d62a2a" opacity="0.85"/>
<circle cx="116.4" cy="361.78" r="0.9" fill="#d62a2a" opacity="0.85"/>
<circle cx="96.91" cy="362.18" r="0.9" fill="#d62a2a" opacity="0.85"/>
<circle cx="113.13" cy="363.17" r="0.9" fill="#d62a2a" opacity="0.85"/>
<circle cx="106.28" cy="362.67" r="0.9" fill="#d62a2a" opacity="0.85"/>
<circle cx="95.4" cy="363.16" r="0.9" fill="#d62a2a" opacity="0.85"/>
<circle cx="89.75" cy="362.68" r="0.9" fill="#d62a2a" opacity="0.85"/>
<circle cx="94.52" cy="362.81" r="0.9" fill="#d62a2a" opacity="0.85"/>
<circle cx="95.66" cy="362.65" r="0.9" fill="#d62a2a" opacity="0.85"/>
<circle cx="102.81" cy="362.77" r="0.9" fill="#d62a2a" opacity="0.85"/>
<circle cx="99.1" cy="362.43" r="0.9" fill="#d62a2a" opacity="0.85"/>
<circle cx="106.4" cy="361.99" r="0.9" fill="#d62a2a" opacity="0.85"/>
<circle cx="100.93" cy="361.76" r="0.9" fill="#d62a2a" opacity="0.85"/>
<circle cx="109.74" cy="362.75" r="0.9" fill="#d62a2a" opacity="0.85"/>
<circle cx="81.92" cy="362.29" r="0.9" fill="#d62a2a" opacity="0.85"/>
<circle cx="114.52" cy="362.6" r="0.9" fill="#d62a2a" opacity="0.85"/>
<circle cx="88.65" cy="362.11" r="0.9" fill="#d62a2a" opacity="0.85"/>
<circle cx="102.3" cy="362.21" r="0.9" fill="#d62a2a" opacity="0.85"/>
<circle cx="116.9" cy="362.39" r="0.9" fill="#d62a2a" opacity="0.85"/>
<circle cx="89.88" cy="361.79" r="0.9" fill="#d62a2a" opacity="0.85"/>
<circle cx="86.07" cy="362.61" r="0.9" fill="#d62a2a" opacity="0.85"/>
<circle cx="36.5" cy="362.13" r="0.95" fill="#d62a2a" opacity="0.9"/>
<circle cx="78" cy="362.2" r="0.95" fill="#d62a2a" opacity="0.9"/>
<defs><linearGradient id="cg26" x1="0" y1="0" x2="1" y2="0"><stop offset="0" stop-color="#7cc67c" stop-opacity="0.15"/><stop offset="0.41" stop-color="#7cc67c" stop-opacity="0.7"/><stop offset="0.66" stop-color="#7cc67c" stop-opacity="0.95"/><stop offset="0.91" stop-color="#7cc67c" stop-opacity="0.7"/><stop offset="1" stop-color="#7cc67c" stop-opacity="0.15"/></linearGradient></defs>
<path d="M49 367.9 Q107 365.7 137 367.9 Q107 370.1 49 367.9Z" fill="url(#cg26)"/>
<rect x="49" y="367.6" width="88" height="0.6" fill="url(#cg26)"/>
<circle cx="109.91" cy="368.57" r="0.9" fill="#3a9e3a" opacity="0.85"/>
<circle cx="99.7" cy="367.81" r="0.9" fill="#3a9e3a" opacity="0.85"/>
<circle cx="112.91" cy="368.05" r="0.9" fill="#3a9e3a" opacity="0.85"/>
<circle cx="107.53" cy="368.6" r="0.9" fill="#3a9e3a" opacity="0.85"/>
<circle cx="113.77" cy="367.76" r="0.9" fill="#3a9e3a" opacity="0.85"/>
<circle cx="106.18" cy="367.26" r="0.9" fill="#3a9e3a" opacity="0.85"/>
<circle cx="104.45" cy="367.34" r="0.9" fill="#3a9e3a" opacity="0.85"/>
<circle cx="103.73" cy="367.12" r="0.9" fill="#3a9e3a" opacity="0.85"/>
<circle cx="116.1" cy="367.29" r="0.9" fill="#3a9e3a" opacity="0.85"/>
<circle cx="107.27" cy="368.65" r="0.9" fill="#3a9e3a" opacity="0.85"/>
<circle cx="117.3" cy="367.31" r="0.9" fill="#3a9e3a" opacity="0.85"/>
<circle cx="113.37" cy="367.13" r="0.9" fill="#3a9e3a" opacity="0.85"/>
<circle cx="106.14" cy="368.27" r="0.9" fill="#3a9e3a" opacity="0.85"/>
<circle cx="102.61" cy="367.4" r="0.9" fill="#3a9e3a" opacity="0.85"/>
<circle cx="116.84" cy="368.24" r="0.9" fill="#3a9e3a" opacity="0.85"/>
<circle cx="110.21" cy="368.47" r="0.9" fill="#3a9e3a" opacity="0.85"/>
<circle cx="106.68" cy="368.11" r="0.9" fill="#3a9e3a" opacity="0.85"/>
<circle cx="104.5" cy="368.23" r="0.9" fill="#3a9e3a" opacity="0.85"/>
<circle cx="93.5" cy="367.51" r="0.9" fill="#3a9e3a" opacity="0.85"/>
<circle cx="110.41" cy="368.64" r="0.9" fill="#3a9e3a" opacity="0.85"/>
<circle cx="106.81" cy="367.12" r="0.9" fill="#3a9e3a" opacity="0.85"/>
<circle cx="106.11" cy="368.14" r="0.9" fill="#3a9e3a" opacity="0.85"/>
<circle cx="108" cy="367.6" r="0.9" fill="#3a9e3a" opacity="0.85"/>
<circle cx="104.77" cy="368.27" r="0.9" fill="#3a9e3a" opacity="0.85"/>
<circle cx="113" cy="367.88" r="0.9" fill="#3a9e3a" opacity="0.85"/>
<circle cx="61" cy="367.55" r="0.95" fill="#3a9e3a" opacity="0.9"/>
<circle cx="78" cy="367.79" r="0.95" fill="#3a9e3a" opacity="0.9"/>
<circle cx="125.6" cy="367.96" r="0.95" fill="#3a9e3a" opacity="0.9"/>
<defs><linearGradient id="cg27" x1="0" y1="0" x2="1" y2="0"><stop offset="0" stop-color="#fbb27a" stop-opacity="0.15"/><stop offset="0.33" stop-color="#fbb27a" stop-opacity="0.7"/><stop offset="0.58" stop-color="#fbb27a" stop-opacity="0.95"/><stop offset="0.83" stop-color="#fbb27a" stop-opacity="0.7"/><stop offset="1" stop-color="#fbb27a" stop-opacity="0.15"/></linearGradient></defs>
<path d="M42 373.3 Q99 371.3 140 373.3 Q99 375.3 42 373.3Z" fill="url(#cg27)"/>
<rect x="42" y="373" width="98" height="0.6" fill="url(#cg27)"/>
<circle cx="117.88" cy="373.2" r="0.9" fill="#f5892a" opacity="0.85"/>
<circle cx="96.27" cy="373.78" r="0.9" fill="#f5892a" opacity="0.85"/>
<circle cx="93.48" cy="373.08" r="0.9" fill="#f5892a" opacity="0.85"/>
<circle cx="89.49" cy="373.17" r="0.9" fill="#f5892a" opacity="0.85"/>
<circle cx="86.75" cy="373.12" r="0.9" fill="#f5892a" opacity="0.85"/>
<circle cx="104.98" cy="373.76" r="0.9" fill="#f5892a" opacity="0.85"/>
<circle cx="73.2" cy="373.41" r="0.9" fill="#f5892a" opacity="0.85"/>
<circle cx="97.98" cy="374.06" r="0.9" fill="#f5892a" opacity="0.85"/>
<circle cx="102.75" cy="373.63" r="0.9" fill="#f5892a" opacity="0.85"/>
<circle cx="103.62" cy="373.47" r="0.9" fill="#f5892a" opacity="0.85"/>
<circle cx="90.26" cy="374.06" r="0.9" fill="#f5892a" opacity="0.85"/>
<circle cx="106.29" cy="372.99" r="0.9" fill="#f5892a" opacity="0.85"/>
<circle cx="85.99" cy="373.19" r="0.9" fill="#f5892a" opacity="0.85"/>
<circle cx="107.16" cy="373.6" r="0.9" fill="#f5892a" opacity="0.85"/>
<circle cx="92.09" cy="373.46" r="0.9" fill="#f5892a" opacity="0.85"/>
<circle cx="114.86" cy="372.95" r="0.9" fill="#f5892a" opacity="0.85"/>
<circle cx="86.87" cy="372.5" r="0.9" fill="#f5892a" opacity="0.85"/>
<circle cx="98.06" cy="373.44" r="0.9" fill="#f5892a" opacity="0.85"/>
<circle cx="110.49" cy="373.81" r="0.9" fill="#f5892a" opacity="0.85"/>
<circle cx="101.46" cy="373.83" r="0.9" fill="#f5892a" opacity="0.85"/>
<circle cx="96.9" cy="373.8" r="0.9" fill="#f5892a" opacity="0.85"/>
<circle cx="108.62" cy="372.94" r="0.9" fill="#f5892a" opacity="0.85"/>
<circle cx="88.38" cy="373.86" r="0.9" fill="#f5892a" opacity="0.85"/>
<circle cx="104.86" cy="373.96" r="0.9" fill="#f5892a" opacity="0.85"/>
<circle cx="83.35" cy="373.05" r="0.9" fill="#f5892a" opacity="0.85"/>
<circle cx="111.02" cy="373.78" r="0.9" fill="#f5892a" opacity="0.85"/>
<circle cx="106.12" cy="372.82" r="0.9" fill="#f5892a" opacity="0.85"/>
<circle cx="99.03" cy="372.87" r="0.9" fill="#f5892a" opacity="0.85"/>
<circle cx="73.51" cy="373.47" r="0.9" fill="#f5892a" opacity="0.85"/>
<circle cx="93.6" cy="372.83" r="0.9" fill="#f5892a" opacity="0.85"/>
<circle cx="87.94" cy="372.91" r="0.9" fill="#f5892a" opacity="0.85"/>
<circle cx="99.14" cy="373.24" r="0.9" fill="#f5892a" opacity="0.85"/>
<circle cx="79.52" cy="372.64" r="0.9" fill="#f5892a" opacity="0.85"/>
<circle cx="105.58" cy="372.87" r="0.9" fill="#f5892a" opacity="0.85"/>
<circle cx="81.26" cy="373.43" r="0.9" fill="#f5892a" opacity="0.85"/>
<circle cx="117.25" cy="373.33" r="0.9" fill="#f5892a" opacity="0.85"/>
<circle cx="85.2" cy="373.26" r="0.9" fill="#f5892a" opacity="0.85"/>
<circle cx="92.97" cy="372.81" r="0.9" fill="#f5892a" opacity="0.85"/>
<circle cx="95.21" cy="372.79" r="0.9" fill="#f5892a" opacity="0.85"/>
<circle cx="95.84" cy="373.4" r="0.9" fill="#f5892a" opacity="0.85"/>
<circle cx="89.05" cy="373.14" r="0.9" fill="#f5892a" opacity="0.85"/>
<circle cx="92.79" cy="372.57" r="0.9" fill="#f5892a" opacity="0.85"/>
<circle cx="98.33" cy="374.1" r="0.9" fill="#f5892a" opacity="0.85"/>
<circle cx="95.34" cy="373.51" r="0.9" fill="#f5892a" opacity="0.85"/>
<circle cx="102.71" cy="373.76" r="0.9" fill="#f5892a" opacity="0.85"/>
<defs><linearGradient id="cg28" x1="0" y1="0" x2="1" y2="0"><stop offset="0" stop-color="#8ab4de" stop-opacity="0.15"/><stop offset="0.34" stop-color="#8ab4de" stop-opacity="0.7"/><stop offset="0.59" stop-color="#8ab4de" stop-opacity="0.95"/><stop offset="0.84" stop-color="#8ab4de" stop-opacity="0.7"/><stop offset="1" stop-color="#8ab4de" stop-opacity="0.15"/></linearGradient></defs>
<path d="M33 378.7 Q94 376.7 137 378.7 Q94 380.7 33 378.7Z" fill="url(#cg28)"/>
<rect x="33" y="378.4" width="104" height="0.6" fill="url(#cg28)"/>
<circle cx="101.5" cy="378.45" r="0.9" fill="#2c72b0" opacity="0.85"/>
<circle cx="105.21" cy="378.73" r="0.9" fill="#2c72b0" opacity="0.85"/>
<circle cx="96.59" cy="379.48" r="0.9" fill="#2c72b0" opacity="0.85"/>
<circle cx="94.34" cy="379.29" r="0.9" fill="#2c72b0" opacity="0.85"/>
<circle cx="81.11" cy="378.32" r="0.9" fill="#2c72b0" opacity="0.85"/>
<circle cx="95.11" cy="379.15" r="0.9" fill="#2c72b0" opacity="0.85"/>
<circle cx="72.37" cy="379.13" r="0.9" fill="#2c72b0" opacity="0.85"/>
<circle cx="104.86" cy="379.21" r="0.9" fill="#2c72b0" opacity="0.85"/>
<circle cx="101.45" cy="377.96" r="0.9" fill="#2c72b0" opacity="0.85"/>
<circle cx="92.26" cy="378.22" r="0.9" fill="#2c72b0" opacity="0.85"/>
<circle cx="95.76" cy="377.98" r="0.9" fill="#2c72b0" opacity="0.85"/>
<circle cx="97.79" cy="378.79" r="0.9" fill="#2c72b0" opacity="0.85"/>
<circle cx="101.61" cy="379.42" r="0.9" fill="#2c72b0" opacity="0.85"/>
<circle cx="85.96" cy="379.36" r="0.9" fill="#2c72b0" opacity="0.85"/>
<circle cx="106.42" cy="378.54" r="0.9" fill="#2c72b0" opacity="0.85"/>
<circle cx="99.3" cy="378.09" r="0.9" fill="#2c72b0" opacity="0.85"/>
<circle cx="101.46" cy="378.8" r="0.9" fill="#2c72b0" opacity="0.85"/>
<circle cx="92.05" cy="378.93" r="0.9" fill="#2c72b0" opacity="0.85"/>
<circle cx="108.33" cy="378.53" r="0.9" fill="#2c72b0" opacity="0.85"/>
<circle cx="89.97" cy="378.62" r="0.9" fill="#2c72b0" opacity="0.85"/>
<circle cx="107.96" cy="379.49" r="0.9" fill="#2c72b0" opacity="0.85"/>
<circle cx="115.91" cy="378.25" r="0.9" fill="#2c72b0" opacity="0.85"/>
<circle cx="101.46" cy="378.46" r="0.9" fill="#2c72b0" opacity="0.85"/>
<circle cx="95.85" cy="379.34" r="0.9" fill="#2c72b0" opacity="0.85"/>
<circle cx="109.73" cy="377.98" r="0.9" fill="#2c72b0" opacity="0.85"/>
<circle cx="83.25" cy="379.16" r="0.9" fill="#2c72b0" opacity="0.85"/>
<circle cx="90.38" cy="379.48" r="0.9" fill="#2c72b0" opacity="0.85"/>
<circle cx="80.04" cy="377.99" r="0.9" fill="#2c72b0" opacity="0.85"/>
<circle cx="104.3" cy="379.4" r="0.9" fill="#2c72b0" opacity="0.85"/>
<circle cx="107.24" cy="378.98" r="0.9" fill="#2c72b0" opacity="0.85"/>
<circle cx="89.96" cy="379.11" r="0.9" fill="#2c72b0" opacity="0.85"/>
<circle cx="106.76" cy="378.07" r="0.9" fill="#2c72b0" opacity="0.85"/>
<circle cx="90.55" cy="378.1" r="0.9" fill="#2c72b0" opacity="0.85"/>
<circle cx="100.89" cy="378.67" r="0.9" fill="#2c72b0" opacity="0.85"/>
<circle cx="97.61" cy="378.13" r="0.9" fill="#2c72b0" opacity="0.85"/>
<circle cx="100.44" cy="378.98" r="0.9" fill="#2c72b0" opacity="0.85"/>
<circle cx="109.84" cy="378.21" r="0.9" fill="#2c72b0" opacity="0.85"/>
<circle cx="95.26" cy="377.96" r="0.9" fill="#2c72b0" opacity="0.85"/>
<circle cx="100.34" cy="379.39" r="0.9" fill="#2c72b0" opacity="0.85"/>
<circle cx="90.9" cy="379.29" r="0.9" fill="#2c72b0" opacity="0.85"/>
<circle cx="98.2" cy="378.62" r="0.9" fill="#2c72b0" opacity="0.85"/>
<circle cx="90.47" cy="378.06" r="0.9" fill="#2c72b0" opacity="0.85"/>
<circle cx="111.33" cy="378.91" r="0.9" fill="#2c72b0" opacity="0.85"/>
<circle cx="85.68" cy="378.62" r="0.9" fill="#2c72b0" opacity="0.85"/>
<circle cx="84.05" cy="378.66" r="0.9" fill="#2c72b0" opacity="0.85"/>
<circle cx="34.3" cy="378.8" r="0.95" fill="#2c72b0" opacity="0.9"/>
<circle cx="47.4" cy="378.41" r="0.95" fill="#2c72b0" opacity="0.9"/>
<circle cx="120" cy="378.48" r="0.95" fill="#2c72b0" opacity="0.9"/>
<circle cx="128" cy="378.35" r="0.95" fill="#2c72b0" opacity="0.9"/>
<defs><linearGradient id="cg29" x1="0" y1="0" x2="1" y2="0"><stop offset="0" stop-color="#fbb27a" stop-opacity="0.15"/><stop offset="0.4" stop-color="#fbb27a" stop-opacity="0.7"/><stop offset="0.65" stop-color="#fbb27a" stop-opacity="0.95"/><stop offset="0.9" stop-color="#fbb27a" stop-opacity="0.7"/><stop offset="1" stop-color="#fbb27a" stop-opacity="0.15"/></linearGradient></defs>
<path d="M13 384.1 Q95 382.1 140 384.1 Q95 386.1 13 384.1Z" fill="url(#cg29)"/>
<rect x="13" y="383.8" width="127" height="0.6" fill="url(#cg29)"/>
<circle cx="117.02" cy="384.44" r="0.9" fill="#f5892a" opacity="0.85"/>
<circle cx="87.61" cy="384.69" r="0.9" fill="#f5892a" opacity="0.85"/>
<circle cx="92.42" cy="383.73" r="0.9" fill="#f5892a" opacity="0.85"/>
<circle cx="88.07" cy="383.73" r="0.9" fill="#f5892a" opacity="0.85"/>
<circle cx="99.29" cy="384.64" r="0.9" fill="#f5892a" opacity="0.85"/>
<circle cx="90.7" cy="384.09" r="0.9" fill="#f5892a" opacity="0.85"/>
<circle cx="102.32" cy="383.81" r="0.9" fill="#f5892a" opacity="0.85"/>
<circle cx="100.66" cy="384.87" r="0.9" fill="#f5892a" opacity="0.85"/>
<circle cx="91.06" cy="383.39" r="0.9" fill="#f5892a" opacity="0.85"/>
<circle cx="111.44" cy="383.64" r="0.9" fill="#f5892a" opacity="0.85"/>
<circle cx="82.26" cy="384.06" r="0.9" fill="#f5892a" opacity="0.85"/>
<circle cx="92.56" cy="383.62" r="0.9" fill="#f5892a" opacity="0.85"/>
<circle cx="105.53" cy="383.88" r="0.9" fill="#f5892a" opacity="0.85"/>
<circle cx="138" cy="384.78" r="0.9" fill="#f5892a" opacity="0.85"/>
<circle cx="92.21" cy="383.46" r="0.9" fill="#f5892a" opacity="0.85"/>
<circle cx="87.69" cy="383.39" r="0.9" fill="#f5892a" opacity="0.85"/>
<circle cx="123.89" cy="384.46" r="0.9" fill="#f5892a" opacity="0.85"/>
<circle cx="84.51" cy="383.33" r="0.9" fill="#f5892a" opacity="0.85"/>
<circle cx="132.38" cy="384.59" r="0.9" fill="#f5892a" opacity="0.85"/>
<circle cx="90.84" cy="383.3" r="0.9" fill="#f5892a" opacity="0.85"/>
<circle cx="101.47" cy="384.63" r="0.9" fill="#f5892a" opacity="0.85"/>
<circle cx="86.15" cy="384" r="0.9" fill="#f5892a" opacity="0.85"/>
<circle cx="93.51" cy="384.76" r="0.9" fill="#f5892a" opacity="0.85"/>
<circle cx="98.61" cy="383.52" r="0.9" fill="#f5892a" opacity="0.85"/>
<circle cx="112.86" cy="383.59" r="0.9" fill="#f5892a" opacity="0.85"/>
<circle cx="97.83" cy="383.61" r="0.9" fill="#f5892a" opacity="0.85"/>
<circle cx="73.1" cy="383.43" r="0.9" fill="#f5892a" opacity="0.85"/>
<circle cx="111.35" cy="384.09" r="0.9" fill="#f5892a" opacity="0.85"/>
<circle cx="105.01" cy="383.74" r="0.9" fill="#f5892a" opacity="0.85"/>
<circle cx="100.26" cy="384.43" r="0.9" fill="#f5892a" opacity="0.85"/>
<circle cx="113.55" cy="384.6" r="0.9" fill="#f5892a" opacity="0.85"/>
<circle cx="86.84" cy="383.41" r="0.9" fill="#f5892a" opacity="0.85"/>
<circle cx="90.31" cy="384.47" r="0.9" fill="#f5892a" opacity="0.85"/>
<circle cx="76.24" cy="383.39" r="0.9" fill="#f5892a" opacity="0.85"/>
<circle cx="107.22" cy="384.6" r="0.9" fill="#f5892a" opacity="0.85"/>
<circle cx="81.28" cy="384.68" r="0.9" fill="#f5892a" opacity="0.85"/>
<circle cx="118.13" cy="384.09" r="0.9" fill="#f5892a" opacity="0.85"/>
<circle cx="125.59" cy="384.06" r="0.9" fill="#f5892a" opacity="0.85"/>
<circle cx="97.98" cy="384.7" r="0.9" fill="#f5892a" opacity="0.85"/>
<circle cx="94.08" cy="384.63" r="0.9" fill="#f5892a" opacity="0.85"/>
<circle cx="36" cy="383.99" r="0.95" fill="#f5892a" opacity="0.9"/>
<circle cx="47.4" cy="383.83" r="0.95" fill="#f5892a" opacity="0.9"/>
<defs><linearGradient id="cg30" x1="0" y1="0" x2="1" y2="0"><stop offset="0" stop-color="#ee9090" stop-opacity="0.15"/><stop offset="0.42" stop-color="#ee9090" stop-opacity="0.7"/><stop offset="0.67" stop-color="#ee9090" stop-opacity="0.95"/><stop offset="0.92" stop-color="#ee9090" stop-opacity="0.7"/><stop offset="1" stop-color="#ee9090" stop-opacity="0.15"/></linearGradient></defs>
<path d="M55 389.5 Q108 387.5 134 389.5 Q108 391.5 55 389.5Z" fill="url(#cg30)"/>
<rect x="55" y="389.2" width="79" height="0.6" fill="url(#cg30)"/>
<circle cx="112.47" cy="389.29" r="0.9" fill="#d62a2a" opacity="0.85"/>
<circle cx="107.44" cy="389.53" r="0.9" fill="#d62a2a" opacity="0.85"/>
<circle cx="107.62" cy="389.41" r="0.9" fill="#d62a2a" opacity="0.85"/>
<circle cx="104.47" cy="389.84" r="0.9" fill="#d62a2a" opacity="0.85"/>
<circle cx="107.65" cy="390.01" r="0.9" fill="#d62a2a" opacity="0.85"/>
<circle cx="112.09" cy="389.84" r="0.9" fill="#d62a2a" opacity="0.85"/>
<circle cx="103.39" cy="389.31" r="0.9" fill="#d62a2a" opacity="0.85"/>
<circle cx="108.02" cy="390.1" r="0.9" fill="#d62a2a" opacity="0.85"/>
<circle cx="105.51" cy="390.23" r="0.9" fill="#d62a2a" opacity="0.85"/>
<circle cx="99.6" cy="389.55" r="0.9" fill="#d62a2a" opacity="0.85"/>
<circle cx="108.27" cy="389.56" r="0.9" fill="#d62a2a" opacity="0.85"/>
<circle cx="126.16" cy="389.06" r="0.9" fill="#d62a2a" opacity="0.85"/>
<circle cx="110.37" cy="388.99" r="0.9" fill="#d62a2a" opacity="0.85"/>
<circle cx="112.25" cy="390.01" r="0.9" fill="#d62a2a" opacity="0.85"/>
<circle cx="111.2" cy="388.75" r="0.9" fill="#d62a2a" opacity="0.85"/>
<circle cx="116.91" cy="389.01" r="0.9" fill="#d62a2a" opacity="0.85"/>
<circle cx="114.18" cy="388.73" r="0.9" fill="#d62a2a" opacity="0.85"/>
<circle cx="100.56" cy="389.54" r="0.9" fill="#d62a2a" opacity="0.85"/>
<circle cx="102.63" cy="389.82" r="0.9" fill="#d62a2a" opacity="0.85"/>
<circle cx="119.28" cy="389.85" r="0.9" fill="#d62a2a" opacity="0.85"/>
<circle cx="116.51" cy="388.77" r="0.9" fill="#d62a2a" opacity="0.85"/>
<circle cx="113.84" cy="389.5" r="0.9" fill="#d62a2a" opacity="0.85"/>
<circle cx="113.7" cy="389.15" r="0.9" fill="#d62a2a" opacity="0.85"/>
<circle cx="113.14" cy="388.92" r="0.9" fill="#d62a2a" opacity="0.85"/>
<circle cx="112.95" cy="389.65" r="0.9" fill="#d62a2a" opacity="0.85"/>
<defs><linearGradient id="cg31" x1="0" y1="0" x2="1" y2="0"><stop offset="0" stop-color="#8cbcc8" stop-opacity="0.15"/><stop offset="0.37" stop-color="#8cbcc8" stop-opacity="0.7"/><stop offset="0.62" stop-color="#8cbcc8" stop-opacity="0.95"/><stop offset="0.87" stop-color="#8cbcc8" stop-opacity="0.7"/><stop offset="1" stop-color="#8cbcc8" stop-opacity="0.15"/></linearGradient></defs>
<path d="M39 394.9 Q112 392.5 157 394.9 Q112 397.3 39 394.9Z" fill="url(#cg31)"/>
<rect x="39" y="394.6" width="118" height="0.6" fill="url(#cg31)"/>
<circle cx="115.26" cy="395.02" r="0.9" fill="#1d6c82" opacity="0.85"/>
<circle cx="108.11" cy="395.29" r="0.9" fill="#1d6c82" opacity="0.85"/>
<circle cx="120.63" cy="395.6" r="0.9" fill="#1d6c82" opacity="0.85"/>
<circle cx="126.45" cy="394.72" r="0.9" fill="#1d6c82" opacity="0.85"/>
<circle cx="96.88" cy="394.94" r="0.9" fill="#1d6c82" opacity="0.85"/>
<circle cx="120.25" cy="394.73" r="0.9" fill="#1d6c82" opacity="0.85"/>
<circle cx="126.54" cy="394.64" r="0.9" fill="#1d6c82" opacity="0.85"/>
<circle cx="106.38" cy="394.48" r="0.9" fill="#1d6c82" opacity="0.85"/>
<circle cx="107.1" cy="395.67" r="0.9" fill="#1d6c82" opacity="0.85"/>
<circle cx="120.28" cy="395.39" r="0.9" fill="#1d6c82" opacity="0.85"/>
<circle cx="126.11" cy="395.46" r="0.9" fill="#1d6c82" opacity="0.85"/>
<circle cx="103.38" cy="394.19" r="0.9" fill="#1d6c82" opacity="0.85"/>
<circle cx="89.48" cy="395.59" r="0.9" fill="#1d6c82" opacity="0.85"/>
<circle cx="109.53" cy="394.5" r="0.9" fill="#1d6c82" opacity="0.85"/>
<circle cx="100.76" cy="394.68" r="0.9" fill="#1d6c82" opacity="0.85"/>
<circle cx="117.99" cy="394.95" r="0.9" fill="#1d6c82" opacity="0.85"/>
<circle cx="120.69" cy="394.91" r="0.9" fill="#1d6c82" opacity="0.85"/>
<circle cx="116.04" cy="394.13" r="0.9" fill="#1d6c82" opacity="0.85"/>
<circle cx="127.24" cy="395.34" r="0.9" fill="#1d6c82" opacity="0.85"/>
<circle cx="130.28" cy="395.6" r="0.9" fill="#1d6c82" opacity="0.85"/>
<circle cx="101.03" cy="395.51" r="0.9" fill="#1d6c82" opacity="0.85"/>
<circle cx="99.83" cy="395.52" r="0.9" fill="#1d6c82" opacity="0.85"/>
<circle cx="124.59" cy="394.53" r="0.9" fill="#1d6c82" opacity="0.85"/>
<circle cx="114.76" cy="395.19" r="0.9" fill="#1d6c82" opacity="0.85"/>
<circle cx="110.35" cy="395.58" r="0.9" fill="#1d6c82" opacity="0.85"/>
<circle cx="123.13" cy="395.09" r="0.9" fill="#1d6c82" opacity="0.85"/>
<circle cx="111.96" cy="394.79" r="0.9" fill="#1d6c82" opacity="0.85"/>
<circle cx="122.91" cy="395.62" r="0.9" fill="#1d6c82" opacity="0.85"/>
<circle cx="110.21" cy="395.14" r="0.9" fill="#1d6c82" opacity="0.85"/>
<circle cx="119.47" cy="394.29" r="0.9" fill="#1d6c82" opacity="0.85"/>
<circle cx="93.33" cy="394.92" r="0.9" fill="#1d6c82" opacity="0.85"/>
<circle cx="99.44" cy="394.53" r="0.9" fill="#1d6c82" opacity="0.85"/>
<circle cx="101.13" cy="394.34" r="0.9" fill="#1d6c82" opacity="0.85"/>
<circle cx="114.33" cy="394.3" r="0.9" fill="#1d6c82" opacity="0.85"/>
<circle cx="117.09" cy="394.75" r="0.9" fill="#1d6c82" opacity="0.85"/>
<circle cx="117.51" cy="394.56" r="0.9" fill="#1d6c82" opacity="0.85"/>
<circle cx="112.16" cy="394.97" r="0.9" fill="#1d6c82" opacity="0.85"/>
<circle cx="115.86" cy="395.44" r="0.9" fill="#1d6c82" opacity="0.85"/>
<circle cx="102.99" cy="395.14" r="0.9" fill="#1d6c82" opacity="0.85"/>
<circle cx="104.55" cy="394.42" r="0.9" fill="#1d6c82" opacity="0.85"/>
<circle cx="62" cy="395.07" r="0.95" fill="#1d6c82" opacity="0.9"/>
<circle cx="70" cy="394.87" r="0.95" fill="#1d6c82" opacity="0.9"/>
<circle cx="80" cy="394.94" r="0.95" fill="#1d6c82" opacity="0.9"/>
<circle cx="90" cy="394.99" r="0.95" fill="#1d6c82" opacity="0.9"/>
<line x1="121.8" y1="216.5" x2="121.8" y2="400" stroke="#777" stroke-width="0.7"/>
<line x1="14" y1="281.2" x2="30.5" y2="281.2" stroke="#111" stroke-width="1.3"/>
<path d="M33.8 281.2 L28.2 277.9 L29.6 281.2 L28.2 284.5Z" fill="#111"/>
<text x="31.3" y="413.7" font-size="7.6" fill="#2a2a2a" textLength="8.1" lengthAdjust="spacingAndGlyphs">−1</text>
<text x="70.6" y="413.7" font-size="7.6" fill="#2a2a2a" textLength="15" lengthAdjust="spacingAndGlyphs">−0.5</text>
<text x="120.2" y="413.7" font-size="7.6" fill="#2a2a2a" textLength="3.8" lengthAdjust="spacingAndGlyphs">0</text>
<text x="158.3" y="413.7" font-size="7.6" fill="#2a2a2a" textLength="10.3" lengthAdjust="spacingAndGlyphs">0.5</text>
<text x="51" y="426.9" font-size="7.9" fill="#222" textLength="75" lengthAdjust="spacingAndGlyphs" style="stroke:#222;stroke-width:0.26px">DDI2 Gene effect (CERES)</text>
<text x="21" y="436.9" font-size="7.9" fill="#222" textLength="134" lengthAdjust="spacingAndGlyphs" style="stroke:#222;stroke-width:0.26px">CRISPR (DepMap 21Q2 public + score, CERES)</text>
<rect x="171.7" y="212.1" width="4.1" height="4.1" fill="#80c680"/>
<text x="178.75" y="216.4" font-size="6.1" fill="#2e2e2e" textLength="39.02" lengthAdjust="spacingAndGlyphs">Thyroid cancer</text>
<rect x="171.7" y="218.22" width="4.1" height="4.1" fill="#fcb27a"/>
<text x="178.75" y="222.52" font-size="6.1" fill="#2e2e2e" textLength="24.59" lengthAdjust="spacingAndGlyphs">Teratoma</text>
<rect x="171.7" y="224.33" width="4.1" height="4.1" fill="#7eaad6"/>
<text x="178.75" y="228.63" font-size="6.1" fill="#2e2e2e" textLength="30.83" lengthAdjust="spacingAndGlyphs">Skin cancer</text>
<rect x="171.7" y="230.44" width="4.1" height="4.1" fill="#80d2e0"/>
<text x="178.75" y="234.75" font-size="6.1" fill="#2e2e2e" textLength="23.61" lengthAdjust="spacingAndGlyphs">Sarcoma</text>
<rect x="171.7" y="236.56" width="4.1" height="4.1" fill="#d6d67c"/>
<text x="178.75" y="240.86" font-size="6.1" fill="#2e2e2e" textLength="25.26" lengthAdjust="spacingAndGlyphs">Rhabdoid</text>
<rect x="171.7" y="242.68" width="4.1" height="4.1" fill="#b4b4b4"/>
<text x="178.75" y="246.98" font-size="6.1" fill="#2e2e2e" textLength="41.32" lengthAdjust="spacingAndGlyphs">Prostate cancer</text>
<rect x="171.7" y="248.79" width="4.1" height="4.1" fill="#eeaad8"/>
<text x="178.75" y="253.09" font-size="6.1" fill="#2e2e2e" textLength="47.22" lengthAdjust="spacingAndGlyphs">Pancreatic cancer</text>
<rect x="171.7" y="254.91" width="4.1" height="4.1" fill="#bc9a94"/>
<text x="178.75" y="259.2" font-size="6.1" fill="#2e2e2e" textLength="40.01" lengthAdjust="spacingAndGlyphs">Ovarian cancer</text>
<rect x="171.7" y="261.02" width="4.1" height="4.1" fill="#bca4dc"/>
<text x="178.75" y="265.32" font-size="6.1" fill="#2e2e2e" textLength="40.01" lengthAdjust="spacingAndGlyphs">Non-cancerous</text>
<rect x="171.7" y="267.13" width="4.1" height="4.1" fill="#ec8c8c"/>
<text x="178.75" y="271.44" font-size="6.1" fill="#2e2e2e" textLength="40.01" lengthAdjust="spacingAndGlyphs">Neuroblastoma</text>
<rect x="171.7" y="273.25" width="4.1" height="4.1" fill="#80c680"/>
<text x="178.75" y="277.55" font-size="6.1" fill="#2e2e2e" textLength="23.93" lengthAdjust="spacingAndGlyphs">Myeloma</text>
<rect x="171.7" y="279.37" width="4.1" height="4.1" fill="#fcb27a"/>
<text x="178.75" y="283.67" font-size="6.1" fill="#2e2e2e" textLength="28.97" lengthAdjust="spacingAndGlyphs">Lymphoma</text>
<rect x="171.7" y="285.48" width="4.1" height="4.1" fill="#7eaad6"/>
<text x="178.75" y="289.78" font-size="6.1" fill="#2e2e2e" textLength="32.47" lengthAdjust="spacingAndGlyphs">Lung cancer</text>
<rect x="171.7" y="291.6" width="4.1" height="4.1" fill="#80d2e0"/>
<text x="178.75" y="295.9" font-size="6.1" fill="#2e2e2e" textLength="32.14" lengthAdjust="spacingAndGlyphs">Liver cancer</text>
<rect x="171.7" y="297.71" width="4.1" height="4.1" fill="#d6d67c"/>
<text x="178.75" y="302.01" font-size="6.1" fill="#2e2e2e" textLength="33.78" lengthAdjust="spacingAndGlyphs">Liposarcoma</text>
<rect x="171.7" y="303.82" width="4.1" height="4.1" fill="#b4b4b4"/>
<text x="178.75" y="308.12" font-size="6.1" fill="#2e2e2e" textLength="25.58" lengthAdjust="spacingAndGlyphs">Leukemia</text>
<rect x="171.7" y="309.94" width="4.1" height="4.1" fill="#ec8c8c"/>
<text x="178.75" y="314.24" font-size="6.1" fill="#2e2e2e" textLength="37.39" lengthAdjust="spacingAndGlyphs">Kidney cancer</text>
<rect x="171.7" y="316.06" width="4.1" height="4.1" fill="#80c680"/>
<text x="178.75" y="320.36" font-size="6.1" fill="#2e2e2e" textLength="59.04" lengthAdjust="spacingAndGlyphs">Head and neck cancer</text>
<rect x="171.7" y="322.17" width="4.1" height="4.1" fill="#fcb27a"/>
<text x="178.75" y="326.47" font-size="6.1" fill="#2e2e2e" textLength="38.03" lengthAdjust="spacingAndGlyphs">Gastric cancer</text>
<rect x="171.7" y="328.28" width="4.1" height="4.1" fill="#eeaad8"/>
<text x="178.75" y="332.58" font-size="6.1" fill="#2e2e2e" textLength="49.52" lengthAdjust="spacingAndGlyphs">Gallbladder cancer</text>
<rect x="171.7" y="334.4" width="4.1" height="4.1" fill="#7eaad6"/>
<text x="178.75" y="338.7" font-size="6.1" fill="#2e2e2e" textLength="25.9" lengthAdjust="spacingAndGlyphs">Fibroblast</text>
<rect x="171.7" y="340.51" width="4.1" height="4.1" fill="#80d2e0"/>
<text x="178.75" y="344.81" font-size="6.1" fill="#2e2e2e" textLength="29.51" lengthAdjust="spacingAndGlyphs">Eye cancer</text>
<rect x="171.7" y="346.63" width="4.1" height="4.1" fill="#d6d67c"/>
<text x="178.75" y="350.93" font-size="6.1" fill="#2e2e2e" textLength="50.51" lengthAdjust="spacingAndGlyphs">Esophageal cancer</text>
<rect x="171.7" y="352.75" width="4.1" height="4.1" fill="#b4b4b4"/>
<text x="178.75" y="357.05" font-size="6.1" fill="#2e2e2e" textLength="30.18" lengthAdjust="spacingAndGlyphs">Engineered</text>
<rect x="171.7" y="358.86" width="4.1" height="4.1" fill="#bc9a94"/>
<text x="178.75" y="363.16" font-size="6.1" fill="#2e2e2e" textLength="70.51" lengthAdjust="spacingAndGlyphs">Endometrial/uterine cancer</text>
<rect x="171.7" y="364.98" width="4.1" height="4.1" fill="#ec8c8c"/>
<text x="178.75" y="369.28" font-size="6.1" fill="#2e2e2e" textLength="61.65" lengthAdjust="spacingAndGlyphs">Colon/colorectal cancer</text>
<rect x="171.7" y="371.09" width="4.1" height="4.1" fill="#80c680"/>
<text x="178.75" y="375.39" font-size="6.1" fill="#2e2e2e" textLength="40.66" lengthAdjust="spacingAndGlyphs">Cervical cancer</text>
<rect x="171.7" y="377.21" width="4.1" height="4.1" fill="#fcb27a"/>
<text x="178.75" y="381.51" font-size="6.1" fill="#2e2e2e" textLength="36.4" lengthAdjust="spacingAndGlyphs">Breast cancer</text>
<rect x="171.7" y="383.32" width="4.1" height="4.1" fill="#7eaad6"/>
<text x="178.75" y="387.62" font-size="6.1" fill="#2e2e2e" textLength="33.12" lengthAdjust="spacingAndGlyphs">Brain cancer</text>
<rect x="171.7" y="389.44" width="4.1" height="4.1" fill="#fcb27a"/>
<text x="178.75" y="393.74" font-size="6.1" fill="#2e2e2e" textLength="33.13" lengthAdjust="spacingAndGlyphs">Bone cancer</text>
<rect x="171.7" y="395.55" width="4.1" height="4.1" fill="#ec8c8c"/>
<text x="178.75" y="399.85" font-size="6.1" fill="#2e2e2e" textLength="39.68" lengthAdjust="spacingAndGlyphs">Bladder cancer</text>
<rect x="171.7" y="401.66" width="4.1" height="4.1" fill="#7eaab8"/>
<text x="178.75" y="405.96" font-size="6.1" fill="#2e2e2e" textLength="41.98" lengthAdjust="spacingAndGlyphs">Bile duct cancer</text>
<line x1="295.6" y1="234.3" x2="295.6" y2="351.4" stroke="#3a3a3a" stroke-width="1.2"/>
<line x1="295" y1="350.8" x2="461.26" y2="350.8" stroke="#3a3a3a" stroke-width="1.2"/>
<line x1="292.4" y1="350.8" x2="295.6" y2="350.8" stroke="#3a3a3a" stroke-width="0.9"/>
<line x1="293.4" y1="339.3" x2="295.6" y2="339.3" stroke="#3a3a3a" stroke-width="0.9"/>
<line x1="292.4" y1="327.8" x2="295.6" y2="327.8" stroke="#3a3a3a" stroke-width="0.9"/>
<line x1="293.4" y1="316.3" x2="295.6" y2="316.3" stroke="#3a3a3a" stroke-width="0.9"/>
<line x1="292.4" y1="304.8" x2="295.6" y2="304.8" stroke="#3a3a3a" stroke-width="0.9"/>
<line x1="293.4" y1="293.3" x2="295.6" y2="293.3" stroke="#3a3a3a" stroke-width="0.9"/>
<line x1="292.4" y1="281.8" x2="295.6" y2="281.8" stroke="#3a3a3a" stroke-width="0.9"/>
<line x1="293.4" y1="270.3" x2="295.6" y2="270.3" stroke="#3a3a3a" stroke-width="0.9"/>
<line x1="292.4" y1="258.8" x2="295.6" y2="258.8" stroke="#3a3a3a" stroke-width="0.9"/>
<line x1="293.4" y1="247.3" x2="295.6" y2="247.3" stroke="#3a3a3a" stroke-width="0.9"/>
<line x1="292.4" y1="235.8" x2="295.6" y2="235.8" stroke="#3a3a3a" stroke-width="0.9"/>
<line x1="295.6" y1="350.8" x2="295.6" y2="353.8" stroke="#3a3a3a" stroke-width="0.9"/>
<line x1="305.86" y1="350.8" x2="305.86" y2="352.6" stroke="#3a3a3a" stroke-width="0.9"/>
<line x1="316.12" y1="350.8" x2="316.12" y2="353.8" stroke="#3a3a3a" stroke-width="0.9"/>
<line x1="326.38" y1="350.8" x2="326.38" y2="352.6" stroke="#3a3a3a" stroke-width="0.9"/>
<line x1="336.64" y1="350.8" x2="336.64" y2="353.8" stroke="#3a3a3a" stroke-width="0.9"/>
<line x1="346.9" y1="350.8" x2="346.9" y2="352.6" stroke="#3a3a3a" stroke-width="0.9"/>
<line x1="357.16" y1="350.8" x2="357.16" y2="353.8" stroke="#3a3a3a" stroke-width="0.9"/>
<line x1="367.42" y1="350.8" x2="367.42" y2="352.6" stroke="#3a3a3a" stroke-width="0.9"/>
<line x1="377.68" y1="350.8" x2="377.68" y2="353.8" stroke="#3a3a3a" stroke-width="0.9"/>
<line x1="387.94" y1="350.8" x2="387.94" y2="352.6" stroke="#3a3a3a" stroke-width="0.9"/>
<line x1="398.2" y1="350.8" x2="398.2" y2="353.8" stroke="#3a3a3a" stroke-width="0.9"/>
<line x1="408.46" y1="350.8" x2="408.46" y2="352.6" stroke="#3a3a3a" stroke-width="0.9"/>
<line x1="418.72" y1="350.8" x2="418.72" y2="353.8" stroke="#3a3a3a" stroke-width="0.9"/>
<line x1="428.98" y1="350.8" x2="428.98" y2="352.6" stroke="#3a3a3a" stroke-width="0.9"/>
<line x1="439.24" y1="350.8" x2="439.24" y2="353.8" stroke="#3a3a3a" stroke-width="0.9"/>
<line x1="449.5" y1="350.8" x2="449.5" y2="352.6" stroke="#3a3a3a" stroke-width="0.9"/>
<line x1="459.76" y1="350.8" x2="459.76" y2="353.8" stroke="#3a3a3a" stroke-width="0.9"/>
<text x="284.8" y="353.5" font-size="7.6" fill="#2a2a2a" textLength="3.8" lengthAdjust="spacingAndGlyphs">0</text>
<text x="280.7" y="330.5" font-size="7.6" fill="#2a2a2a" textLength="7.9" lengthAdjust="spacingAndGlyphs">20</text>
<text x="280.7" y="307.5" font-size="7.6" fill="#2a2a2a" textLength="7.9" lengthAdjust="spacingAndGlyphs">40</text>
<text x="280.7" y="284.5" font-size="7.6" fill="#2a2a2a" textLength="7.9" lengthAdjust="spacingAndGlyphs">60</text>
<text x="280.7" y="261.5" font-size="7.6" fill="#2a2a2a" textLength="7.9" lengthAdjust="spacingAndGlyphs">80</text>
<text x="276.5" y="238.5" font-size="7.6" fill="#2a2a2a" textLength="12.1" lengthAdjust="spacingAndGlyphs">100</text>
<text x="293.7" y="363.3" font-size="7.6" fill="#2a2a2a" textLength="3.8" lengthAdjust="spacingAndGlyphs">0</text>
<text x="309.97" y="363.3" font-size="7.6" fill="#2a2a2a" textLength="12.3" lengthAdjust="spacingAndGlyphs">100</text>
<text x="330.49" y="363.3" font-size="7.6" fill="#2a2a2a" textLength="12.3" lengthAdjust="spacingAndGlyphs">200</text>
<text x="351.01" y="363.3" font-size="7.6" fill="#2a2a2a" textLength="12.3" lengthAdjust="spacingAndGlyphs">300</text>
<text x="371.53" y="363.3" font-size="7.6" fill="#2a2a2a" textLength="12.3" lengthAdjust="spacingAndGlyphs">400</text>
<text x="392.05" y="363.3" font-size="7.6" fill="#2a2a2a" textLength="12.3" lengthAdjust="spacingAndGlyphs">500</text>
<text x="412.57" y="363.3" font-size="7.6" fill="#2a2a2a" textLength="12.3" lengthAdjust="spacingAndGlyphs">600</text>
<text x="433.09" y="363.3" font-size="7.6" fill="#2a2a2a" textLength="12.3" lengthAdjust="spacingAndGlyphs">700</text>
<text x="453.61" y="363.3" font-size="7.6" fill="#2a2a2a" textLength="12.3" lengthAdjust="spacingAndGlyphs">800</text>
<text x="346" y="375.9" font-size="8.4" fill="#222" textLength="62.4" lengthAdjust="spacingAndGlyphs" style="stroke:#222;stroke-width:0.28px">Bortezomib dose (nM)</text>
<text x="271.2" y="327.5" font-size="8.2" fill="#222" textLength="70" lengthAdjust="spacingAndGlyphs" transform="rotate(-90 271.2 327.5)" style="stroke:#222;stroke-width:0.28px">Relative % of living cells</text>
<polyline points="295.6,235.8 300.73,236.95 305.86,237.18 316.12,237.53 336.64,238.1 377.68,238.79 459.76,239.83" fill="none" stroke="#8b87d8" stroke-width="1.3" stroke-dasharray="1 1"/>
<line x1="377.68" y1="253.05" x2="377.68" y2="264.55" stroke="#1b6e50" stroke-width="0.9"/>
<line x1="375.28" y1="253.05" x2="380.08" y2="253.05" stroke="#1b6e50" stroke-width="0.9"/>
<line x1="375.28" y1="264.55" x2="380.08" y2="264.55" stroke="#1b6e50" stroke-width="0.9"/>
<line x1="459.76" y1="254.55" x2="459.76" y2="275.25" stroke="#1b6e50" stroke-width="0.9"/>
<line x1="457.36" y1="254.55" x2="462.16" y2="254.55" stroke="#1b6e50" stroke-width="0.9"/>
<line x1="457.36" y1="275.25" x2="462.16" y2="275.25" stroke="#1b6e50" stroke-width="0.9"/>
<polyline points="295.6,235.8 300.73,239.25 305.86,243.85 316.12,248.45 336.64,254.2 377.68,258.8 459.76,264.89" fill="none" stroke="#1b6e50" stroke-width="1.3" stroke-dasharray="3 2"/>
<line x1="316.12" y1="248.45" x2="316.12" y2="255.35" stroke="#f7941e" stroke-width="0.9"/>
<line x1="313.72" y1="248.45" x2="318.52" y2="248.45" stroke="#f7941e" stroke-width="0.9"/>
<line x1="313.72" y1="255.35" x2="318.52" y2="255.35" stroke="#f7941e" stroke-width="0.9"/>
<line x1="336.64" y1="257.08" x2="336.64" y2="266.28" stroke="#f7941e" stroke-width="0.9"/>
<line x1="334.24" y1="257.08" x2="339.04" y2="257.08" stroke="#f7941e" stroke-width="0.9"/>
<line x1="334.24" y1="266.28" x2="339.04" y2="266.28" stroke="#f7941e" stroke-width="0.9"/>
<line x1="377.68" y1="263.4" x2="377.68" y2="284.1" stroke="#f7941e" stroke-width="0.9"/>
<line x1="375.28" y1="263.4" x2="380.08" y2="263.4" stroke="#f7941e" stroke-width="0.9"/>
<line x1="375.28" y1="284.1" x2="380.08" y2="284.1" stroke="#f7941e" stroke-width="0.9"/>
<line x1="459.76" y1="274.9" x2="459.76" y2="297.9" stroke="#f7941e" stroke-width="0.9"/>
<line x1="457.36" y1="274.9" x2="462.16" y2="274.9" stroke="#f7941e" stroke-width="0.9"/>
<line x1="457.36" y1="297.9" x2="462.16" y2="297.9" stroke="#f7941e" stroke-width="0.9"/>
<polyline points="295.6,235.8 300.73,239.25 305.86,243.85 316.12,251.9 336.64,261.68 377.68,273.75 459.76,286.4" fill="none" stroke="#f7941e" stroke-width="1.3" stroke-dasharray="3 2"/>
<line x1="316.12" y1="263.4" x2="316.12" y2="274.9" stroke="#5c2d87" stroke-width="0.9"/>
<line x1="313.72" y1="263.4" x2="318.52" y2="263.4" stroke="#5c2d87" stroke-width="0.9"/>
<line x1="313.72" y1="274.9" x2="318.52" y2="274.9" stroke="#5c2d87" stroke-width="0.9"/>
<line x1="336.64" y1="273.41" x2="336.64" y2="286.06" stroke="#5c2d87" stroke-width="0.9"/>
<line x1="334.24" y1="273.41" x2="339.04" y2="273.41" stroke="#5c2d87" stroke-width="0.9"/>
<line x1="334.24" y1="286.06" x2="339.04" y2="286.06" stroke="#5c2d87" stroke-width="0.9"/>
<line x1="377.68" y1="285.83" x2="377.68" y2="296.18" stroke="#5c2d87" stroke-width="0.9"/>
<line x1="375.28" y1="285.83" x2="380.08" y2="285.83" stroke="#5c2d87" stroke-width="0.9"/>
<line x1="375.28" y1="296.18" x2="380.08" y2="296.18" stroke="#5c2d87" stroke-width="0.9"/>
<polyline points="295.6,235.8 300.73,239.25 305.86,251.9 316.12,269.15 336.64,279.73 377.68,291 459.76,299.39" fill="none" stroke="#5c2d87" stroke-width="1.3"/>
<line x1="316.12" y1="284.68" x2="316.12" y2="303.08" stroke="#3cb54a" stroke-width="0.9"/>
<line x1="313.72" y1="284.68" x2="318.52" y2="284.68" stroke="#3cb54a" stroke-width="0.9"/>
<line x1="313.72" y1="303.08" x2="318.52" y2="303.08" stroke="#3cb54a" stroke-width="0.9"/>
<line x1="336.64" y1="305.03" x2="336.64" y2="323.43" stroke="#3cb54a" stroke-width="0.9"/>
<line x1="334.24" y1="305.03" x2="339.04" y2="305.03" stroke="#3cb54a" stroke-width="0.9"/>
<line x1="334.24" y1="323.43" x2="339.04" y2="323.43" stroke="#3cb54a" stroke-width="0.9"/>
<line x1="377.68" y1="320.67" x2="377.68" y2="331.25" stroke="#3cb54a" stroke-width="0.9"/>
<line x1="375.28" y1="320.67" x2="380.08" y2="320.67" stroke="#3cb54a" stroke-width="0.9"/>
<line x1="375.28" y1="331.25" x2="380.08" y2="331.25" stroke="#3cb54a" stroke-width="0.9"/>
<line x1="459.76" y1="327.69" x2="459.76" y2="338.26" stroke="#3cb54a" stroke-width="0.9"/>
<line x1="457.36" y1="327.69" x2="462.16" y2="327.69" stroke="#3cb54a" stroke-width="0.9"/>
<line x1="457.36" y1="338.26" x2="462.16" y2="338.26" stroke="#3cb54a" stroke-width="0.9"/>
<polyline points="295.6,235.8 300.73,240.4 305.86,255.35 316.12,293.88 336.64,314.23 377.68,325.96 459.76,332.98" fill="none" stroke="#3cb54a" stroke-width="1.3"/>
<line x1="316.12" y1="309.98" x2="316.12" y2="315.73" stroke="#1d5a94" stroke-width="0.9"/>
<line x1="313.72" y1="309.98" x2="318.52" y2="309.98" stroke="#1d5a94" stroke-width="0.9"/>
<line x1="313.72" y1="315.73" x2="318.52" y2="315.73" stroke="#1d5a94" stroke-width="0.9"/>
<polyline points="295.6,235.8 300.73,238.1 305.86,257.65 316.12,312.85 336.64,342.18 377.68,348.5 459.76,348.5" fill="none" stroke="#1d5a94" stroke-width="1.3"/>
<line x1="305.86" y1="250.75" x2="305.86" y2="259.95" stroke="#cc1f3c" stroke-width="0.9"/>
<line x1="303.46" y1="250.75" x2="308.26" y2="250.75" stroke="#cc1f3c" stroke-width="0.9"/>
<line x1="303.46" y1="259.95" x2="308.26" y2="259.95" stroke="#cc1f3c" stroke-width="0.9"/>
<line x1="316.12" y1="264.55" x2="316.12" y2="289.85" stroke="#cc1f3c" stroke-width="0.9"/>
<line x1="313.72" y1="264.55" x2="318.52" y2="264.55" stroke="#cc1f3c" stroke-width="0.9"/>
<line x1="313.72" y1="289.85" x2="318.52" y2="289.85" stroke="#cc1f3c" stroke-width="0.9"/>
<line x1="336.64" y1="287.55" x2="336.64" y2="310.55" stroke="#cc1f3c" stroke-width="0.9"/>
<line x1="334.24" y1="287.55" x2="339.04" y2="287.55" stroke="#cc1f3c" stroke-width="0.9"/>
<line x1="334.24" y1="310.55" x2="339.04" y2="310.55" stroke="#cc1f3c" stroke-width="0.9"/>
<line x1="377.68" y1="301" x2="377.68" y2="324" stroke="#cc1f3c" stroke-width="0.9"/>
<line x1="375.28" y1="301" x2="380.08" y2="301" stroke="#cc1f3c" stroke-width="0.9"/>
<line x1="375.28" y1="324" x2="380.08" y2="324" stroke="#cc1f3c" stroke-width="0.9"/>
<line x1="459.76" y1="313.88" x2="459.76" y2="333.44" stroke="#cc1f3c" stroke-width="0.9"/>
<line x1="457.36" y1="313.88" x2="462.16" y2="313.88" stroke="#cc1f3c" stroke-width="0.9"/>
<line x1="457.36" y1="333.44" x2="462.16" y2="333.44" stroke="#cc1f3c" stroke-width="0.9"/>
<polyline points="295.6,235.8 300.73,239.25 305.86,255.35 316.12,277.2 336.64,299.05 377.68,312.5 459.76,323.66" fill="none" stroke="#cc1f3c" stroke-width="1.3"/>
<circle cx="295.6" cy="235.8" r="1.8" fill="#8b87d8"/>
<line x1="295.6" y1="235.8" x2="298.12" y2="235.8" stroke="#8b87d8" stroke-width="0.8"/>
<line x1="295.6" y1="235.8" x2="297.38" y2="237.58" stroke="#8b87d8" stroke-width="0.8"/>
<line x1="295.6" y1="235.8" x2="295.6" y2="238.32" stroke="#8b87d8" stroke-width="0.8"/>
<line x1="295.6" y1="235.8" x2="293.82" y2="237.58" stroke="#8b87d8" stroke-width="0.8"/>
<line x1="295.6" y1="235.8" x2="293.08" y2="235.8" stroke="#8b87d8" stroke-width="0.8"/>
<line x1="295.6" y1="235.8" x2="293.82" y2="234.02" stroke="#8b87d8" stroke-width="0.8"/>
<line x1="295.6" y1="235.8" x2="295.6" y2="233.28" stroke="#8b87d8" stroke-width="0.8"/>
<line x1="295.6" y1="235.8" x2="297.38" y2="234.02" stroke="#8b87d8" stroke-width="0.8"/>
<circle cx="300.73" cy="236.95" r="1.8" fill="#8b87d8"/>
<line x1="300.73" y1="236.95" x2="303.25" y2="236.95" stroke="#8b87d8" stroke-width="0.8"/>
<line x1="300.73" y1="236.95" x2="302.51" y2="238.73" stroke="#8b87d8" stroke-width="0.8"/>
<line x1="300.73" y1="236.95" x2="300.73" y2="239.47" stroke="#8b87d8" stroke-width="0.8"/>
<line x1="300.73" y1="236.95" x2="298.95" y2="238.73" stroke="#8b87d8" stroke-width="0.8"/>
<line x1="300.73" y1="236.95" x2="298.21" y2="236.95" stroke="#8b87d8" stroke-width="0.8"/>
<line x1="300.73" y1="236.95" x2="298.95" y2="235.17" stroke="#8b87d8" stroke-width="0.8"/>
<line x1="300.73" y1="236.95" x2="300.73" y2="234.43" stroke="#8b87d8" stroke-width="0.8"/>
<line x1="300.73" y1="236.95" x2="302.51" y2="235.17" stroke="#8b87d8" stroke-width="0.8"/>
<circle cx="305.86" cy="237.18" r="1.8" fill="#8b87d8"/>
<line x1="305.86" y1="237.18" x2="308.38" y2="237.18" stroke="#8b87d8" stroke-width="0.8"/>
<line x1="305.86" y1="237.18" x2="307.64" y2="238.96" stroke="#8b87d8" stroke-width="0.8"/>
<line x1="305.86" y1="237.18" x2="305.86" y2="239.7" stroke="#8b87d8" stroke-width="0.8"/>
<line x1="305.86" y1="237.18" x2="304.08" y2="238.96" stroke="#8b87d8" stroke-width="0.8"/>
<line x1="305.86" y1="237.18" x2="303.34" y2="237.18" stroke="#8b87d8" stroke-width="0.8"/>
<line x1="305.86" y1="237.18" x2="304.08" y2="235.4" stroke="#8b87d8" stroke-width="0.8"/>
<line x1="305.86" y1="237.18" x2="305.86" y2="234.66" stroke="#8b87d8" stroke-width="0.8"/>
<line x1="305.86" y1="237.18" x2="307.64" y2="235.4" stroke="#8b87d8" stroke-width="0.8"/>
<circle cx="316.12" cy="237.53" r="1.8" fill="#8b87d8"/>
<line x1="316.12" y1="237.53" x2="318.64" y2="237.53" stroke="#8b87d8" stroke-width="0.8"/>
<line x1="316.12" y1="237.53" x2="317.9" y2="239.31" stroke="#8b87d8" stroke-width="0.8"/>
<line x1="316.12" y1="237.53" x2="316.12" y2="240.05" stroke="#8b87d8" stroke-width="0.8"/>
<line x1="316.12" y1="237.53" x2="314.34" y2="239.31" stroke="#8b87d8" stroke-width="0.8"/>
<line x1="316.12" y1="237.53" x2="313.6" y2="237.53" stroke="#8b87d8" stroke-width="0.8"/>
<line x1="316.12" y1="237.53" x2="314.34" y2="235.74" stroke="#8b87d8" stroke-width="0.8"/>
<line x1="316.12" y1="237.53" x2="316.12" y2="235.01" stroke="#8b87d8" stroke-width="0.8"/>
<line x1="316.12" y1="237.53" x2="317.9" y2="235.74" stroke="#8b87d8" stroke-width="0.8"/>
<circle cx="336.64" cy="238.1" r="1.8" fill="#8b87d8"/>
<line x1="336.64" y1="238.1" x2="339.16" y2="238.1" stroke="#8b87d8" stroke-width="0.8"/>
<line x1="336.64" y1="238.1" x2="338.42" y2="239.88" stroke="#8b87d8" stroke-width="0.8"/>
<line x1="336.64" y1="238.1" x2="336.64" y2="240.62" stroke="#8b87d8" stroke-width="0.8"/>
<line x1="336.64" y1="238.1" x2="334.86" y2="239.88" stroke="#8b87d8" stroke-width="0.8"/>
<line x1="336.64" y1="238.1" x2="334.12" y2="238.1" stroke="#8b87d8" stroke-width="0.8"/>
<line x1="336.64" y1="238.1" x2="334.86" y2="236.32" stroke="#8b87d8" stroke-width="0.8"/>
<line x1="336.64" y1="238.1" x2="336.64" y2="235.58" stroke="#8b87d8" stroke-width="0.8"/>
<line x1="336.64" y1="238.1" x2="338.42" y2="236.32" stroke="#8b87d8" stroke-width="0.8"/>
<circle cx="377.68" cy="238.79" r="1.8" fill="#8b87d8"/>
<line x1="377.68" y1="238.79" x2="380.2" y2="238.79" stroke="#8b87d8" stroke-width="0.8"/>
<line x1="377.68" y1="238.79" x2="379.46" y2="240.57" stroke="#8b87d8" stroke-width="0.8"/>
<line x1="377.68" y1="238.79" x2="377.68" y2="241.31" stroke="#8b87d8" stroke-width="0.8"/>
<line x1="377.68" y1="238.79" x2="375.9" y2="240.57" stroke="#8b87d8" stroke-width="0.8"/>
<line x1="377.68" y1="238.79" x2="375.16" y2="238.79" stroke="#8b87d8" stroke-width="0.8"/>
<line x1="377.68" y1="238.79" x2="375.9" y2="237.01" stroke="#8b87d8" stroke-width="0.8"/>
<line x1="377.68" y1="238.79" x2="377.68" y2="236.27" stroke="#8b87d8" stroke-width="0.8"/>
<line x1="377.68" y1="238.79" x2="379.46" y2="237.01" stroke="#8b87d8" stroke-width="0.8"/>
<circle cx="459.76" cy="239.83" r="1.8" fill="#8b87d8"/>
<line x1="459.76" y1="239.83" x2="462.28" y2="239.83" stroke="#8b87d8" stroke-width="0.8"/>
<line x1="459.76" y1="239.83" x2="461.54" y2="241.61" stroke="#8b87d8" stroke-width="0.8"/>
<line x1="459.76" y1="239.83" x2="459.76" y2="242.35" stroke="#8b87d8" stroke-width="0.8"/>
<line x1="459.76" y1="239.83" x2="457.98" y2="241.61" stroke="#8b87d8" stroke-width="0.8"/>
<line x1="459.76" y1="239.83" x2="457.24" y2="239.83" stroke="#8b87d8" stroke-width="0.8"/>
<line x1="459.76" y1="239.83" x2="457.98" y2="238.04" stroke="#8b87d8" stroke-width="0.8"/>
<line x1="459.76" y1="239.83" x2="459.76" y2="237.31" stroke="#8b87d8" stroke-width="0.8"/>
<line x1="459.76" y1="239.83" x2="461.54" y2="238.04" stroke="#8b87d8" stroke-width="0.8"/>
<path d="M295.6 232.92 L298.48 235.8 L295.6 238.68 L292.72 235.8Z" fill="#fff" stroke="#1b6e50" stroke-width="0.9"/>
<path d="M300.73 236.37 L303.61 239.25 L300.73 242.13 L297.85 239.25Z" fill="#fff" stroke="#1b6e50" stroke-width="0.9"/>
<path d="M305.86 240.97 L308.74 243.85 L305.86 246.73 L302.98 243.85Z" fill="#fff" stroke="#1b6e50" stroke-width="0.9"/>
<path d="M316.12 245.57 L319 248.45 L316.12 251.33 L313.24 248.45Z" fill="#fff" stroke="#1b6e50" stroke-width="0.9"/>
<path d="M336.64 251.32 L339.52 254.2 L336.64 257.08 L333.76 254.2Z" fill="#fff" stroke="#1b6e50" stroke-width="0.9"/>
<path d="M377.68 255.92 L380.56 258.8 L377.68 261.68 L374.8 258.8Z" fill="#fff" stroke="#1b6e50" stroke-width="0.9"/>
<path d="M459.76 262.01 L462.64 264.89 L459.76 267.77 L456.88 264.89Z" fill="#fff" stroke="#1b6e50" stroke-width="0.9"/>
<rect x="293.15" y="233.35" width="4.9" height="4.9" fill="#fff" stroke="#f7941e" stroke-width="0.9"/>
<rect x="298.28" y="236.8" width="4.9" height="4.9" fill="#fff" stroke="#f7941e" stroke-width="0.9"/>
<rect x="303.41" y="241.4" width="4.9" height="4.9" fill="#fff" stroke="#f7941e" stroke-width="0.9"/>
<rect x="313.67" y="249.45" width="4.9" height="4.9" fill="#fff" stroke="#f7941e" stroke-width="0.9"/>
<rect x="334.19" y="259.23" width="4.9" height="4.9" fill="#fff" stroke="#f7941e" stroke-width="0.9"/>
<rect x="375.23" y="271.3" width="4.9" height="4.9" fill="#fff" stroke="#f7941e" stroke-width="0.9"/>
<rect x="457.31" y="283.95" width="4.9" height="4.9" fill="#fff" stroke="#f7941e" stroke-width="0.9"/>
<path d="M295.6 233.16 L298.12 237.72 L293.08 237.72Z" fill="#fff" stroke="#5c2d87" stroke-width="0.9"/>
<path d="M300.73 236.61 L303.25 241.17 L298.21 241.17Z" fill="#fff" stroke="#5c2d87" stroke-width="0.9"/>
<path d="M305.86 249.26 L308.38 253.82 L303.34 253.82Z" fill="#fff" stroke="#5c2d87" stroke-width="0.9"/>
<path d="M316.12 266.51 L318.64 271.07 L313.6 271.07Z" fill="#fff" stroke="#5c2d87" stroke-width="0.9"/>
<path d="M336.64 277.09 L339.16 281.65 L334.12 281.65Z" fill="#fff" stroke="#5c2d87" stroke-width="0.9"/>
<path d="M377.68 288.36 L380.2 292.92 L375.16 292.92Z" fill="#fff" stroke="#5c2d87" stroke-width="0.9"/>
<path d="M459.76 296.75 L462.28 301.31 L457.24 301.31Z" fill="#fff" stroke="#5c2d87" stroke-width="0.9"/>
<circle cx="295.6" cy="235.8" r="2.52" fill="#fff" stroke="#3cb54a" stroke-width="0.9"/>
<circle cx="300.73" cy="240.4" r="2.52" fill="#fff" stroke="#3cb54a" stroke-width="0.9"/>
<circle cx="305.86" cy="255.35" r="2.52" fill="#fff" stroke="#3cb54a" stroke-width="0.9"/>
<circle cx="316.12" cy="293.88" r="2.52" fill="#fff" stroke="#3cb54a" stroke-width="0.9"/>
<circle cx="336.64" cy="314.23" r="2.52" fill="#fff" stroke="#3cb54a" stroke-width="0.9"/>
<circle cx="377.68" cy="325.96" r="2.52" fill="#fff" stroke="#3cb54a" stroke-width="0.9"/>
<circle cx="459.76" cy="332.98" r="2.52" fill="#fff" stroke="#3cb54a" stroke-width="0.9"/>
<rect x="293.44" y="233.64" width="4.32" height="4.32" fill="#1d5a94" stroke="#1d5a94" stroke-width="0.9"/>
<rect x="298.57" y="235.94" width="4.32" height="4.32" fill="#1d5a94" stroke="#1d5a94" stroke-width="0.9"/>
<rect x="303.7" y="255.49" width="4.32" height="4.32" fill="#1d5a94" stroke="#1d5a94" stroke-width="0.9"/>
<rect x="313.96" y="310.69" width="4.32" height="4.32" fill="#1d5a94" stroke="#1d5a94" stroke-width="0.9"/>
<rect x="334.48" y="340.01" width="4.32" height="4.32" fill="#1d5a94" stroke="#1d5a94" stroke-width="0.9"/>
<rect x="375.52" y="346.34" width="4.32" height="4.32" fill="#1d5a94" stroke="#1d5a94" stroke-width="0.9"/>
<rect x="457.6" y="346.34" width="4.32" height="4.32" fill="#1d5a94" stroke="#1d5a94" stroke-width="0.9"/>
<path d="M295.6 233.16 L298.12 237.72 L293.08 237.72Z" fill="#cc1f3c" stroke="#cc1f3c" stroke-width="0.9"/>
<path d="M300.73 236.61 L303.25 241.17 L298.21 241.17Z" fill="#cc1f3c" stroke="#cc1f3c" stroke-width="0.9"/>
<path d="M305.86 252.71 L308.38 257.27 L303.34 257.27Z" fill="#cc1f3c" stroke="#cc1f3c" stroke-width="0.9"/>
<path d="M316.12 274.56 L318.64 279.12 L313.6 279.12Z" fill="#cc1f3c" stroke="#cc1f3c" stroke-width="0.9"/>
<path d="M336.64 296.41 L339.16 300.97 L334.12 300.97Z" fill="#cc1f3c" stroke="#cc1f3c" stroke-width="0.9"/>
<path d="M377.68 309.87 L380.2 314.43 L375.16 314.43Z" fill="#cc1f3c" stroke="#cc1f3c" stroke-width="0.9"/>
<path d="M459.76 321.02 L462.28 325.58 L457.24 325.58Z" fill="#cc1f3c" stroke="#cc1f3c" stroke-width="0.9"/>
<line x1="468.3" y1="259.7" x2="483.6" y2="259.7" stroke="#cc1f3c" stroke-width="1.3"/>
<path d="M475.95 257.06 L478.47 261.62 L473.43 261.62Z" fill="#cc1f3c" stroke="#cc1f3c" stroke-width="0.9"/>
<text x="486.5" y="262.3" font-size="7.4" fill="#2a2a2a" textLength="20.8" lengthAdjust="spacingAndGlyphs">MM1S</text>
<line x1="468.3" y1="272.22" x2="483.6" y2="272.22" stroke="#1d5a94" stroke-width="1.3"/>
<rect x="473.79" y="270.06" width="4.32" height="4.32" fill="#1d5a94" stroke="#1d5a94" stroke-width="0.9"/>
<text x="486.5" y="274.82" font-size="7.4" fill="#2a2a2a" textLength="17.3" lengthAdjust="spacingAndGlyphs">H929</text>
<line x1="468.3" y1="284.74" x2="483.6" y2="284.74" stroke="#3cb54a" stroke-width="1.3"/>
<circle cx="475.95" cy="284.74" r="2.52" fill="#fff" stroke="#3cb54a" stroke-width="0.9"/>
<text x="486.5" y="287.34" font-size="7.4" fill="#2a2a2a" textLength="20" lengthAdjust="spacingAndGlyphs">AMO1</text>
<line x1="468.3" y1="297.26" x2="483.6" y2="297.26" stroke="#5c2d87" stroke-width="1.3"/>
<path d="M475.95 294.62 L478.47 299.18 L473.43 299.18Z" fill="#fff" stroke="#5c2d87" stroke-width="0.9"/>
<text x="486.5" y="299.86" font-size="7.4" fill="#2a2a2a" textLength="17.3" lengthAdjust="spacingAndGlyphs">U266</text>
<line x1="468.3" y1="309.78" x2="483.6" y2="309.78" stroke="#f7941e" stroke-width="1.3" stroke-dasharray="3 2"/>
<rect x="473.5" y="307.33" width="4.9" height="4.9" fill="#fff" stroke="#f7941e" stroke-width="0.9"/>
<text x="486.5" y="312.38" font-size="7.4" fill="#2a2a2a" textLength="19.5" lengthAdjust="spacingAndGlyphs">OPM2</text>
<line x1="468.3" y1="322.3" x2="483.6" y2="322.3" stroke="#1b6e50" stroke-width="1.3" stroke-dasharray="3 2"/>
<path d="M475.95 319.42 L478.83 322.3 L475.95 325.18 L473.07 322.3Z" fill="#fff" stroke="#1b6e50" stroke-width="0.9"/>
<text x="486.5" y="324.9" font-size="7.4" fill="#2a2a2a" textLength="22.7" lengthAdjust="spacingAndGlyphs">KMS11</text>
<line x1="468.3" y1="334.82" x2="483.6" y2="334.82" stroke="#8b87d8" stroke-width="1.3" stroke-dasharray="1 1"/>
<circle cx="475.95" cy="334.82" r="1.8" fill="#8b87d8"/>
<line x1="475.95" y1="334.82" x2="478.47" y2="334.82" stroke="#8b87d8" stroke-width="0.8"/>
<line x1="475.95" y1="334.82" x2="477.73" y2="336.6" stroke="#8b87d8" stroke-width="0.8"/>
<line x1="475.95" y1="334.82" x2="475.95" y2="337.34" stroke="#8b87d8" stroke-width="0.8"/>
<line x1="475.95" y1="334.82" x2="474.17" y2="336.6" stroke="#8b87d8" stroke-width="0.8"/>
<line x1="475.95" y1="334.82" x2="473.43" y2="334.82" stroke="#8b87d8" stroke-width="0.8"/>
<line x1="475.95" y1="334.82" x2="474.17" y2="333.04" stroke="#8b87d8" stroke-width="0.8"/>
<line x1="475.95" y1="334.82" x2="475.95" y2="332.3" stroke="#8b87d8" stroke-width="0.8"/>
<line x1="475.95" y1="334.82" x2="477.73" y2="333.04" stroke="#8b87d8" stroke-width="0.8"/>
<text x="486.5" y="337.42" font-size="7.4" fill="#2a2a2a" textLength="23.2" lengthAdjust="spacingAndGlyphs">KMS20</text>
<text x="262.5" y="223.3" font-size="11" fill="#000" font-weight="bold" style="stroke:#000;stroke-width:0.15px">D</text>
<line x1="42.5" y1="476.5" x2="42.5" y2="593.6" stroke="#3a3a3a" stroke-width="1.2"/>
<line x1="41.9" y1="593" x2="208.4" y2="593" stroke="#3a3a3a" stroke-width="1.2"/>
<line x1="39.3" y1="593" x2="42.5" y2="593" stroke="#3a3a3a" stroke-width="0.9"/>
<line x1="40.3" y1="581.5" x2="42.5" y2="581.5" stroke="#3a3a3a" stroke-width="0.9"/>
<line x1="39.3" y1="570" x2="42.5" y2="570" stroke="#3a3a3a" stroke-width="0.9"/>
<line x1="40.3" y1="558.5" x2="42.5" y2="558.5" stroke="#3a3a3a" stroke-width="0.9"/>
<line x1="39.3" y1="547" x2="42.5" y2="547" stroke="#3a3a3a" stroke-width="0.9"/>
<line x1="40.3" y1="535.5" x2="42.5" y2="535.5" stroke="#3a3a3a" stroke-width="0.9"/>
<line x1="39.3" y1="524" x2="42.5" y2="524" stroke="#3a3a3a" stroke-width="0.9"/>
<line x1="40.3" y1="512.5" x2="42.5" y2="512.5" stroke="#3a3a3a" stroke-width="0.9"/>
<line x1="39.3" y1="501" x2="42.5" y2="501" stroke="#3a3a3a" stroke-width="0.9"/>
<line x1="40.3" y1="489.5" x2="42.5" y2="489.5" stroke="#3a3a3a" stroke-width="0.9"/>
<line x1="39.3" y1="478" x2="42.5" y2="478" stroke="#3a3a3a" stroke-width="0.9"/>
<line x1="42.5" y1="593" x2="42.5" y2="596" stroke="#3a3a3a" stroke-width="0.9"/>
<line x1="52.77" y1="593" x2="52.77" y2="594.8" stroke="#3a3a3a" stroke-width="0.9"/>
<line x1="63.05" y1="593" x2="63.05" y2="596" stroke="#3a3a3a" stroke-width="0.9"/>
<line x1="73.33" y1="593" x2="73.33" y2="594.8" stroke="#3a3a3a" stroke-width="0.9"/>
<line x1="83.6" y1="593" x2="83.6" y2="596" stroke="#3a3a3a" stroke-width="0.9"/>
<line x1="93.88" y1="593" x2="93.88" y2="594.8" stroke="#3a3a3a" stroke-width="0.9"/>
<line x1="104.15" y1="593" x2="104.15" y2="596" stroke="#3a3a3a" stroke-width="0.9"/>
<line x1="114.42" y1="593" x2="114.42" y2="594.8" stroke="#3a3a3a" stroke-width="0.9"/>
<line x1="124.7" y1="593" x2="124.7" y2="596" stroke="#3a3a3a" stroke-width="0.9"/>
<line x1="134.97" y1="593" x2="134.97" y2="594.8" stroke="#3a3a3a" stroke-width="0.9"/>
<line x1="145.25" y1="593" x2="145.25" y2="596" stroke="#3a3a3a" stroke-width="0.9"/>
<line x1="155.52" y1="593" x2="155.52" y2="594.8" stroke="#3a3a3a" stroke-width="0.9"/>
<line x1="165.8" y1="593" x2="165.8" y2="596" stroke="#3a3a3a" stroke-width="0.9"/>
<line x1="176.07" y1="593" x2="176.07" y2="594.8" stroke="#3a3a3a" stroke-width="0.9"/>
<line x1="186.35" y1="593" x2="186.35" y2="596" stroke="#3a3a3a" stroke-width="0.9"/>
<line x1="196.62" y1="593" x2="196.62" y2="594.8" stroke="#3a3a3a" stroke-width="0.9"/>
<line x1="206.9" y1="593" x2="206.9" y2="596" stroke="#3a3a3a" stroke-width="0.9"/>
<text x="31.7" y="595.7" font-size="7.6" fill="#2a2a2a" textLength="3.8" lengthAdjust="spacingAndGlyphs">0</text>
<text x="27.6" y="572.7" font-size="7.6" fill="#2a2a2a" textLength="7.9" lengthAdjust="spacingAndGlyphs">20</text>
<text x="27.6" y="549.7" font-size="7.6" fill="#2a2a2a" textLength="7.9" lengthAdjust="spacingAndGlyphs">40</text>
<text x="27.6" y="526.7" font-size="7.6" fill="#2a2a2a" textLength="7.9" lengthAdjust="spacingAndGlyphs">60</text>
<text x="27.6" y="503.7" font-size="7.6" fill="#2a2a2a" textLength="7.9" lengthAdjust="spacingAndGlyphs">80</text>
<text x="23.4" y="480.7" font-size="7.6" fill="#2a2a2a" textLength="12.1" lengthAdjust="spacingAndGlyphs">100</text>
<text x="40.6" y="605.5" font-size="7.6" fill="#2a2a2a" textLength="3.8" lengthAdjust="spacingAndGlyphs">0</text>
<text x="56.9" y="605.5" font-size="7.6" fill="#2a2a2a" textLength="12.3" lengthAdjust="spacingAndGlyphs">100</text>
<text x="77.45" y="605.5" font-size="7.6" fill="#2a2a2a" textLength="12.3" lengthAdjust="spacingAndGlyphs">200</text>
<text x="98" y="605.5" font-size="7.6" fill="#2a2a2a" textLength="12.3" lengthAdjust="spacingAndGlyphs">300</text>
<text x="118.55" y="605.5" font-size="7.6" fill="#2a2a2a" textLength="12.3" lengthAdjust="spacingAndGlyphs">400</text>
<text x="139.1" y="605.5" font-size="7.6" fill="#2a2a2a" textLength="12.3" lengthAdjust="spacingAndGlyphs">500</text>
<text x="159.65" y="605.5" font-size="7.6" fill="#2a2a2a" textLength="12.3" lengthAdjust="spacingAndGlyphs">600</text>
<text x="180.2" y="605.5" font-size="7.6" fill="#2a2a2a" textLength="12.3" lengthAdjust="spacingAndGlyphs">700</text>
<text x="200.75" y="605.5" font-size="7.6" fill="#2a2a2a" textLength="12.3" lengthAdjust="spacingAndGlyphs">800</text>
<text x="92.6" y="618.4" font-size="8.4" fill="#222" textLength="62.8" lengthAdjust="spacingAndGlyphs" style="stroke:#222;stroke-width:0.28px">Carfilzomib dose (nM)</text>
<text x="17.4" y="570" font-size="8.2" fill="#222" textLength="72.5" lengthAdjust="spacingAndGlyphs" transform="rotate(-90 17.4 570)" style="stroke:#222;stroke-width:0.28px">Relative % of living cells</text>
<line x1="124.7" y1="495.94" x2="124.7" y2="518.94" stroke="#8b87d8" stroke-width="0.9"/>
<line x1="122.3" y1="495.94" x2="127.1" y2="495.94" stroke="#8b87d8" stroke-width="0.9"/>
<line x1="122.3" y1="518.94" x2="127.1" y2="518.94" stroke="#8b87d8" stroke-width="0.9"/>
<line x1="206.9" y1="546.65" x2="206.9" y2="551.25" stroke="#8b87d8" stroke-width="0.9"/>
<line x1="204.5" y1="546.65" x2="209.3" y2="546.65" stroke="#8b87d8" stroke-width="0.9"/>
<line x1="204.5" y1="551.25" x2="209.3" y2="551.25" stroke="#8b87d8" stroke-width="0.9"/>
<polyline points="42.5,478 47.64,479.15 52.77,480.88 63.05,481.45 83.6,486.28 124.7,507.44 206.9,548.96" fill="none" stroke="#8b87d8" stroke-width="1.3" stroke-dasharray="1 1"/>
<line x1="52.77" y1="481.45" x2="52.77" y2="488.35" stroke="#1b6e50" stroke-width="0.9"/>
<line x1="50.38" y1="481.45" x2="55.17" y2="481.45" stroke="#1b6e50" stroke-width="0.9"/>
<line x1="50.38" y1="488.35" x2="55.17" y2="488.35" stroke="#1b6e50" stroke-width="0.9"/>
<line x1="83.6" y1="496.4" x2="83.6" y2="510.2" stroke="#1b6e50" stroke-width="0.9"/>
<line x1="81.2" y1="496.4" x2="86" y2="496.4" stroke="#1b6e50" stroke-width="0.9"/>
<line x1="81.2" y1="510.2" x2="86" y2="510.2" stroke="#1b6e50" stroke-width="0.9"/>
<line x1="124.7" y1="516.07" x2="124.7" y2="536.76" stroke="#1b6e50" stroke-width="0.9"/>
<line x1="122.3" y1="516.07" x2="127.1" y2="516.07" stroke="#1b6e50" stroke-width="0.9"/>
<line x1="122.3" y1="536.76" x2="127.1" y2="536.76" stroke="#1b6e50" stroke-width="0.9"/>
<line x1="206.9" y1="560.46" x2="206.9" y2="578.86" stroke="#1b6e50" stroke-width="0.9"/>
<line x1="204.5" y1="560.46" x2="209.3" y2="560.46" stroke="#1b6e50" stroke-width="0.9"/>
<line x1="204.5" y1="578.86" x2="209.3" y2="578.86" stroke="#1b6e50" stroke-width="0.9"/>
<polyline points="42.5,478 47.64,482.6 52.77,484.9 63.05,491.23 83.6,503.3 124.7,526.41 206.9,569.65" fill="none" stroke="#1b6e50" stroke-width="1.3" stroke-dasharray="3 2"/>
<line x1="124.7" y1="530.1" x2="124.7" y2="541.6" stroke="#f7941e" stroke-width="0.9"/>
<line x1="122.3" y1="530.1" x2="127.1" y2="530.1" stroke="#f7941e" stroke-width="0.9"/>
<line x1="122.3" y1="541.6" x2="127.1" y2="541.6" stroke="#f7941e" stroke-width="0.9"/>
<line x1="206.9" y1="579.66" x2="206.9" y2="588.86" stroke="#f7941e" stroke-width="0.9"/>
<line x1="204.5" y1="579.66" x2="209.3" y2="579.66" stroke="#f7941e" stroke-width="0.9"/>
<line x1="204.5" y1="588.86" x2="209.3" y2="588.86" stroke="#f7941e" stroke-width="0.9"/>
<polyline points="42.5,478 47.64,482.6 52.77,485.48 63.05,491.57 83.6,503.3 124.7,535.85 206.9,584.26" fill="none" stroke="#f7941e" stroke-width="1.3" stroke-dasharray="3 2"/>
<line x1="47.64" y1="481.45" x2="47.64" y2="492.95" stroke="#5c2d87" stroke-width="0.9"/>
<line x1="45.24" y1="481.45" x2="50.04" y2="481.45" stroke="#5c2d87" stroke-width="0.9"/>
<line x1="45.24" y1="492.95" x2="50.04" y2="492.95" stroke="#5c2d87" stroke-width="0.9"/>
<line x1="63.05" y1="512.15" x2="63.05" y2="523.65" stroke="#5c2d87" stroke-width="0.9"/>
<line x1="60.65" y1="512.15" x2="65.45" y2="512.15" stroke="#5c2d87" stroke-width="0.9"/>
<line x1="60.65" y1="523.65" x2="65.45" y2="523.65" stroke="#5c2d87" stroke-width="0.9"/>
<line x1="83.6" y1="536.88" x2="83.6" y2="543.78" stroke="#5c2d87" stroke-width="0.9"/>
<line x1="81.2" y1="536.88" x2="86" y2="536.88" stroke="#5c2d87" stroke-width="0.9"/>
<line x1="81.2" y1="543.78" x2="86" y2="543.78" stroke="#5c2d87" stroke-width="0.9"/>
<polyline points="42.5,478 47.64,487.2 52.77,499.85 63.05,517.9 83.6,540.33 124.7,563.56 206.9,578.28" fill="none" stroke="#5c2d87" stroke-width="1.3"/>
<line x1="83.6" y1="496.98" x2="83.6" y2="510.77" stroke="#3cb54a" stroke-width="0.9"/>
<line x1="81.2" y1="496.98" x2="86" y2="496.98" stroke="#3cb54a" stroke-width="0.9"/>
<line x1="81.2" y1="510.77" x2="86" y2="510.77" stroke="#3cb54a" stroke-width="0.9"/>
<line x1="124.7" y1="527.68" x2="124.7" y2="550.68" stroke="#3cb54a" stroke-width="0.9"/>
<line x1="122.3" y1="527.68" x2="127.1" y2="527.68" stroke="#3cb54a" stroke-width="0.9"/>
<line x1="122.3" y1="550.68" x2="127.1" y2="550.68" stroke="#3cb54a" stroke-width="0.9"/>
<line x1="206.9" y1="574.6" x2="206.9" y2="581.5" stroke="#3cb54a" stroke-width="0.9"/>
<line x1="204.5" y1="574.6" x2="209.3" y2="574.6" stroke="#3cb54a" stroke-width="0.9"/>
<line x1="204.5" y1="581.5" x2="209.3" y2="581.5" stroke="#3cb54a" stroke-width="0.9"/>
<polyline points="42.5,478 47.64,480.3 52.77,481.45 63.05,484.56 83.6,503.88 124.7,539.18 206.9,578.05" fill="none" stroke="#3cb54a" stroke-width="1.3"/>
<polyline points="42.5,478 47.64,478 52.77,500.54 63.05,554.13 83.6,585.29 124.7,592.42 206.9,592.42" fill="none" stroke="#1d5a94" stroke-width="1.3"/>
<line x1="63.05" y1="537" x2="63.05" y2="548.5" stroke="#cc1f3c" stroke-width="0.9"/>
<line x1="60.65" y1="537" x2="65.45" y2="537" stroke="#cc1f3c" stroke-width="0.9"/>
<line x1="60.65" y1="548.5" x2="65.45" y2="548.5" stroke="#cc1f3c" stroke-width="0.9"/>
<line x1="124.7" y1="584.95" x2="124.7" y2="591.85" stroke="#cc1f3c" stroke-width="0.9"/>
<line x1="122.3" y1="584.95" x2="127.1" y2="584.95" stroke="#cc1f3c" stroke-width="0.9"/>
<line x1="122.3" y1="591.85" x2="127.1" y2="591.85" stroke="#cc1f3c" stroke-width="0.9"/>
<polyline points="42.5,478 47.64,481.45 52.77,501 63.05,542.75 83.6,568.62 124.7,588.4 206.9,591.85" fill="none" stroke="#cc1f3c" stroke-width="1.3"/>
<circle cx="42.5" cy="478" r="1.8" fill="#8b87d8"/>
<line x1="42.5" y1="478" x2="45.02" y2="478" stroke="#8b87d8" stroke-width="0.8"/>
<line x1="42.5" y1="478" x2="44.28" y2="479.78" stroke="#8b87d8" stroke-width="0.8"/>
<line x1="42.5" y1="478" x2="42.5" y2="480.52" stroke="#8b87d8" stroke-width="0.8"/>
<line x1="42.5" y1="478" x2="40.72" y2="479.78" stroke="#8b87d8" stroke-width="0.8"/>
<line x1="42.5" y1="478" x2="39.98" y2="478" stroke="#8b87d8" stroke-width="0.8"/>
<line x1="42.5" y1="478" x2="40.72" y2="476.22" stroke="#8b87d8" stroke-width="0.8"/>
<line x1="42.5" y1="478" x2="42.5" y2="475.48" stroke="#8b87d8" stroke-width="0.8"/>
<line x1="42.5" y1="478" x2="44.28" y2="476.22" stroke="#8b87d8" stroke-width="0.8"/>
<circle cx="47.64" cy="479.15" r="1.8" fill="#8b87d8"/>
<line x1="47.64" y1="479.15" x2="50.16" y2="479.15" stroke="#8b87d8" stroke-width="0.8"/>
<line x1="47.64" y1="479.15" x2="49.42" y2="480.93" stroke="#8b87d8" stroke-width="0.8"/>
<line x1="47.64" y1="479.15" x2="47.64" y2="481.67" stroke="#8b87d8" stroke-width="0.8"/>
<line x1="47.64" y1="479.15" x2="45.86" y2="480.93" stroke="#8b87d8" stroke-width="0.8"/>
<line x1="47.64" y1="479.15" x2="45.12" y2="479.15" stroke="#8b87d8" stroke-width="0.8"/>
<line x1="47.64" y1="479.15" x2="45.86" y2="477.37" stroke="#8b87d8" stroke-width="0.8"/>
<line x1="47.64" y1="479.15" x2="47.64" y2="476.63" stroke="#8b87d8" stroke-width="0.8"/>
<line x1="47.64" y1="479.15" x2="49.42" y2="477.37" stroke="#8b87d8" stroke-width="0.8"/>
<circle cx="52.77" cy="480.88" r="1.8" fill="#8b87d8"/>
<line x1="52.77" y1="480.88" x2="55.3" y2="480.88" stroke="#8b87d8" stroke-width="0.8"/>
<line x1="52.77" y1="480.88" x2="54.56" y2="482.66" stroke="#8b87d8" stroke-width="0.8"/>
<line x1="52.77" y1="480.88" x2="52.77" y2="483.39" stroke="#8b87d8" stroke-width="0.8"/>
<line x1="52.77" y1="480.88" x2="50.99" y2="482.66" stroke="#8b87d8" stroke-width="0.8"/>
<line x1="52.77" y1="480.88" x2="50.25" y2="480.88" stroke="#8b87d8" stroke-width="0.8"/>
<line x1="52.77" y1="480.88" x2="50.99" y2="479.09" stroke="#8b87d8" stroke-width="0.8"/>
<line x1="52.77" y1="480.88" x2="52.77" y2="478.36" stroke="#8b87d8" stroke-width="0.8"/>
<line x1="52.77" y1="480.88" x2="54.56" y2="479.09" stroke="#8b87d8" stroke-width="0.8"/>
<circle cx="63.05" cy="481.45" r="1.8" fill="#8b87d8"/>
<line x1="63.05" y1="481.45" x2="65.57" y2="481.45" stroke="#8b87d8" stroke-width="0.8"/>
<line x1="63.05" y1="481.45" x2="64.83" y2="483.23" stroke="#8b87d8" stroke-width="0.8"/>
<line x1="63.05" y1="481.45" x2="63.05" y2="483.97" stroke="#8b87d8" stroke-width="0.8"/>
<line x1="63.05" y1="481.45" x2="61.27" y2="483.23" stroke="#8b87d8" stroke-width="0.8"/>
<line x1="63.05" y1="481.45" x2="60.53" y2="481.45" stroke="#8b87d8" stroke-width="0.8"/>
<line x1="63.05" y1="481.45" x2="61.27" y2="479.67" stroke="#8b87d8" stroke-width="0.8"/>
<line x1="63.05" y1="481.45" x2="63.05" y2="478.93" stroke="#8b87d8" stroke-width="0.8"/>
<line x1="63.05" y1="481.45" x2="64.83" y2="479.67" stroke="#8b87d8" stroke-width="0.8"/>
<circle cx="83.6" cy="486.28" r="1.8" fill="#8b87d8"/>
<line x1="83.6" y1="486.28" x2="86.12" y2="486.28" stroke="#8b87d8" stroke-width="0.8"/>
<line x1="83.6" y1="486.28" x2="85.38" y2="488.06" stroke="#8b87d8" stroke-width="0.8"/>
<line x1="83.6" y1="486.28" x2="83.6" y2="488.8" stroke="#8b87d8" stroke-width="0.8"/>
<line x1="83.6" y1="486.28" x2="81.82" y2="488.06" stroke="#8b87d8" stroke-width="0.8"/>
<line x1="83.6" y1="486.28" x2="81.08" y2="486.28" stroke="#8b87d8" stroke-width="0.8"/>
<line x1="83.6" y1="486.28" x2="81.82" y2="484.5" stroke="#8b87d8" stroke-width="0.8"/>
<line x1="83.6" y1="486.28" x2="83.6" y2="483.76" stroke="#8b87d8" stroke-width="0.8"/>
<line x1="83.6" y1="486.28" x2="85.38" y2="484.5" stroke="#8b87d8" stroke-width="0.8"/>
<circle cx="124.7" cy="507.44" r="1.8" fill="#8b87d8"/>
<line x1="124.7" y1="507.44" x2="127.22" y2="507.44" stroke="#8b87d8" stroke-width="0.8"/>
<line x1="124.7" y1="507.44" x2="126.48" y2="509.22" stroke="#8b87d8" stroke-width="0.8"/>
<line x1="124.7" y1="507.44" x2="124.7" y2="509.96" stroke="#8b87d8" stroke-width="0.8"/>
<line x1="124.7" y1="507.44" x2="122.92" y2="509.22" stroke="#8b87d8" stroke-width="0.8"/>
<line x1="124.7" y1="507.44" x2="122.18" y2="507.44" stroke="#8b87d8" stroke-width="0.8"/>
<line x1="124.7" y1="507.44" x2="122.92" y2="505.66" stroke="#8b87d8" stroke-width="0.8"/>
<line x1="124.7" y1="507.44" x2="124.7" y2="504.92" stroke="#8b87d8" stroke-width="0.8"/>
<line x1="124.7" y1="507.44" x2="126.48" y2="505.66" stroke="#8b87d8" stroke-width="0.8"/>
<circle cx="206.9" cy="548.96" r="1.8" fill="#8b87d8"/>
<line x1="206.9" y1="548.96" x2="209.42" y2="548.96" stroke="#8b87d8" stroke-width="0.8"/>
<line x1="206.9" y1="548.96" x2="208.68" y2="550.74" stroke="#8b87d8" stroke-width="0.8"/>
<line x1="206.9" y1="548.96" x2="206.9" y2="551.48" stroke="#8b87d8" stroke-width="0.8"/>
<line x1="206.9" y1="548.96" x2="205.12" y2="550.74" stroke="#8b87d8" stroke-width="0.8"/>
<line x1="206.9" y1="548.96" x2="204.38" y2="548.96" stroke="#8b87d8" stroke-width="0.8"/>
<line x1="206.9" y1="548.96" x2="205.12" y2="547.17" stroke="#8b87d8" stroke-width="0.8"/>
<line x1="206.9" y1="548.96" x2="206.9" y2="546.44" stroke="#8b87d8" stroke-width="0.8"/>
<line x1="206.9" y1="548.96" x2="208.68" y2="547.17" stroke="#8b87d8" stroke-width="0.8"/>
<path d="M42.5 475.12 L45.38 478 L42.5 480.88 L39.62 478Z" fill="#fff" stroke="#1b6e50" stroke-width="0.9"/>
<path d="M47.64 479.72 L50.52 482.6 L47.64 485.48 L44.76 482.6Z" fill="#fff" stroke="#1b6e50" stroke-width="0.9"/>
<path d="M52.77 482.02 L55.66 484.9 L52.77 487.78 L49.89 484.9Z" fill="#fff" stroke="#1b6e50" stroke-width="0.9"/>
<path d="M63.05 488.35 L65.93 491.23 L63.05 494.11 L60.17 491.23Z" fill="#fff" stroke="#1b6e50" stroke-width="0.9"/>
<path d="M83.6 500.42 L86.48 503.3 L83.6 506.18 L80.72 503.3Z" fill="#fff" stroke="#1b6e50" stroke-width="0.9"/>
<path d="M124.7 523.53 L127.58 526.41 L124.7 529.29 L121.82 526.41Z" fill="#fff" stroke="#1b6e50" stroke-width="0.9"/>
<path d="M206.9 566.77 L209.78 569.65 L206.9 572.53 L204.02 569.65Z" fill="#fff" stroke="#1b6e50" stroke-width="0.9"/>
<rect x="40.05" y="475.55" width="4.9" height="4.9" fill="#fff" stroke="#f7941e" stroke-width="0.9"/>
<rect x="45.19" y="480.15" width="4.9" height="4.9" fill="#fff" stroke="#f7941e" stroke-width="0.9"/>
<rect x="50.33" y="483.03" width="4.9" height="4.9" fill="#fff" stroke="#f7941e" stroke-width="0.9"/>
<rect x="60.6" y="489.12" width="4.9" height="4.9" fill="#fff" stroke="#f7941e" stroke-width="0.9"/>
<rect x="81.15" y="500.85" width="4.9" height="4.9" fill="#fff" stroke="#f7941e" stroke-width="0.9"/>
<rect x="122.25" y="533.4" width="4.9" height="4.9" fill="#fff" stroke="#f7941e" stroke-width="0.9"/>
<rect x="204.45" y="581.81" width="4.9" height="4.9" fill="#fff" stroke="#f7941e" stroke-width="0.9"/>
<path d="M42.5 475.36 L45.02 479.92 L39.98 479.92Z" fill="#fff" stroke="#5c2d87" stroke-width="0.9"/>
<path d="M47.64 484.56 L50.16 489.12 L45.12 489.12Z" fill="#fff" stroke="#5c2d87" stroke-width="0.9"/>
<path d="M52.77 497.21 L55.3 501.77 L50.25 501.77Z" fill="#fff" stroke="#5c2d87" stroke-width="0.9"/>
<path d="M63.05 515.26 L65.57 519.82 L60.53 519.82Z" fill="#fff" stroke="#5c2d87" stroke-width="0.9"/>
<path d="M83.6 537.69 L86.12 542.25 L81.08 542.25Z" fill="#fff" stroke="#5c2d87" stroke-width="0.9"/>
<path d="M124.7 560.92 L127.22 565.48 L122.18 565.48Z" fill="#fff" stroke="#5c2d87" stroke-width="0.9"/>
<path d="M206.9 575.64 L209.42 580.2 L204.38 580.2Z" fill="#fff" stroke="#5c2d87" stroke-width="0.9"/>
<circle cx="42.5" cy="478" r="2.52" fill="#fff" stroke="#3cb54a" stroke-width="0.9"/>
<circle cx="47.64" cy="480.3" r="2.52" fill="#fff" stroke="#3cb54a" stroke-width="0.9"/>
<circle cx="52.77" cy="481.45" r="2.52" fill="#fff" stroke="#3cb54a" stroke-width="0.9"/>
<circle cx="63.05" cy="484.56" r="2.52" fill="#fff" stroke="#3cb54a" stroke-width="0.9"/>
<circle cx="83.6" cy="503.88" r="2.52" fill="#fff" stroke="#3cb54a" stroke-width="0.9"/>
<circle cx="124.7" cy="539.18" r="2.52" fill="#fff" stroke="#3cb54a" stroke-width="0.9"/>
<circle cx="206.9" cy="578.05" r="2.52" fill="#fff" stroke="#3cb54a" stroke-width="0.9"/>
<rect x="40.34" y="475.84" width="4.32" height="4.32" fill="#1d5a94" stroke="#1d5a94" stroke-width="0.9"/>
<rect x="45.48" y="475.84" width="4.32" height="4.32" fill="#1d5a94" stroke="#1d5a94" stroke-width="0.9"/>
<rect x="50.61" y="498.38" width="4.32" height="4.32" fill="#1d5a94" stroke="#1d5a94" stroke-width="0.9"/>
<rect x="60.89" y="551.97" width="4.32" height="4.32" fill="#1d5a94" stroke="#1d5a94" stroke-width="0.9"/>
<rect x="81.44" y="583.13" width="4.32" height="4.32" fill="#1d5a94" stroke="#1d5a94" stroke-width="0.9"/>
<rect x="122.54" y="590.26" width="4.32" height="4.32" fill="#1d5a94" stroke="#1d5a94" stroke-width="0.9"/>
<rect x="204.74" y="590.26" width="4.32" height="4.32" fill="#1d5a94" stroke="#1d5a94" stroke-width="0.9"/>
<path d="M42.5 475.36 L45.02 479.92 L39.98 479.92Z" fill="#cc1f3c" stroke="#cc1f3c" stroke-width="0.9"/>
<path d="M47.64 478.81 L50.16 483.37 L45.12 483.37Z" fill="#cc1f3c" stroke="#cc1f3c" stroke-width="0.9"/>
<path d="M52.77 498.36 L55.3 502.92 L50.25 502.92Z" fill="#cc1f3c" stroke="#cc1f3c" stroke-width="0.9"/>
<path d="M63.05 540.11 L65.57 544.66 L60.53 544.66Z" fill="#cc1f3c" stroke="#cc1f3c" stroke-width="0.9"/>
<path d="M83.6 565.98 L86.12 570.54 L81.08 570.54Z" fill="#cc1f3c" stroke="#cc1f3c" stroke-width="0.9"/>
<path d="M124.7 585.76 L127.22 590.32 L122.18 590.32Z" fill="#cc1f3c" stroke="#cc1f3c" stroke-width="0.9"/>
<path d="M206.9 589.21 L209.42 593.77 L204.38 593.77Z" fill="#cc1f3c" stroke="#cc1f3c" stroke-width="0.9"/>
<line x1="226.9" y1="504" x2="241.9" y2="504" stroke="#cc1f3c" stroke-width="1.3"/>
<path d="M234.4 501.36 L236.92 505.92 L231.88 505.92Z" fill="#cc1f3c" stroke="#cc1f3c" stroke-width="0.9"/>
<text x="245.2" y="506.6" font-size="7.4" fill="#2a2a2a" textLength="20.8" lengthAdjust="spacingAndGlyphs">MM1S</text>
<line x1="226.9" y1="516.8" x2="241.9" y2="516.8" stroke="#1d5a94" stroke-width="1.3"/>
<rect x="232.24" y="514.64" width="4.32" height="4.32" fill="#1d5a94" stroke="#1d5a94" stroke-width="0.9"/>
<text x="245.2" y="519.4" font-size="7.4" fill="#2a2a2a" textLength="17.3" lengthAdjust="spacingAndGlyphs">H929</text>
<line x1="226.9" y1="529.6" x2="241.9" y2="529.6" stroke="#3cb54a" stroke-width="1.3"/>
<circle cx="234.4" cy="529.6" r="2.52" fill="#fff" stroke="#3cb54a" stroke-width="0.9"/>
<text x="245.2" y="532.2" font-size="7.4" fill="#2a2a2a" textLength="20" lengthAdjust="spacingAndGlyphs">AMO1</text>
<line x1="226.9" y1="542.4" x2="241.9" y2="542.4" stroke="#5c2d87" stroke-width="1.3"/>
<path d="M234.4 539.76 L236.92 544.32 L231.88 544.32Z" fill="#fff" stroke="#5c2d87" stroke-width="0.9"/>
<text x="245.2" y="545" font-size="7.4" fill="#2a2a2a" textLength="17.3" lengthAdjust="spacingAndGlyphs">U266</text>
<line x1="226.9" y1="555.2" x2="241.9" y2="555.2" stroke="#f7941e" stroke-width="1.3" stroke-dasharray="3 2"/>
<rect x="231.95" y="552.75" width="4.9" height="4.9" fill="#fff" stroke="#f7941e" stroke-width="0.9"/>
<text x="245.2" y="557.8" font-size="7.4" fill="#2a2a2a" textLength="19.5" lengthAdjust="spacingAndGlyphs">OPM2</text>
<line x1="226.9" y1="568" x2="241.9" y2="568" stroke="#1b6e50" stroke-width="1.3" stroke-dasharray="3 2"/>
<path d="M234.4 565.12 L237.28 568 L234.4 570.88 L231.52 568Z" fill="#fff" stroke="#1b6e50" stroke-width="0.9"/>
<text x="245.2" y="570.6" font-size="7.4" fill="#2a2a2a" textLength="22.7" lengthAdjust="spacingAndGlyphs">KMS11</text>
<line x1="226.9" y1="580.8" x2="241.9" y2="580.8" stroke="#8b87d8" stroke-width="1.3" stroke-dasharray="1 1"/>
<circle cx="234.4" cy="580.8" r="1.8" fill="#8b87d8"/>
<line x1="234.4" y1="580.8" x2="236.92" y2="580.8" stroke="#8b87d8" stroke-width="0.8"/>
<line x1="234.4" y1="580.8" x2="236.18" y2="582.58" stroke="#8b87d8" stroke-width="0.8"/>
<line x1="234.4" y1="580.8" x2="234.4" y2="583.32" stroke="#8b87d8" stroke-width="0.8"/>
<line x1="234.4" y1="580.8" x2="232.62" y2="582.58" stroke="#8b87d8" stroke-width="0.8"/>
<line x1="234.4" y1="580.8" x2="231.88" y2="580.8" stroke="#8b87d8" stroke-width="0.8"/>
<line x1="234.4" y1="580.8" x2="232.62" y2="579.02" stroke="#8b87d8" stroke-width="0.8"/>
<line x1="234.4" y1="580.8" x2="234.4" y2="578.28" stroke="#8b87d8" stroke-width="0.8"/>
<line x1="234.4" y1="580.8" x2="236.18" y2="579.02" stroke="#8b87d8" stroke-width="0.8"/>
<text x="245.2" y="583.4" font-size="7.4" fill="#2a2a2a" textLength="23.2" lengthAdjust="spacingAndGlyphs">KMS20</text>
<text x="8.3" y="467.9" font-size="11" fill="#000" font-weight="bold" style="stroke:#000;stroke-width:0.15px">E</text>
<rect x="0.6" y="0.6" width="518.8" height="626.8" fill="none" stroke="#1a1616" stroke-width="1.3"/>
</svg></body></html>
